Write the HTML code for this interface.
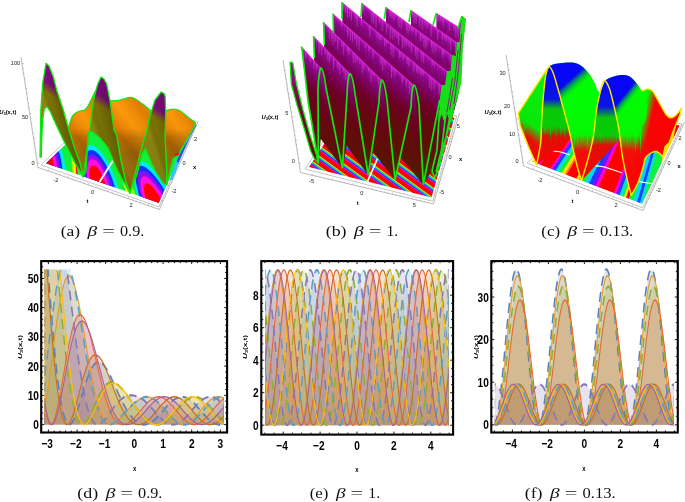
<!DOCTYPE html>
<html><head><meta charset="utf-8"><title>Figure</title>
<style>
html,body{margin:0;padding:0;background:#fff;}
svg{display:block;position:absolute;left:0;top:0;}
.tk{font-family:"Liberation Sans",sans-serif;font-weight:bold;font-size:13px;fill:#000;}
.yl{font-family:"Liberation Sans",sans-serif;font-weight:bold;font-size:8.2px;fill:#000;}
.xl{font-family:"Liberation Sans",sans-serif;font-weight:bold;font-size:8px;fill:#000;}
.cap{font-family:"Liberation Serif",serif;font-size:14.6px;fill:#111;}
.t3{font-family:"Liberation Sans",sans-serif;font-size:5.6px;fill:#222;}
.l3{font-family:"Liberation Sans",sans-serif;font-weight:bold;font-size:5.8px;fill:#000;}
</style></head><body>
<svg width="685" height="502" viewBox="0 0 685 502">
<rect width="685" height="502" fill="#fff"/>
<path d="M21 57 L38 167.5 L159.5 209.5 L198.5 121" fill="none" stroke="#777" stroke-width="0.5"/>
<path d="M41 165 L159 207 L196 124 L107 101 Z" fill="#fff" stroke="#888" stroke-width="0.5"/>
<clipPath id="fa"><path d="M46.3 163.3 L158.6 202.8 L193.7 125.4 L107.6 102.9 Z"/></clipPath>
<g clip-path="url(#fa)">
<path d="M41 165 L159 207 L196 124 L107 101 Z" fill="#10f040"/>
<path d="M66 173.9 L65.3 167.1 L64.3 160.7 L62.9 154.7 L61.3 149.4 L59.5 144.6 L57.5 140.6 L55.5 137.2 L53.3 134.6 L51.1 132.8 L48.8 131.7 L46.6 131.4 L44.5 131.9 L42.4 133.1 L40.4 135.1 L38.6 137.8 L36.9 141.3 L35.5 145.5 L34.3 150.4 L33.4 156 L32.8 162.1 L32.6 168.7 L32.9 175.6 L33.5 182.7 L34.6 189.8 L36.2 196.6 L38.2 203 L40.6 208.6 L43.3 213.3 L46.3 216.7 L49.4 218.7 L52.6 219.3 L55.6 218.3 L58.4 215.9 L60.8 212.1 L62.9 207.2 L64.5 201.4 L65.6 194.9 L66.2 188 L66.3 180.9 L66 173.9 Z" fill="#00e8ff"/>
<path d="M62.7 172.7 L62.2 166.9 L61.4 161.4 L60.3 156.3 L58.9 151.6 L57.4 147.4 L55.7 143.9 L53.9 140.9 L52.1 138.6 L50.1 137 L48.2 136 L46.2 135.7 L44.3 136.1 L42.5 137.2 L40.8 139 L39.2 141.4 L37.8 144.5 L36.5 148.2 L35.5 152.5 L34.8 157.4 L34.3 162.6 L34.2 168.3 L34.4 174.2 L35 180.1 L36 186.1 L37.4 191.8 L39.1 197 L41.1 201.6 L43.4 205.4 L45.9 208.2 L48.5 209.9 L51 210.3 L53.6 209.5 L55.9 207.6 L58 204.5 L59.7 200.5 L61.1 195.7 L62.1 190.4 L62.7 184.6 L62.9 178.7 L62.7 172.7 Z" fill="#1030ff"/>
<path d="M60 171.8 L59.6 166.8 L59 162.1 L58.1 157.7 L57 153.6 L55.7 150 L54.2 146.9 L52.7 144.3 L51.1 142.3 L49.4 140.9 L47.7 140 L46 139.8 L44.4 140.1 L42.8 141.1 L41.3 142.7 L40 144.8 L38.7 147.5 L37.7 150.8 L36.8 154.5 L36.2 158.6 L35.9 163.2 L35.8 168 L36 173 L36.5 178 L37.4 183 L38.6 187.7 L40 192 L41.7 195.8 L43.6 198.9 L45.7 201.1 L47.8 202.5 L50 202.9 L52.1 202.2 L54 200.6 L55.8 198.1 L57.3 194.9 L58.5 190.9 L59.4 186.5 L59.9 181.7 L60.1 176.8 L60 171.8 Z" fill="#8a10f0"/>
<path d="M57.3 170.8 L57 166.8 L56.5 162.8 L55.8 159.2 L54.9 155.8 L53.9 152.7 L52.7 150.1 L51.4 147.9 L50.1 146.1 L48.7 144.9 L47.3 144.2 L45.8 144 L44.5 144.3 L43.1 145.1 L41.9 146.5 L40.7 148.3 L39.7 150.6 L38.9 153.3 L38.2 156.5 L37.7 160 L37.4 163.7 L37.4 167.7 L37.6 171.8 L38 175.9 L38.8 179.9 L39.7 183.7 L40.9 187.2 L42.3 190.2 L43.8 192.6 L45.5 194.4 L47.2 195.5 L49 195.8 L50.7 195.3 L52.2 194 L53.7 192.1 L54.9 189.5 L55.9 186.3 L56.7 182.8 L57.1 178.9 L57.4 174.9 L57.3 170.8 Z" fill="#ff10e0"/>
<path d="M54.1 169.7 L54 166.7 L53.6 163.8 L53.1 161 L52.5 158.5 L51.7 156.2 L50.8 154.2 L49.9 152.5 L48.9 151.2 L47.8 150.2 L46.8 149.7 L45.7 149.5 L44.7 149.8 L43.7 150.4 L42.7 151.4 L41.9 152.8 L41.1 154.6 L40.5 156.7 L40 159 L39.6 161.6 L39.5 164.4 L39.4 167.4 L39.6 170.4 L40 173.4 L40.5 176.2 L41.2 179 L42.1 181.4 L43.1 183.5 L44.2 185.2 L45.4 186.5 L46.7 187.2 L47.9 187.4 L49.1 187.1 L50.3 186.2 L51.3 184.8 L52.2 183 L52.9 180.8 L53.5 178.3 L53.9 175.6 L54.1 172.6 L54.1 169.7 Z" fill="#ff0000"/>
<path d="M119.8 193.1 L117.6 185.3 L115 178 L112.3 171.3 L109.4 165.2 L106.5 159.9 L103.6 155.3 L100.7 151.6 L97.9 148.7 L95.2 146.6 L92.6 145.4 L90.2 145.1 L88.1 145.6 L86.2 147 L84.5 149.2 L83.2 152.3 L82.2 156.2 L81.6 161 L81.4 166.5 L81.7 172.8 L82.4 179.7 L83.6 187.2 L85.3 195.1 L87.6 203.3 L90.3 211.4 L93.4 219.3 L97 226.7 L100.8 233.2 L104.7 238.6 L108.6 242.6 L112.4 245 L115.8 245.6 L118.8 244.4 L121.2 241.6 L123 237.2 L124 231.4 L124.4 224.7 L124.1 217.1 L123.1 209.2 L121.7 201.1 L119.8 193.1 Z" fill="#00e8ff"/>
<path d="M116.1 191.7 L114.3 185.1 L112.2 178.8 L109.9 173 L107.5 167.7 L104.9 163 L102.4 159 L99.9 155.7 L97.4 153.1 L95.1 151.3 L92.8 150.2 L90.8 149.9 L88.9 150.4 L87.2 151.6 L85.8 153.6 L84.7 156.4 L83.8 159.9 L83.3 164 L83.2 168.9 L83.5 174.4 L84.1 180.3 L85.2 186.8 L86.7 193.5 L88.6 200.3 L91 207.2 L93.6 213.7 L96.6 219.8 L99.7 225.1 L103 229.5 L106.2 232.7 L109.3 234.6 L112.2 235.1 L114.7 234.2 L116.7 231.9 L118.2 228.3 L119.2 223.7 L119.6 218.1 L119.4 211.9 L118.7 205.3 L117.6 198.5 L116.1 191.7 Z" fill="#1030ff"/>
<path d="M113.1 190.6 L111.5 185 L109.8 179.7 L107.9 174.6 L105.8 170.1 L103.7 166 L101.5 162.5 L99.4 159.6 L97.2 157.3 L95.2 155.7 L93.2 154.7 L91.4 154.5 L89.8 154.9 L88.4 156 L87.1 157.7 L86.2 160.2 L85.5 163.2 L85.1 166.9 L85 171.1 L85.2 175.8 L85.8 181 L86.8 186.4 L88.1 192.1 L89.8 197.9 L91.7 203.6 L94 209 L96.5 214 L99.1 218.3 L101.8 221.9 L104.5 224.5 L107 226 L109.4 226.5 L111.5 225.7 L113.2 223.9 L114.5 221 L115.3 217.2 L115.7 212.6 L115.6 207.5 L115.1 202.1 L114.3 196.4 L113.1 190.6 Z" fill="#8a10f0"/>
<path d="M110 189.6 L108.8 184.9 L107.4 180.5 L105.9 176.3 L104.2 172.5 L102.4 169 L100.6 166 L98.8 163.6 L97 161.6 L95.3 160.2 L93.6 159.4 L92.1 159.2 L90.8 159.6 L89.5 160.5 L88.5 162 L87.7 164.1 L87.2 166.7 L86.8 169.8 L86.8 173.3 L87 177.3 L87.6 181.6 L88.4 186.1 L89.5 190.8 L90.9 195.5 L92.5 200 L94.3 204.4 L96.3 208.4 L98.5 211.8 L100.6 214.7 L102.8 216.7 L104.8 217.9 L106.7 218.2 L108.4 217.7 L109.8 216.2 L110.9 213.9 L111.6 211 L112 207.3 L112 203.3 L111.6 198.9 L111 194.2 L110 189.6 Z" fill="#ff10e0"/>
<path d="M106.4 188.3 L105.6 184.9 L104.6 181.6 L103.4 178.5 L102.2 175.6 L100.9 173 L99.6 170.7 L98.2 168.8 L96.9 167.3 L95.6 166.2 L94.3 165.6 L93.2 165.4 L92.1 165.7 L91.2 166.4 L90.5 167.6 L89.9 169.2 L89.5 171.2 L89.3 173.6 L89.2 176.2 L89.4 179.2 L89.9 182.4 L90.5 185.7 L91.3 189.1 L92.4 192.5 L93.6 195.8 L94.9 198.9 L96.4 201.8 L97.9 204.2 L99.4 206.1 L101 207.6 L102.4 208.4 L103.8 208.6 L105 208.2 L106 207.2 L106.8 205.7 L107.3 203.6 L107.6 201 L107.7 198.2 L107.5 195 L107 191.7 L106.4 188.3 Z" fill="#ff0000"/>
<path d="M181.1 214.9 L176.8 205.9 L172.4 197.6 L168 189.9 L163.5 183 L159.2 176.9 L155.1 171.8 L151.2 167.6 L147.6 164.3 L144.3 162 L141.4 160.7 L138.8 160.3 L136.7 160.9 L135 162.5 L133.8 165 L133.1 168.5 L133 172.9 L133.5 178.3 L134.5 184.6 L136.2 191.8 L138.6 199.7 L141.6 208.3 L145.2 217.4 L149.5 226.8 L154.3 236.3 L159.5 245.5 L165 254.1 L170.6 261.7 L176.1 268.1 L181.2 272.8 L185.8 275.5 L189.6 276.2 L192.5 274.9 L194.4 271.5 L195.2 266.2 L194.9 259.5 L193.6 251.6 L191.4 242.8 L188.5 233.5 L185 224.1 L181.1 214.9 Z" fill="#00e8ff"/>
<path d="M176.8 213.4 L173.3 205.8 L169.6 198.6 L165.8 191.9 L162 185.9 L158.3 180.6 L154.7 176 L151.3 172.3 L148.2 169.4 L145.3 167.3 L142.7 166.1 L140.5 165.8 L138.6 166.3 L137.2 167.7 L136.1 170 L135.6 173.1 L135.5 177 L135.9 181.8 L136.9 187.3 L138.4 193.6 L140.5 200.4 L143.1 207.8 L146.3 215.5 L149.9 223.4 L154 231.3 L158.3 238.9 L162.9 246 L167.5 252.2 L172 257.3 L176.3 261.1 L180.1 263.3 L183.2 263.9 L185.6 262.8 L187.2 260.1 L188 255.9 L187.8 250.4 L186.9 244 L185.2 236.7 L182.9 229.1 L180.1 221.2 L176.8 213.4 Z" fill="#1030ff"/>
<path d="M173.4 212.1 L170.4 205.7 L167.3 199.5 L164.1 193.8 L160.9 188.6 L157.7 183.9 L154.6 179.9 L151.7 176.7 L148.9 174.1 L146.4 172.3 L144.2 171.2 L142.2 170.9 L140.6 171.4 L139.4 172.6 L138.5 174.6 L138 177.4 L138 180.9 L138.4 185 L139.3 189.8 L140.6 195.2 L142.4 201.1 L144.7 207.4 L147.4 213.9 L150.5 220.6 L153.9 227.1 L157.6 233.4 L161.4 239.2 L165.2 244.3 L168.9 248.4 L172.4 251.5 L175.5 253.3 L178.1 253.8 L180.1 252.9 L181.5 250.7 L182.2 247.3 L182.1 242.9 L181.5 237.6 L180.2 231.6 L178.3 225.3 L176 218.7 L173.4 212.1 Z" fill="#8a10f0"/>
<path d="M169.9 210.9 L167.6 205.6 L165 200.5 L162.4 195.7 L159.7 191.3 L157.1 187.4 L154.5 184 L152 181.2 L149.7 179 L147.6 177.4 L145.7 176.5 L144 176.3 L142.7 176.7 L141.6 177.7 L140.9 179.5 L140.5 181.8 L140.5 184.8 L140.9 188.3 L141.7 192.4 L142.9 196.9 L144.4 201.8 L146.3 207 L148.6 212.4 L151.1 217.8 L153.9 223.1 L156.9 228.1 L159.9 232.7 L163 236.7 L166 240 L168.8 242.4 L171.2 243.8 L173.3 244.2 L175 243.5 L176.1 241.8 L176.7 239.1 L176.7 235.6 L176.2 231.4 L175.2 226.7 L173.8 221.6 L172 216.3 L169.9 210.9 Z" fill="#ff10e0"/>
<path d="M165.8 209.4 L164.1 205.5 L162.3 201.7 L160.4 198.2 L158.4 194.9 L156.4 191.9 L154.5 189.3 L152.6 187.1 L150.9 185.4 L149.2 184.2 L147.8 183.5 L146.6 183.3 L145.5 183.7 L144.8 184.5 L144.2 185.8 L144 187.6 L144 189.9 L144.3 192.6 L144.9 195.7 L145.8 199.1 L147 202.7 L148.5 206.6 L150.1 210.5 L152 214.4 L154.1 218.2 L156.2 221.8 L158.4 225 L160.6 227.8 L162.7 230.1 L164.6 231.8 L166.4 232.7 L167.9 233 L169.1 232.5 L169.9 231.3 L170.3 229.5 L170.4 227.1 L170.1 224.1 L169.5 220.8 L168.5 217.2 L167.3 213.3 L165.8 209.4 Z" fill="#ff0000"/>
<path d="M73.9 140.2 L73.2 140.3 L72.6 141.3 L72.1 143.1 L71.8 145.6 L71.5 149 L71.5 153.1 L71.6 157.9 L71.8 163.5 L72.2 169.6 L72.8 176.3 L73.6 183.4 L74.5 190.8 L75.6 198.3 L76.9 205.6 L78.2 212.5 L79.6 218.8 L81 224.1 L82.4 228.3 L83.7 231.1 L84.9 232.3 Z" fill="#a0ff00"/>
<path d="M75 149.1 L74.5 149.3 L74.1 150.1 L73.7 151.5 L73.5 153.5 L73.4 156.2 L73.4 159.4 L73.5 163.1 L73.8 167.3 L74.1 172 L74.6 177 L75.2 182.2 L75.9 187.5 L76.7 192.8 L77.6 197.9 L78.5 202.7 L79.5 207 L80.4 210.6 L81.3 213.3 L82.2 215.2 L82.9 216 Z" fill="#ffee00"/>
<path d="M76.5 162.3 L76.3 162.4 L76.1 162.8 L75.9 163.7 L75.9 164.8 L75.8 166.4 L75.9 168.2 L76 170.2 L76.1 172.6 L76.4 175.1 L76.6 177.7 L77 180.4 L77.3 183.1 L77.7 185.7 L78.2 188.2 L78.6 190.5 L79.1 192.5 L79.5 194.2 L79.9 195.4 L80.3 196.3 L80.6 196.6 Z" fill="#ff0000"/>
<path d="M144.7 257.2 L146.3 257 L147.3 255 L147.7 251.3 L147.4 246.1 L146.6 239.6 L145.3 232.2 L143.6 224.1 L141.5 215.7 L139.1 207.3 L136.6 199 L134 191.2 L131.4 183.8 L128.8 177.1 L126.3 171.2 L123.9 166 L121.7 161.7 L119.7 158.2 L117.8 155.6 L116.2 153.8 L114.9 153 Z" fill="#a0ff00"/>
<path d="M139.4 238.4 L140.4 238.2 L141 236.9 L141.2 234.4 L141 230.9 L140.5 226.5 L139.6 221.4 L138.4 215.8 L137 209.9 L135.3 203.9 L133.6 197.9 L131.7 192.2 L129.8 186.7 L127.9 181.6 L126.1 177.1 L124.4 173.1 L122.7 169.7 L121.2 167 L119.9 165 L118.7 163.6 L117.7 163 Z" fill="#ffee00"/>
<path d="M99.5 182 L113 160.5" stroke="#fff" stroke-width="2"/>
</g>
<defs><linearGradient id="ga1" x1="46" y1="63" x2="-22" y2="178" gradientUnits="userSpaceOnUse"><stop offset="0" stop-color="#9a0a9a"/><stop offset="0.12" stop-color="#820f82"/><stop offset="0.19" stop-color="#7d7404"/><stop offset="0.55" stop-color="#6c6802"/><stop offset="1" stop-color="#5a4c02"/></linearGradient><linearGradient id="ga2" x1="101" y1="77" x2="32" y2="193" gradientUnits="userSpaceOnUse"><stop offset="0" stop-color="#9a0a9a"/><stop offset="0.12" stop-color="#820f82"/><stop offset="0.19" stop-color="#7d7404"/><stop offset="0.55" stop-color="#6c6802"/><stop offset="1" stop-color="#5a4c02"/></linearGradient><linearGradient id="ga3" x1="161" y1="92" x2="93" y2="207" gradientUnits="userSpaceOnUse"><stop offset="0" stop-color="#9a0a9a"/><stop offset="0.12" stop-color="#820f82"/><stop offset="0.19" stop-color="#7d7404"/><stop offset="0.55" stop-color="#6c6802"/><stop offset="1" stop-color="#5a4c02"/></linearGradient><linearGradient id="go" x1="0" y1="97" x2="0" y2="190" gradientUnits="userSpaceOnUse"><stop offset="0" stop-color="#ff9606"/><stop offset="0.34" stop-color="#f58a02"/><stop offset="0.44" stop-color="#b86c04"/><stop offset="0.62" stop-color="#866008"/><stop offset="1" stop-color="#5e5204"/></linearGradient><linearGradient id="gos" x1="92" y1="128" x2="118.5" y2="106.6" gradientUnits="userSpaceOnUse" spreadMethod="repeat"><stop offset="0" stop-color="#ffb020" stop-opacity="0.25"/><stop offset="0.5" stop-color="#a04c00" stop-opacity="0.32"/><stop offset="1" stop-color="#ffb020" stop-opacity="0.25"/></linearGradient></defs>
<path d="M196 124.5 L194 128 L187 141 L181 152 L177 160 L172.5 172 L170 180 L171.8 180 L175 171 L181 157 L189.5 138 L196.5 125 Z" fill="#1848f0"/>
<path d="M176 160 L172.5 172 L170 180 L172.5 180 L176 171 L178.5 164 Z" fill="#30c8ff"/>
<path d="M68.3 128 C68.7 126.8 69.7 123.2 70.5 121 C71.3 118.8 72 116.6 73.3 115 C74.6 113.4 76.4 112.3 78.3 111.5 C80.2 110.7 82.9 110.8 84.5 109.9 C86.1 109 87 107.5 88 106 C89 104.5 89.8 102.6 90.7 100.7 C91.7 98.8 92.9 96.1 93.7 94.5 C94.5 92.9 95.2 91.6 95.5 91 L93.5 100.7 L92.2 110 L90.5 125 L88.2 140 L86.3 155 L84.6 168 L82.5 177 L80 163 L74 146.6 Z" fill="url(#go)"/>
<path d="M68.3 128 C68.7 126.8 69.7 123.2 70.5 121 C71.3 118.8 72 116.6 73.3 115 C74.6 113.4 76.4 112.3 78.3 111.5 C80.2 110.7 82.9 110.8 84.5 109.9 C86.1 109 87 107.5 88 106 C89 104.5 89.8 102.6 90.7 100.7 C91.7 98.8 92.9 96.1 93.7 94.5 C94.5 92.9 95.2 91.6 95.5 91 L93.5 100.7 L92.2 110 L90.5 125 L88.2 140 L86.3 155 L84.6 168 L82.5 177 L80 163 L74 146.6 Z" fill="url(#gos)" stroke="#12e612" stroke-width="1.2" stroke-linejoin="round"/>
<path d="M110 100.8 C111.7 100.7 116.4 100.5 120 100 C123.6 99.5 128 97 131.6 97.5 C135.2 98 138.4 101.1 141.6 103.3 C144.8 105.5 149.3 109.5 150.8 110.8 L146.6 131.6 L141.6 153.2 L136.6 175 L130 193.2 L125.8 181.6 L120.8 160 L116.6 135 L114 130 Z" fill="url(#go)"/>
<path d="M110 100.8 C111.7 100.7 116.4 100.5 120 100 C123.6 99.5 128 97 131.6 97.5 C135.2 98 138.4 101.1 141.6 103.3 C144.8 105.5 149.3 109.5 150.8 110.8 L146.6 131.6 L141.6 153.2 L136.6 175 L130 193.2 L125.8 181.6 L120.8 160 L116.6 135 L114 130 Z" fill="url(#gos)" stroke="#12e612" stroke-width="1.2" stroke-linejoin="round"/>
<path d="M165.7 110.8 C166.9 110.5 170.8 109 173.2 109 C175.6 109 177.5 109.4 180 110.8 C182.5 112.2 185.6 115.5 188.2 117.4 C190.8 119.3 194.4 121.6 195.7 122.4 L193.2 128.3 L186.5 140 L180 151.5 L177 156 L173.2 158.3 L170 170 L166.9 185 L166.5 168 L165 138 Z" fill="url(#go)"/>
<path d="M165.7 110.8 C166.9 110.5 170.8 109 173.2 109 C175.6 109 177.5 109.4 180 110.8 C182.5 112.2 185.6 115.5 188.2 117.4 C190.8 119.3 194.4 121.6 195.7 122.4 L193.2 128.3 L186.5 140 L180 151.5 L177 156 L173.2 158.3 L170 170 L166.9 185 L166.5 168 L165 138 Z" fill="url(#gos)" stroke="#12e612" stroke-width="1.2" stroke-linejoin="round"/>
<defs><linearGradient id="sh0" x1="44" y1="100" x2="59.2" y2="95" gradientUnits="userSpaceOnUse"><stop offset="0" stop-color="#ffe060" stop-opacity="0.16"/><stop offset="0.35" stop-color="#000" stop-opacity="0"/><stop offset="1" stop-color="#000" stop-opacity="0.22"/></linearGradient><linearGradient id="sh1" x1="90" y1="115" x2="110.9" y2="108.2" gradientUnits="userSpaceOnUse"><stop offset="0" stop-color="#ffe060" stop-opacity="0.16"/><stop offset="0.35" stop-color="#000" stop-opacity="0"/><stop offset="1" stop-color="#000" stop-opacity="0.22"/></linearGradient><linearGradient id="sh2" x1="147" y1="125" x2="167.9" y2="118.2" gradientUnits="userSpaceOnUse"><stop offset="0" stop-color="#ffe060" stop-opacity="0.16"/><stop offset="0.35" stop-color="#000" stop-opacity="0"/><stop offset="1" stop-color="#000" stop-opacity="0.22"/></linearGradient></defs>
<path d="M40 157 L40.3 140 L40.8 110 L42.7 83 L46 63.3 L49 66 L53.3 76.7 L56.6 90 L63.3 110 L68.3 128 L74 146.6 L80 163 L83 176 L75 163 L70 153 L63.3 140 L55.5 123.3 L50.5 112 L48 108 L46.2 106.8 L44.3 109.5 L42.9 118 L42.1 130 L41.6 145 L41.3 157 Z" fill="url(#ga1)"/>
<path d="M40 157 L40.3 140 L40.8 110 L42.7 83 L46 63.3 L49 66 L53.3 76.7 L56.6 90 L63.3 110 L68.3 128 L74 146.6 L80 163 L83 176 L75 163 L70 153 L63.3 140 L55.5 123.3 L50.5 112 L48 108 L46.2 106.8 L44.3 109.5 L42.9 118 L42.1 130 L41.6 145 L41.3 157 Z" fill="url(#sh0)" stroke="#12e612" stroke-width="1.3" stroke-linejoin="round"/>
<path d="M101 77 L104 79 L106.7 84 L110 101 L114 130 L116.6 135 L120.8 160 L125.8 181.6 L130 193.2 L126 186 L118 171.5 L113 160 L108 148 L99.9 138 L91.6 131.6 L88.6 131.6 L87.6 145 L85.9 171.5 L83 177 L84.6 168 L86.3 155 L88.2 140 L90.5 125 L92.2 110 L93.5 100.7 L96 90 L97.8 84 Z" fill="url(#ga2)"/>
<path d="M101 77 L104 79 L106.7 84 L110 101 L114 130 L116.6 135 L120.8 160 L125.8 181.6 L130 193.2 L126 186 L118 171.5 L113 160 L108 148 L99.9 138 L91.6 131.6 L88.6 131.6 L87.6 145 L85.9 171.5 L83 177 L84.6 168 L86.3 155 L88.2 140 L90.5 125 L92.2 110 L93.5 100.7 L96 90 L97.8 84 Z" fill="url(#sh1)" stroke="#12e612" stroke-width="1.3" stroke-linejoin="round"/>
<path d="M161.2 92 L164 93.5 L165.2 96.6 L165.7 113 L165 138 L165.7 150 L166.5 168 L166.9 185 L163.2 183.3 L156.6 173.3 L151.6 163.3 L146.6 151.6 L145.5 148 L141.8 155 L136.8 175 L130 193.2 L135 174 L140 154 L144 140 L146.6 131.6 L150.8 113.3 L155 100 Z" fill="url(#ga3)"/>
<path d="M161.2 92 L164 93.5 L165.2 96.6 L165.7 113 L165 138 L165.7 150 L166.5 168 L166.9 185 L163.2 183.3 L156.6 173.3 L151.6 163.3 L146.6 151.6 L145.5 148 L141.8 155 L136.8 175 L130 193.2 L135 174 L140 154 L144 140 L146.6 131.6 L150.8 113.3 L155 100 Z" fill="url(#sh2)" stroke="#12e612" stroke-width="1.3" stroke-linejoin="round"/>
<path d="M175.5 153.5 l4 -1.2 l-1 3 l-4 0.8z" fill="#f01010"/>
<path d="M22 63.3 l1.8 0.5 M22.8 68.3 l1 0.2 M23.5 73.3 l1 0.2 M24.3 78.3 l1 0.2 M25.1 83.2 l1 0.2 M25.8 88.2 l1.8 0.5 M26.6 93.2 l1 0.2 M27.4 98.2 l1 0.2 M28.1 103.2 l1 0.2 M28.9 108.2 l1 0.2 M29.6 113.2 l1.8 0.5 M30.4 118.1 l1 0.2 M31.2 123.1 l1 0.2 M31.9 128.1 l1 0.2 M32.7 133.1 l1 0.2 M33.5 138.1 l1.8 0.5 M34.2 143.1 l1 0.2 M35 148 l1 0.2 M35.8 153 l1 0.2 M36.5 158 l1 0.2 M37.3 163 l1.8 0.5" stroke="#777" stroke-width="0.4" fill="none"/>
<path d="M48 171 l0.6 -1.7 M52 172.4 l0.3 -0.9 M56 173.8 l0.3 -0.9 M60 175.2 l0.3 -0.9 M64 176.5 l0.3 -0.9 M68 177.9 l0.6 -1.7 M72 179.3 l0.3 -0.9 M76 180.7 l0.3 -0.9 M80 182.1 l0.3 -0.9 M84 183.5 l0.3 -0.9 M88 184.8 l0.6 -1.7 M92 186.2 l0.3 -0.9 M96 187.6 l0.3 -0.9 M100 189 l0.3 -0.9 M104 190.4 l0.3 -0.9 M108 191.8 l0.6 -1.7 M112 193.2 l0.3 -0.9 M116 194.5 l0.3 -0.9 M120 195.9 l0.3 -0.9 M124 197.3 l0.3 -0.9 M128 198.7 l0.6 -1.7 M132 200.1 l0.3 -0.9 M136 201.5 l0.3 -0.9 M140 202.8 l0.3 -0.9 M144 204.2 l0.3 -0.9 M148 205.6 l0.6 -1.7 M152 207 l0.3 -0.9" stroke="#777" stroke-width="0.4" fill="none"/>
<path d="M163 201 l-1.7 -0.5 M164.4 197.9 l-0.9 -0.3 M165.8 194.7 l-0.9 -0.3 M167.2 191.6 l-0.9 -0.3 M168.6 188.4 l-0.9 -0.3 M170 185.3 l-1.7 -0.5 M171.4 182.1 l-0.9 -0.3 M172.8 179 l-0.9 -0.3 M174.2 175.8 l-0.9 -0.3 M175.6 172.7 l-0.9 -0.3 M177 169.5 l-1.7 -0.5 M178.4 166.4 l-0.9 -0.3 M179.8 163.2 l-0.9 -0.3 M181.1 160.1 l-0.9 -0.3 M182.5 157 l-0.9 -0.3 M183.9 153.8 l-1.7 -0.5 M185.3 150.7 l-0.9 -0.3 M186.7 147.5 l-0.9 -0.3 M188.1 144.4 l-0.9 -0.3 M189.5 141.2 l-0.9 -0.3 M190.9 138.1 l-1.7 -0.5 M192.3 134.9 l-0.9 -0.3 M193.7 131.8 l-0.9 -0.3 M195.1 128.6 l-0.9 -0.3 M196.5 125.5 l-0.9 -0.3" stroke="#777" stroke-width="0.4" fill="none"/>
<text x="15.5" y="65" class="t3" text-anchor="middle">100</text>
<text x="25" y="119" class="t3" text-anchor="middle">50</text>
<text x="33" y="165" class="t3" text-anchor="middle">0</text>
<text x="7.8" y="114" class="l3" text-anchor="middle"><tspan font-style="italic">U</tspan><tspan font-size="4" dy="1.2">3</tspan><tspan dy="-1.2">(x,t)</tspan></text>
<text x="56" y="182" class="t3" text-anchor="middle">-2</text>
<text x="92.6" y="194" class="t3" text-anchor="middle">0</text>
<text x="131" y="207" class="t3" text-anchor="middle">2</text>
<text x="87.4" y="203" class="l3" text-anchor="middle">t</text>
<text x="195.6" y="141" class="t3" text-anchor="middle">2</text>
<text x="184" y="165" class="t3" text-anchor="middle">0</text>
<text x="174" y="192.6" class="t3" text-anchor="middle">-2</text>
<text x="194.6" y="168.6" class="l3" text-anchor="middle">x</text>
<path d="M283 60 L300.5 172.5 L433.5 204 L459.5 113" fill="none" stroke="#777" stroke-width="0.5"/>
<path d="M305 169 L432.7 201.3 L456.7 116 L352 98 Z" fill="#fff" stroke="#888" stroke-width="0.5"/>
<defs><linearGradient id="fb" x1="0" y1="0" x2="-4.9" y2="6.7" gradientUnits="userSpaceOnUse" spreadMethod="repeat"><stop offset="0" stop-color="#ff0000"/><stop offset="0.38" stop-color="#ff0000"/><stop offset="0.46" stop-color="#ffe000"/><stop offset="0.55" stop-color="#20e020"/><stop offset="0.65" stop-color="#00d0ff"/><stop offset="0.76" stop-color="#2030ff"/><stop offset="0.88" stop-color="#e010e0"/><stop offset="1" stop-color="#ff0000"/></linearGradient></defs>
<path d="M309 166.9 L431.5 197.5 L454.4 117.7 L352.8 100.1 Z" fill="url(#fb)"/>
<path d="M367.5 181.5 L377.5 158.5" stroke="#fff" stroke-width="1.8"/>
<defs><linearGradient id="gb0" x1="436.4" y1="13" x2="391.5" y2="85.1" gradientUnits="userSpaceOnUse"><stop offset="0" stop-color="#dc20dc"/><stop offset="0.03" stop-color="#ac10ac"/><stop offset="0.08" stop-color="#8e0a8c"/><stop offset="0.19" stop-color="#7a005c"/><stop offset="0.32" stop-color="#6e0028"/><stop offset="0.5" stop-color="#640810"/><stop offset="0.8" stop-color="#5a1400"/><stop offset="1" stop-color="#4e2c00"/></linearGradient><linearGradient id="gb1" x1="411" y1="10" x2="364" y2="77.1" gradientUnits="userSpaceOnUse"><stop offset="0" stop-color="#dc20dc"/><stop offset="0.03" stop-color="#ac10ac"/><stop offset="0.08" stop-color="#8e0a8c"/><stop offset="0.19" stop-color="#7a005c"/><stop offset="0.32" stop-color="#6e0028"/><stop offset="0.5" stop-color="#640810"/><stop offset="0.8" stop-color="#5a1400"/><stop offset="1" stop-color="#4e2c00"/></linearGradient><linearGradient id="gb2" x1="386" y1="7" x2="338.4" y2="72.4" gradientUnits="userSpaceOnUse"><stop offset="0" stop-color="#dc20dc"/><stop offset="0.03" stop-color="#ac10ac"/><stop offset="0.08" stop-color="#8e0a8c"/><stop offset="0.19" stop-color="#7a005c"/><stop offset="0.32" stop-color="#6e0028"/><stop offset="0.5" stop-color="#640810"/><stop offset="0.8" stop-color="#5a1400"/><stop offset="1" stop-color="#4e2c00"/></linearGradient><linearGradient id="gb3" x1="362" y1="3" x2="313.2" y2="64" gradientUnits="userSpaceOnUse"><stop offset="0" stop-color="#dc20dc"/><stop offset="0.03" stop-color="#ac10ac"/><stop offset="0.08" stop-color="#8e0a8c"/><stop offset="0.19" stop-color="#7a005c"/><stop offset="0.32" stop-color="#6e0028"/><stop offset="0.5" stop-color="#640810"/><stop offset="0.8" stop-color="#5a1400"/><stop offset="1" stop-color="#4e2c00"/></linearGradient><linearGradient id="gb4" x1="342" y1="2" x2="292.8" y2="61" gradientUnits="userSpaceOnUse"><stop offset="0" stop-color="#dc20dc"/><stop offset="0.03" stop-color="#ac10ac"/><stop offset="0.08" stop-color="#8e0a8c"/><stop offset="0.19" stop-color="#7a005c"/><stop offset="0.32" stop-color="#6e0028"/><stop offset="0.5" stop-color="#640810"/><stop offset="0.8" stop-color="#5a1400"/><stop offset="1" stop-color="#4e2c00"/></linearGradient><linearGradient id="gb5" x1="333" y1="13.6" x2="283.4" y2="69.9" gradientUnits="userSpaceOnUse"><stop offset="0" stop-color="#dc20dc"/><stop offset="0.03" stop-color="#ac10ac"/><stop offset="0.08" stop-color="#8e0a8c"/><stop offset="0.19" stop-color="#7a005c"/><stop offset="0.32" stop-color="#6e0028"/><stop offset="0.5" stop-color="#640810"/><stop offset="0.8" stop-color="#5a1400"/><stop offset="1" stop-color="#4e2c00"/></linearGradient><linearGradient id="gb6" x1="323.6" y1="22" x2="273.6" y2="72.3" gradientUnits="userSpaceOnUse"><stop offset="0" stop-color="#dc20dc"/><stop offset="0.03" stop-color="#ac10ac"/><stop offset="0.08" stop-color="#8e0a8c"/><stop offset="0.19" stop-color="#7a005c"/><stop offset="0.32" stop-color="#6e0028"/><stop offset="0.5" stop-color="#640810"/><stop offset="0.8" stop-color="#5a1400"/><stop offset="1" stop-color="#4e2c00"/></linearGradient><linearGradient id="gb7" x1="313.6" y1="36" x2="263.6" y2="84.4" gradientUnits="userSpaceOnUse"><stop offset="0" stop-color="#dc20dc"/><stop offset="0.03" stop-color="#ac10ac"/><stop offset="0.08" stop-color="#8e0a8c"/><stop offset="0.19" stop-color="#7a005c"/><stop offset="0.32" stop-color="#6e0028"/><stop offset="0.5" stop-color="#640810"/><stop offset="0.8" stop-color="#5a1400"/><stop offset="1" stop-color="#4e2c00"/></linearGradient><linearGradient id="gb8" x1="301.6" y1="46.4" x2="251.9" y2="91" gradientUnits="userSpaceOnUse"><stop offset="0" stop-color="#dc20dc"/><stop offset="0.03" stop-color="#ac10ac"/><stop offset="0.08" stop-color="#8e0a8c"/><stop offset="0.19" stop-color="#7a005c"/><stop offset="0.32" stop-color="#6e0028"/><stop offset="0.5" stop-color="#640810"/><stop offset="0.8" stop-color="#5a1400"/><stop offset="1" stop-color="#4e2c00"/></linearGradient><clipPath id="cb"><path d="M280 0 L466 0 L466 19 L463 46 L461.5 82 L457 100 L452.5 116 L447.5 133 L440 160 L435 178 L428 200 L280 200 Z"/></clipPath></defs>
<g clip-path="url(#cb)">
<path d="M458 29 L462 16 L465.6 19 L463 46 L458 50 Z" fill="#a80ea8"/>
<path d="M436.4 13 L460.5 28 L457.5 138 L436.4 123 Z" fill="url(#gb0)"/>
<path d="M437.9 14.7v6.9M440.2 16.2v4.7M442.1 17.4v4.5M443.6 18.3v7.9M449.4 21.9v9.2M454 24.7v5.3M455.8 25.9v11.3M458 27.3v9.8" stroke="#f060f0" stroke-opacity="0.5" stroke-width="0.7" fill="none"/>
<path d="M445.1 20.9v10.8M446.7 21.9v9M452.2 25.3v7.4" stroke="#60005a" stroke-opacity="0.4" stroke-width="0.8" fill="none"/>
<path d="M411 10 L456.7 42 L453.7 152 L411 120 Z" fill="url(#gb1)"/>
<path d="M412.5 11.9v4.6M414.2 13v10.1M416 14.3v9.3M419.6 16.8v9.2M422.2 18.7v10.6M425 20.6v5.1M427.4 22.3v5.4M431.1 24.9v11.9M437.6 29.4v10M442.5 32.9v6.6M444.8 34.5v4.2M446.5 35.6v5.1M449 37.4v5.2M450.9 38.7v11.8M455.5 41.9v11.8" stroke="#f060f0" stroke-opacity="0.5" stroke-width="0.7" fill="none"/>
<path d="M417.8 17.3v14.1M428.9 25v13M433.5 28.2v12.3M435.5 29.7v14.6M440 32.8v12.8M452.9 41.9v11.9" stroke="#60005a" stroke-opacity="0.4" stroke-width="0.8" fill="none"/>
<path d="M386 7 L452 55 L449 165 L386 117 Z" fill="url(#gb2)"/>
<path d="M390.2 10.9v5.4M392 12.1v6.1M394.2 13.8v6.4M398.9 17.2v10.2M401.2 18.8v10.1M406.4 22.6v7.5M407.9 23.7v9.7M409.4 24.8v5.9M411.3 26.2v4.5M412.9 27.3v4.9M415.9 29.6v6.3M420.6 33v8.2M422.1 34.1v4.9M423.9 35.4v11.5M425.3 36.4v12.6M427 37.6v8.9M431.5 40.9v6.4M433.1 42.1v10.9M435.6 43.9v7M442.4 48.8v8.7M443.8 49.8v4.3M450.3 54.6v7.3" stroke="#f060f0" stroke-opacity="0.5" stroke-width="0.7" fill="none"/>
<path d="M387.5 10.6v10.2M396.2 16.9v10.3M403.8 22.5v14M414.3 30.1v14.9M417.8 32.7v8.1M429.1 40.8v15.8M438.1 47.4v15.9M440.7 49.2v14.4M445.6 52.8v13.2M447.6 54.3v15.4" stroke="#60005a" stroke-opacity="0.4" stroke-width="0.8" fill="none"/>
<path d="M362 3 L447 71 L444 181 L362 113 Z" fill="url(#gb3)"/>
<path d="M363.5 5v5.8M371.9 11.7v10.8M373.5 13v11.1M376 15v12.7M379.6 17.9v5.1M382.3 20v11.3M386.7 23.6v8.9M390.3 26.4v12.4M392.9 28.5v11.4M394.7 29.9v6.6M396.9 31.7v6.3M398.5 33v12.2M402.5 36.2v12.3M404.7 37.9v8.7M406.7 39.5v5.6M409.2 41.6v5.6M411.6 43.5v9M415.3 46.4v9M417.1 47.9v11M421.3 51.2v9.5M423.4 52.9v10.2M432.3 60v5.2M434.3 61.6v4.7" stroke="#f060f0" stroke-opacity="0.5" stroke-width="0.7" fill="none"/>
<path d="M365.8 8.5v15.1M367.8 10.2v12.9M369.4 11.4v12.9M378 18.3v15.5M384.9 23.8v15.8M388.2 26.4v15.7M400.5 36.3v12.3M413.7 46.9v12M419.3 51.3v13.8M425.5 56.3v11.3M427.9 58.2v14.9M429.7 59.6v12M435.8 64.5v13M438.4 66.6v8.4M440.8 68.5v8.3M443.5 70.7v9M445.5 72.3v11.4" stroke="#60005a" stroke-opacity="0.4" stroke-width="0.8" fill="none"/>
<path d="M342 2 L441.5 85 L439.7 100 L438 130 L434 150 L431 172 L423.3 184.7 L343 47 Z" fill="url(#gb4)"/>
<path d="M343.5 4.1v5.5M345.6 5.8v7.1M347.5 7.4v10.5M349.6 9.2v8M351.5 10.7v9.6M355.8 14.3v4.9M357.2 15.5v11M361.3 18.9v6.3M369.8 26v11.2M377.2 32.1v6.4M379.3 33.9v6.1M380.9 35.3v4.5M384.6 38.3v8.5M386.5 39.9v4.2M391.1 43.8v11.4M393.2 45.5v11.5M399.5 50.7v7.6M400.9 52v5.2M403.4 54v6.3M407.2 57.2v6.5M409 58.7v8.1M413.8 62.7v8.9M416.6 65v6.8M418 66.2v7.4M420.1 67.9v5.8M421.5 69.1v6.4M423.5 70.8v4.4M429.8 76.1v11.9M431.7 77.6v12.9M434.1 79.6v9.8M439.1 83.8v11.3" stroke="#f060f0" stroke-opacity="0.5" stroke-width="0.7" fill="none"/>
<path d="M353 13.7v15.9M358.8 18.5v10.8M364 22.9v12.1M365.6 24.1v7.5M367.5 25.8v7.7M372.4 29.9v7.6M374.5 31.6v10.1M382.8 38.5v9.7M387.9 42.8v13.6M389.5 44.2v11.3M395.3 49v13.2M397.2 50.5v14.5M404.9 57v14.6M411.1 62.1v9.4M425.3 74v9.1M427.4 75.8v13.8M436.7 83.5v15" stroke="#60005a" stroke-opacity="0.4" stroke-width="0.8" fill="none"/>
<path d="M333 13.6 L414 85 L423.3 184.7 L400 157 L395 180 L334 58.6 Z" fill="url(#gb5)"/>
<path d="M341.4 21.8v4.3M347.8 27.5v8.4M350.4 29.7v10.7M352.5 31.6v9.9M354.9 33.7v6.3M356.7 35.3v10.6M359.1 37.4v12.8M365.1 42.7v5.3M368.9 46.1v4.5M373.1 49.7v8.6M381 56.7v8M382.7 58.2v12.5M384.9 60.1v5.3M391.5 65.9v12.1M392.9 67.2v4M394.9 69v6.7M402.4 75.6v6.6M406.3 79v7.9M409.6 81.9v12.4M411.3 83.4v8.6" stroke="#f060f0" stroke-opacity="0.5" stroke-width="0.7" fill="none"/>
<path d="M334.5 17.4v11.5M337 19.6v14.4M339.7 22v13.1M343.3 25.2v7.9M345.5 27.1v12.6M361.1 40.9v11.3M363.6 43v12.6M367.5 46.5v9.7M371.3 49.8v13.2M375.1 53.2v8.1M376.8 54.7v15.8M378.2 56v11.1M387.6 64.2v8.2M389.7 66.1v15M396.8 72.3v9.8M398.2 73.6v13.8M399.8 75v15.3M404.4 79v16M407.8 82v7.9M413.3 86.8v15.6" stroke="#60005a" stroke-opacity="0.4" stroke-width="0.8" fill="none"/>
<path d="M323.6 22 L382 80 L395 180 L373 152 L368.2 175 L324.6 67 Z" fill="url(#gb6)"/>
<path d="M329.3 28.4v10.6M331.7 30.9v9.8M333.2 32.3v12.3M335.3 34.4v7.1M337.7 36.8v12.8M342 41v5.5M343.7 42.7v12.2M347.4 46.4v5.3M348.9 48v7.1M353.3 52.3v10.7M355.3 54.3v8.7M357.2 56.1v4.6M359.9 58.9v5.1M362.2 61.1v11.8M364 62.9v6.2M368.6 67.5v4.2M371 69.9v12.1M373.2 72.1v4M378.7 77.5v6.2" stroke="#f060f0" stroke-opacity="0.5" stroke-width="0.7" fill="none"/>
<path d="M325.1 26v12.7M327.8 28.7v11.9M340 40.8v9.7M345.4 46.1v15.2M350.7 51.4v9.3M366 66.6v15.6M375.9 76.5v14.4M380.3 80.8v11.7" stroke="#60005a" stroke-opacity="0.4" stroke-width="0.8" fill="none"/>
<path d="M313.6 36 L350 73.6 L368.2 175 L346.6 145.8 L342.4 168.3 L314.6 81 Z" fill="url(#gb7)"/>
<path d="M319 42.4v11M321.7 45.2v9.8M325.7 49.3v5M327.8 51.5v9.2M329.5 53.2v9.4M333.6 57.5v12M337.8 61.8v6.8M339.9 63.9v10.1M343.3 67.5v4.3M345.3 69.6v10.1M347.8 72.2v10.7" stroke="#f060f0" stroke-opacity="0.5" stroke-width="0.7" fill="none"/>
<path d="M315.1 40v13.5M317.6 42.6v11.1M323.3 48.5v9.3M331.3 56.8v11.1M335.4 61v9.2M341.6 67.4v13" stroke="#60005a" stroke-opacity="0.4" stroke-width="0.8" fill="none"/>
<path d="M301.6 46.4 L321 68 L342.4 168.3 L320.8 139 L318.3 163.3 L316.5 152 L312.6 128 L308 101 L304.5 70 Z" fill="url(#gb8)"/>
<path d="M303.1 48.9v12.7M305.6 51.7v6.1M310.2 56.8v5.7M313.8 60.8v7.5M316.6 63.9v5.3" stroke="#f060f0" stroke-opacity="0.5" stroke-width="0.7" fill="none"/>
<path d="M308.1 56.2v9.7M312.2 60.7v13M318 67.2v10.5" stroke="#60005a" stroke-opacity="0.4" stroke-width="0.8" fill="none"/>
</g>
<defs><linearGradient id="gbr" x1="0" y1="95" x2="0" y2="180" gradientUnits="userSpaceOnUse"><stop offset="0" stop-color="#8a0a70"/><stop offset="0.5" stop-color="#6a0820"/><stop offset="1" stop-color="#561800"/></linearGradient></defs>
<path d="M439.7 98 L457.5 98 L452.5 116 L447.5 133 L440 160 L435 178 L431 172 L434 150 L438 130 Z" fill="url(#gbr)"/>
<path d="M462 16 L466 19 L463 46 L461.5 82 L457 100 L453.5 110 L449.5 120 L447 114 L445 124 L441.5 114 L439.3 122 L439.7 100 L441.5 85 L445 85 L447 71 L450.5 71 L452 55 L455.8 56 L456.7 42 L459.5 42 L460.5 28 Z" fill="#18e018"/>
<path d="M461.5 34 L458.5 70 L454 104 M458 50 L455 80 L449.5 110 M452.5 78 L449 100 L446 116" stroke="#8a0a7a" stroke-width="0.9" fill="none"/>
<path d="M439.5 110 L437 150 L432 171 L435 178 M446 112 L441.5 150 L436 172 M450 116 L443.5 150 L438 169 L435 178 M453.5 110 L447 133 L440 160" stroke="#18e018" stroke-width="1.7" fill="none" stroke-linejoin="round"/>
<defs><linearGradient id="gbl" x1="0" y1="62" x2="0" y2="163" gradientUnits="userSpaceOnUse"><stop offset="0" stop-color="#a010a0"/><stop offset="0.35" stop-color="#7a0840"/><stop offset="1" stop-color="#5a0c04"/></linearGradient></defs>
<path d="M290 62 L292.8 62.5 L296.5 84 L303 110 L310 135 L316.5 155 L318.3 163.3 L314 158 L310.7 151 L304 128 L297 105 L291.3 84 Z" fill="url(#gbl)" stroke="#12e612" stroke-width="1.2" stroke-linejoin="round"/>
<path d="M301.6 46.4 L304.5 70 L308 101 L312.6 128 L316.5 152 L318.3 163.3 M313.6 36 L314.4 58 M323.6 22 L324.4 45 M333 13.6 L333.6 33 M342 2 L342 19 M362 3 L361 17 M386 7 L384.4 19 M411 10 L409 22 M436.4 13 L433 25 M462 16 L458 28 M318.3 163.3 L318 90 Q318.8 70 321 68 Q323.5 69 326 88 L342.4 168.3 M342.4 168.3 L347 95.6 Q347.8 75.6 350 73.6 Q352.5 74.6 355 93.6 L368.2 175 M368.2 175 L379 102 Q379.8 82 382 80 Q384.5 81 387 100 L395 180 M395 180 L411 107 Q411.8 87 414 85 Q416.5 86 419 105 L423.3 184.7 M423.3 184.7 L432 140 L439.7 100" fill="none" stroke="#12e612" stroke-width="1.7" stroke-linejoin="round"/>
<path d="M284.5 70 l1.8 0.5 M285.2 74.7 l1 0.2 M285.9 79.3 l1 0.2 M286.7 84 l1 0.2 M287.4 88.6 l1 0.2 M288.1 93.2 l1.8 0.5 M288.9 97.9 l1 0.2 M289.6 102.5 l1 0.2 M290.3 107.2 l1 0.2 M291 111.8 l1 0.2 M291.8 116.5 l1.8 0.5 M292.5 121.2 l1 0.2 M293.2 125.8 l1 0.2 M293.9 130.4 l1 0.2 M294.6 135.1 l1 0.2 M295.4 139.8 l1.8 0.5 M296.1 144.4 l1 0.2 M296.8 149.1 l1 0.2 M297.6 153.7 l1 0.2 M298.3 158.3 l1 0.2 M299 163 l1.8 0.5" stroke="#777" stroke-width="0.4" fill="none"/>
<path d="M312 175.5 l0.5 -1.7 M316 176.4 l0.3 -0.9 M320 177.4 l0.3 -0.9 M324 178.3 l0.3 -0.9 M328 179.3 l0.3 -0.9 M332 180.2 l0.5 -1.7 M336 181.2 l0.3 -0.9 M340 182.1 l0.3 -0.9 M344 183.1 l0.3 -0.9 M348 184 l0.3 -0.9 M352 185 l0.5 -1.7 M356 185.9 l0.3 -0.9 M360 186.9 l0.3 -0.9 M364 187.8 l0.3 -0.9 M368 188.8 l0.3 -0.9 M372 189.7 l0.5 -1.7 M376 190.6 l0.3 -0.9 M380 191.6 l0.3 -0.9 M384 192.5 l0.3 -0.9 M388 193.5 l0.3 -0.9 M392 194.4 l0.5 -1.7 M396 195.4 l0.3 -0.9 M400 196.3 l0.3 -0.9 M404 197.3 l0.3 -0.9 M408 198.2 l0.3 -0.9 M412 199.2 l0.5 -1.7 M416 200.1 l0.3 -0.9 M420 201.1 l0.3 -0.9 M424 202 l0.3 -0.9" stroke="#777" stroke-width="0.4" fill="none"/>
<path d="M436 196 l-1.7 -0.5 M436.8 193.3 l-0.9 -0.3 M437.5 190.6 l-0.9 -0.3 M438.3 187.9 l-0.9 -0.3 M439.1 185.1 l-0.9 -0.3 M439.8 182.4 l-1.7 -0.5 M440.6 179.7 l-0.9 -0.3 M441.4 177 l-0.9 -0.3 M442.1 174.3 l-0.9 -0.3 M442.9 171.6 l-0.9 -0.3 M443.7 168.9 l-1.7 -0.5 M444.4 166.1 l-0.9 -0.3 M445.2 163.4 l-0.9 -0.3 M446 160.7 l-0.9 -0.3 M446.8 158 l-0.9 -0.3 M447.5 155.3 l-1.7 -0.5 M448.3 152.6 l-0.9 -0.3 M449.1 149.9 l-0.9 -0.3 M449.8 147.1 l-0.9 -0.3 M450.6 144.4 l-0.9 -0.3 M451.4 141.7 l-1.7 -0.5 M452.1 139 l-0.9 -0.3 M452.9 136.3 l-0.9 -0.3 M453.7 133.6 l-0.9 -0.3 M454.4 130.9 l-0.9 -0.3 M455.2 128.1 l-1.7 -0.5 M456 125.4 l-0.9 -0.3 M456.7 122.7 l-0.9 -0.3 M457.5 120 l-0.9 -0.3" stroke="#777" stroke-width="0.4" fill="none"/>
<text x="286.7" y="114.6" class="t3" text-anchor="middle">5</text>
<text x="293.3" y="162.7" class="t3" text-anchor="middle">0</text>
<text x="270" y="119" class="l3" text-anchor="middle"><tspan font-style="italic">U</tspan><tspan font-size="4" dy="1.2">3</tspan><tspan dy="-1.2">(x,t)</tspan></text>
<text x="311.7" y="183.3" class="t3" text-anchor="middle">-5</text>
<text x="361.7" y="195" class="t3" text-anchor="middle">0</text>
<text x="414.3" y="207.3" class="t3" text-anchor="middle">5</text>
<text x="357.7" y="205" class="l3" text-anchor="middle">t</text>
<text x="458.3" y="128.3" class="t3" text-anchor="middle">5</text>
<text x="450" y="159" class="t3" text-anchor="middle">0</text>
<text x="441.7" y="194.3" class="t3" text-anchor="middle">-5</text>
<text x="460.7" y="161" class="l3" text-anchor="middle">x</text>
<path d="M506 55 L523.5 166 L643 210.5 L684.5 122" fill="none" stroke="#777" stroke-width="0.5"/>
<path d="M527 163 L642.6 208 L682 124 L588 103 Z" fill="#fff" stroke="#888" stroke-width="0.5"/>
<clipPath id="fc"><path d="M531.7 161.5 L642.1 203.7 L679.5 125.4 L588.6 104.8 Z"/></clipPath>
<g clip-path="url(#fc)">
<path d="M501.1 152.9 L527.3 163.1 L576.6 100.5 L554.7 95.6 Z" fill="#10f040"/>
<path d="M527 163 L531 164.5 L579.7 101.1 L576.4 100.4 Z" fill="#ffe000"/>
<path d="M530.7 164.4 L535.7 166.4 L583.5 102 L579.4 101.1 Z" fill="#a0ff10"/>
<path d="M535.4 166.3 L536.7 166.8 L584.3 102.2 L583.3 101.9 Z" fill="#10f040"/>
<path d="M536.4 166.6 L538.4 167.4 L585.7 102.5 L584.1 102.1 Z" fill="#ff00d0"/>
<path d="M538.1 167.3 L548.7 171.5 L594.1 104.4 L585.5 102.4 Z" fill="#ff0000"/>
<path d="M548.4 171.3 L550.5 172.1 L595.5 104.7 L593.9 104.3 Z" fill="#ff00d0"/>
<path d="M550.2 172 L552 172.7 L596.7 104.9 L595.2 104.6 Z" fill="#7010ff"/>
<path d="M551.7 172.6 L554.1 173.5 L598.4 105.3 L596.5 104.9 Z" fill="#1040ff"/>
<path d="M553.7 173.4 L556.6 174.5 L600.4 105.8 L598.1 105.3 Z" fill="#00d8ff"/>
<path d="M556.3 174.4 L560.3 176 L603.4 106.4 L600.2 105.7 Z" fill="#10f040"/>
<path d="M560 175.8 L563.5 177.2 L605.9 107 L603.1 106.4 Z" fill="#ffe000"/>
<path d="M563.2 177.1 L565.1 177.8 L607.2 107.3 L605.6 106.9 Z" fill="#ff7000"/>
<path d="M564.8 177.7 L575.1 181.7 L615 109 L606.9 107.2 Z" fill="#ff0000"/>
<path d="M574.7 181.6 L577.3 182.6 L616.7 109.4 L614.7 109 Z" fill="#ffe000"/>
<path d="M577 182.5 L584.3 185.3 L622.1 110.6 L616.5 109.4 Z" fill="#10f040"/>
<path d="M583.9 185.2 L587.8 186.7 L624.8 111.2 L621.8 110.6 Z" fill="#00d8ff"/>
<path d="M587.4 186.5 L591.4 188.1 L627.6 111.8 L624.5 111.2 Z" fill="#1040ff"/>
<path d="M591 187.9 L594.4 189.2 L629.9 112.4 L627.3 111.8 Z" fill="#7010ff"/>
<path d="M594 189.1 L597.5 190.4 L632.2 112.9 L629.6 112.3 Z" fill="#ff00d0"/>
<path d="M597.1 190.3 L612.9 196.5 L643.9 115.5 L631.9 112.8 Z" fill="#ff0000"/>
<path d="M612.5 196.3 L615.3 197.4 L645.7 115.9 L643.6 115.4 Z" fill="#ff00d0"/>
<path d="M614.9 197.2 L616.9 198 L646.8 116.1 L645.4 115.8 Z" fill="#7010ff"/>
<path d="M616.5 197.8 L618.7 198.7 L648.2 116.5 L646.5 116.1 Z" fill="#1040ff"/>
<path d="M618.3 198.6 L620.9 199.5 L649.8 116.8 L647.9 116.4 Z" fill="#00d8ff"/>
<path d="M620.5 199.4 L623.3 200.5 L651.6 117.2 L649.5 116.7 Z" fill="#10f040"/>
<path d="M622.9 200.3 L625.4 201.3 L653.1 117.6 L651.3 117.1 Z" fill="#ffe000"/>
<path d="M625 201.1 L628.1 202.4 L655.2 118 L652.8 117.5 Z" fill="#ff0000"/>
<path d="M627.7 202.2 L633 204.3 L658.7 118.8 L654.9 117.9 Z" fill="#10f040"/>
<path d="M632.6 204.1 L636.5 205.6 L661.3 119.4 L658.4 118.7 Z" fill="#00d8ff"/>
<path d="M636.1 205.5 L639.4 206.8 L663.4 119.8 L661 119.3 Z" fill="#1040ff"/>
<path d="M639 206.6 L641.6 207.6 L665 120.2 L663.1 119.8 Z" fill="#00d8ff"/>
<path d="M641.1 207.4 L650.4 211 L671.4 121.6 L664.7 120.1 Z" fill="#10f040"/>
<path d="M650 210.9 L658 214 L676.8 122.8 L671.1 121.6 Z" fill="#ffe000"/>
<path d="M657.6 213.8 L708.2 233.5 L711.6 130.6 L676.5 122.8 Z" fill="#ff0000"/>
<path d="M549.4 150.6 L559.5 151.7 L569.5 154.6 M591.5 165.1 L604.2 166.9 L621.8 172.8 M639.4 181.6 L652.4 183.8" stroke="#fff" stroke-width="1.1" fill="none"/>
</g>
<defs><linearGradient id="gc1" x1="0" y1="66" x2="0" y2="166" gradientUnits="userSpaceOnUse"><stop offset="0" stop-color="#0808f0"/><stop offset="0.33" stop-color="#0a14e4"/><stop offset="0.43" stop-color="#08c808"/><stop offset="0.6" stop-color="#06cc06"/><stop offset="0.7" stop-color="#e01008"/><stop offset="1" stop-color="#f80000"/></linearGradient><linearGradient id="gc1b" x1="0" y1="80" x2="0" y2="182" gradientUnits="userSpaceOnUse"><stop offset="0" stop-color="#0808f0"/><stop offset="0.26" stop-color="#0a14e4"/><stop offset="0.37" stop-color="#08c808"/><stop offset="0.54" stop-color="#06cc06"/><stop offset="0.64" stop-color="#e01008"/><stop offset="1" stop-color="#f80000"/></linearGradient><linearGradient id="gc2" x1="0" y1="62" x2="0" y2="196" gradientUnits="userSpaceOnUse"><stop offset="0" stop-color="#00ff00"/><stop offset="0.54" stop-color="#04f804"/><stop offset="0.66" stop-color="#f01008"/><stop offset="1" stop-color="#ff0000"/></linearGradient><linearGradient id="gc3" x1="545" y1="62" x2="484" y2="141" gradientUnits="userSpaceOnUse"><stop offset="0" stop-color="#10f010"/><stop offset="0.58" stop-color="#08e808"/><stop offset="0.7" stop-color="#e81008"/><stop offset="1" stop-color="#f00000"/></linearGradient><linearGradient id="gcb1" x1="571" y1="79" x2="579" y2="88" gradientUnits="userSpaceOnUse"><stop offset="0" stop-color="#0606f4"/><stop offset="1" stop-color="#00e000" stop-opacity="0"/></linearGradient><linearGradient id="gcb2" x1="623.5" y1="96" x2="630.5" y2="101.7" gradientUnits="userSpaceOnUse"><stop offset="0" stop-color="#0606f4"/><stop offset="1" stop-color="#00e000" stop-opacity="0"/></linearGradient><linearGradient id="gcr" x1="644" y1="110" x2="653" y2="112" gradientUnits="userSpaceOnUse"><stop offset="0" stop-color="#f80404" stop-opacity="0"/><stop offset="1" stop-color="#f80404"/></linearGradient></defs>
<path d="M518.3 113.2 L545.8 70.8 L549.1 66.6 L545.8 75 L543.3 96.6 L541.6 121.6 L540.8 141.6 L536.6 165 L528.3 146.6 L520 125 Z" fill="url(#gc3)"/>
<path d="M549.1 66.6 L553.3 73.3 L558.3 90 L563.3 108.3 L568.2 126.6 L570.7 137.4 L536.6 165 L540.8 141.6 L541.6 121.6 L543.3 96.6 L545.8 75 Z" fill="url(#gc1)"/>
<path d="M604.9 80.7 L609.8 89.7 L614.8 109.6 L618.9 129.4 L620 139 L581.6 180.7 L588.2 158.3 L593.2 137.4 L596.5 110 L600 93 Z" fill="url(#gc1b)"/>
<path d="M549.1 66.6 C549.8 66.2 551.2 65 553 64.5 C554.8 64 556.9 63.6 560 63.3 C563.1 63 568.3 62.2 571.6 62.5 C574.9 62.8 577.5 63.6 580 65 C582.5 66.4 584.4 68.3 586.6 70.8 C588.8 73.3 591.4 76.8 593.2 80 C595 83.2 596.7 88.3 597.4 90 L600 93 L596.5 110 L593.2 137.4 L588.2 158.3 L581.6 180.7 L578.2 170 L573.2 150 L570.7 137.4 L568.2 126.6 L563.3 108.3 L558.3 90 L553.3 73.3 Z" fill="url(#gc2)"/>
<path d="M549.1 66.6 C549.8 66.2 551.2 65 553 64.5 C554.8 64 556.9 63.6 560 63.3 C563.1 63 568.3 62.2 571.6 62.5 C574.9 62.8 577.5 63.6 580 65 C582.5 66.4 584.4 68.3 586.6 70.8 C588.8 73.3 591.4 76.8 593.2 80 C595 83.2 596.7 88.3 597.4 90 L600 93 L596.5 110 L593.2 137.4 L588.2 158.3 L581.6 180.7 L578.2 170 L573.2 150 L570.7 137.4 L568.2 126.6 L563.3 108.3 L558.3 90 L553.3 73.3 Z" fill="url(#gcb1)"/>
<path d="M604.9 80.7 C606 80.1 608.8 78.3 611.5 77.3 C614.2 76.3 618.4 75 621.4 74.9 C624.4 74.8 627.1 75.1 629.6 76.5 C632.1 77.9 634.4 80.9 636.3 83.1 C638.2 85.3 640.1 88.5 641.2 89.7 C642.3 91 641.8 90.7 642.9 90.6 C644 90.5 646.1 88.8 647.8 88.9 C649.4 89 650.9 89.1 652.8 91.4 C654.7 93.8 657.2 99.2 659.4 103 C661.6 106.8 664.1 112 666 114.5 C667.9 117 669.4 117.7 671 117.8 C672.6 117.9 674.1 116.9 675.9 115.3 C677.7 113.7 680.7 109.1 681.7 107.9 L680 114.5 L672.6 132.7 L669.3 142.6 L665.2 146.5 L662.7 157.3 L661 154.8 L656.1 151.5 L650 153.5 L645.3 158.1 L642.9 168 L637.9 182.9 L631.3 195.3 L627.2 179.6 L622.2 154.8 L618.9 129.4 L614.8 109.6 L609.8 89.7 Z" fill="url(#gc2)"/>
<path d="M604.9 80.7 C606 80.1 608.8 78.3 611.5 77.3 C614.2 76.3 618.4 75 621.4 74.9 C624.4 74.8 627.1 75.1 629.6 76.5 C632.1 77.9 634.4 80.9 636.3 83.1 C638.2 85.3 640.1 88.5 641.2 89.7 C642.3 91 641.8 90.7 642.9 90.6 C644 90.5 646.1 88.8 647.8 88.9 C649.4 89 650.9 89.1 652.8 91.4 C654.7 93.8 657.2 99.2 659.4 103 C661.6 106.8 664.1 112 666 114.5 C667.9 117 669.4 117.7 671 117.8 C672.6 117.9 674.1 116.9 675.9 115.3 C677.7 113.7 680.7 109.1 681.7 107.9 L680 114.5 L672.6 132.7 L669.3 142.6 L665.2 146.5 L662.7 157.3 L661 154.8 L656.1 151.5 L650 153.5 L645.3 158.1 L642.9 168 L637.9 182.9 L631.3 195.3 L627.2 179.6 L622.2 154.8 L618.9 129.4 L614.8 109.6 L609.8 89.7 Z" fill="url(#gcb2)"/>
<path d="M644 92 C643.8 91.8 642.3 91.1 642.9 90.6 C643.5 90.1 646.1 88.8 647.8 88.9 C649.4 89 650.9 89.1 652.8 91.4 C654.7 93.8 657.2 99.2 659.4 103 C661.6 106.8 664.1 112 666 114.5 C667.9 117 669.4 117.7 671 117.8 C672.6 117.9 674.1 116.9 675.9 115.3 C677.7 113.7 680.7 109.1 681.7 107.9 L680 114.5 L672.6 132.7 L669.3 142.6 L665.2 146.5 L662.7 157.3 L661 154.8 L656.1 151.5 L650 153.5 L645.3 158.1 L642.9 168 L637.9 182.9 L631.3 195.3 L627.2 179.6 L622.5 160 L626 150 L636 135 L646 120 L647.5 105 Z" fill="url(#gcr)"/>
<defs><clipPath id="cc1"><path d="M549.1 66.6 C549.8 66.2 551.2 65 553 64.5 C554.8 64 556.9 63.6 560 63.3 C563.1 63 568.3 62.2 571.6 62.5 C574.9 62.8 577.5 63.6 580 65 C582.5 66.4 584.4 68.3 586.6 70.8 C588.8 73.3 591.4 76.8 593.2 80 C595 83.2 596.7 88.3 597.4 90 L600 93 L596.5 110 L593.2 137.4 L588.2 158.3 L581.6 180.7 L578.2 170 L573.2 150 L570.7 137.4 L568.2 126.6 L563.3 108.3 L558.3 90 L553.3 73.3 Z"/></clipPath><clipPath id="cc2"><path d="M604.9 80.7 C606 80.1 608.8 78.3 611.5 77.3 C614.2 76.3 618.4 75 621.4 74.9 C624.4 74.8 627.1 75.1 629.6 76.5 C632.1 77.9 634.4 80.9 636.3 83.1 C638.2 85.3 640.1 88.5 641.2 89.7 C642.3 91 641.8 90.7 642.9 90.6 C644 90.5 646.1 88.8 647.8 88.9 C649.4 89 650.9 89.1 652.8 91.4 C654.7 93.8 657.2 99.2 659.4 103 C661.6 106.8 664.1 112 666 114.5 C667.9 117 669.4 117.7 671 117.8 C672.6 117.9 674.1 116.9 675.9 115.3 C677.7 113.7 680.7 109.1 681.7 107.9 L680 114.5 L672.6 132.7 L669.3 142.6 L665.2 146.5 L662.7 157.3 L661 154.8 L656.1 151.5 L650 153.5 L645.3 158.1 L642.9 168 L637.9 182.9 L631.3 195.3 L627.2 179.6 L622.2 154.8 L618.9 129.4 L614.8 109.6 L609.8 89.7 Z"/></clipPath><clipPath id="cc3"><path d="M518.3 113.2 L545.8 70.8 L549.1 66.6 L545.8 75 L543.3 96.6 L541.6 121.6 L540.8 141.6 L536.6 165 L528.3 146.6 L520 125 Z"/></clipPath><clipPath id="cc4"><path d="M549.1 66.6 L553.3 73.3 L558.3 90 L563.3 108.3 L568.2 126.6 L570.7 137.4 L536.6 165 L540.8 141.6 L541.6 121.6 L543.3 96.6 L545.8 75 Z"/></clipPath><clipPath id="cc5"><path d="M604.9 80.7 L609.8 89.7 L614.8 109.6 L618.9 129.4 L620 139 L581.6 180.7 L588.2 158.3 L593.2 137.4 L596.5 110 L600 93 Z"/></clipPath></defs>
<path d="M560.2 118 l1.8 0 l-1.4 21.9 z M562.7 118 l2.5 0 l-0.8 27.2 z M567.4 118 l2 0 l-1.3 24 z M569.7 118 l1.5 0 l-0.1 21.9 z M573.7 118 l2.3 0 l-1.7 34.5 z M576 118 l2.2 0 l-0.5 31.3 z M580.2 118 l2 0 l-0.7 21.6 z M582.8 118 l1.9 0 l-1.6 23.2 z M586.7 118 l2 0 l-1.3 35.6 z M589.6 118 l2.4 0 l-0.7 30.3 z M592.2 118 l2 0 l-1.1 27.5 z M594.6 118 l2.3 0 l-1.9 25.5 z" fill="#04f804" clip-path="url(#cc1)"/>
<path d="M610 120 l1.6 0 l-0.7 29.8 z M613.5 120 l2.6 0 l-1.8 25.2 z M616.8 120 l2.1 0 l-1.4 22.8 z M620.1 120 l1.6 0 l-0.7 31.8 z M624.5 120 l1.3 0 l-1.1 21.2 z M627.3 120 l1.5 0 l-1 29.7 z M629.6 120 l1.3 0 l-0.3 27.1 z M633.6 120 l2.2 0 l-0.4 35.3 z M635.1 120 l2.6 0 l-0.8 24.3 z M639.2 120 l2.1 0 l-0.5 35.1 z" fill="#04f804" clip-path="url(#cc2)"/>
<path d="M520.3 116 l1.8 0 l-1.5 14.3 z M523.7 116 l1.7 0 l-1.6 23.5 z M525.9 116 l2.3 0 l-1.4 14 z M529.3 116 l2.6 0 l-1.4 13.2 z M533 116 l1.3 0 l-1.2 12.7 z M537 116 l1.3 0 l-0.6 13.8 z M539.3 116 l1.4 0 l-0.6 24 z" fill="#08e808" clip-path="url(#cc3)"/>
<path d="M543.8 124 l2.6 0 l-1.3 11.8 z M546.6 124 l1.3 0 l-0.8 11.8 z M549.2 124 l2.4 0 l-1.2 16.8 z M552.3 124 l1.5 0 l-1.2 10.2 z M555.9 124 l1.4 0 l-1.4 16.6 z M559.7 124 l2.6 0 l-1.4 13.4 z M562.9 124 l2.3 0 l-0.8 14.4 z M565.7 124 l1.5 0 l-0.1 8.5 z" fill="#06cc06" clip-path="url(#cc4)"/>
<path d="M599.6 128 l1.7 0 l-0.6 17.2 z M602.4 128 l2.3 0 l-1.1 14.2 z M605.8 128 l1.6 0 l-0.1 14.7 z M609.2 128 l2.6 0 l-0.5 8.3 z M612.1 128 l2.5 0 l-1.8 8 z M616.5 128 l1.3 0 l-1.2 14.5 z" fill="#06cc06" clip-path="url(#cc5)"/>
<path d="M536.6 165 L528.3 146.6 L520 125 L518.3 113.2 L545.8 70.8 L549.1 66.6 M536.6 165 C537.3 161.1 540 148.8 540.8 141.6 C541.6 134.4 541.2 129.1 541.6 121.6 C542 114.1 542.6 104.4 543.3 96.6 C544 88.8 544.8 80 545.8 75 C546.8 70 547.9 66.9 549.1 66.6 C550.4 66.3 551.8 69.4 553.3 73.3 C554.8 77.2 556.6 84.2 558.3 90 C560 95.8 561.6 102.2 563.3 108.3 C564.9 114.4 567 121.8 568.2 126.6 C569.4 131.4 569.9 133.5 570.7 137.4 C571.5 141.3 572 144.6 573.2 150 C574.5 155.4 576.8 164.9 578.2 170 C579.6 175.1 581 178.9 581.6 180.7 M581.6 180.7 C582.7 177 586.3 165.5 588.2 158.3 C590.1 151.1 591.8 145.5 593.2 137.4 C594.6 129.3 595.4 117.4 596.5 110 C597.6 102.6 599.1 97.2 600 93 C600.9 88.8 601.2 87 602 85 C602.8 83 603.6 79.9 604.9 80.7 C606.2 81.5 608.1 84.9 609.8 89.7 C611.4 94.5 613.3 103 614.8 109.6 C616.3 116.2 617.7 121.9 618.9 129.4 C620.1 136.9 620.8 146.4 622.2 154.8 C623.6 163.2 625.7 172.8 627.2 179.6 C628.7 186.3 630.6 192.7 631.3 195.3 M641.2 89.7 C641.5 89.8 641.8 90.7 642.9 90.6 C644 90.5 646.1 88.8 647.8 88.9 C649.4 89 650.9 89.1 652.8 91.4 C654.7 93.8 657.2 99.2 659.4 103 C661.6 106.8 664.1 112 666 114.5 C667.9 117 669.4 117.7 671 117.8 C672.6 117.9 674.1 116.9 675.9 115.3 C677.7 113.7 680.7 109.1 681.7 107.9 M681.7 107.9 L680 114.5 L672.6 132.7 L669.3 142.6 L665.2 146.5 L662.7 157.3 M662.7 157.3 C662.4 156.9 662.1 155.8 661 154.8 C659.9 153.8 657.9 151.7 656.1 151.5 C654.3 151.3 651.8 152.4 650 153.5 C648.2 154.6 646.5 155.7 645.3 158.1 C644.1 160.5 644.1 163.9 642.9 168 C641.7 172.1 639.8 178.3 637.9 182.9 C636 187.5 632.4 193.2 631.3 195.3" fill="none" stroke="#ffe800" stroke-width="1.4" stroke-linejoin="round" stroke-linecap="round"/>
<path d="M507.5 64 l1.8 0.5 M508.4 69.5 l1 0.2 M509.2 74.9 l1 0.2 M510.1 80.4 l1 0.2 M510.9 85.9 l1 0.2 M511.8 91.4 l1.8 0.5 M512.7 96.8 l1 0.2 M513.5 102.3 l1 0.2 M514.4 107.8 l1 0.2 M515.2 113.2 l1 0.2 M516.1 118.7 l1.8 0.5 M517 124.2 l1 0.2 M517.8 129.7 l1 0.2 M518.7 135.1 l1 0.2 M519.6 140.6 l1 0.2 M520.4 146.1 l1.8 0.5 M521.3 151.6 l1 0.2 M522.1 157 l1 0.2 M523 162.5 l1 0.2" stroke="#777" stroke-width="0.4" fill="none"/>
<path d="M533 169.5 l0.6 -1.7 M537 171 l0.3 -0.9 M540.9 172.5 l0.3 -0.9 M544.9 173.9 l0.3 -0.9 M548.8 175.4 l0.3 -0.9 M552.8 176.9 l0.6 -1.7 M556.8 178.4 l0.3 -0.9 M560.7 179.9 l0.3 -0.9 M564.7 181.3 l0.3 -0.9 M568.7 182.8 l0.3 -0.9 M572.6 184.3 l0.6 -1.7 M576.6 185.8 l0.3 -0.9 M580.5 187.3 l0.3 -0.9 M584.5 188.8 l0.3 -0.9 M588.5 190.2 l0.3 -0.9 M592.4 191.7 l0.6 -1.7 M596.4 193.2 l0.3 -0.9 M600.3 194.7 l0.3 -0.9 M604.3 196.2 l0.3 -0.9 M608.3 197.6 l0.3 -0.9 M612.2 199.1 l0.6 -1.7 M616.2 200.6 l0.3 -0.9 M620.2 202.1 l0.3 -0.9 M624.1 203.6 l0.3 -0.9 M628.1 205 l0.3 -0.9 M632 206.5 l0.6 -1.7 M636 208 l0.3 -0.9" stroke="#777" stroke-width="0.4" fill="none"/>
<path d="M647 202 l-1.7 -0.5 M648.5 198.8 l-0.9 -0.3 M650 195.7 l-0.9 -0.3 M651.4 192.5 l-0.9 -0.3 M652.9 189.3 l-0.9 -0.3 M654.4 186.2 l-1.7 -0.5 M655.9 183 l-0.9 -0.3 M657.4 179.8 l-0.9 -0.3 M658.8 176.7 l-0.9 -0.3 M660.3 173.5 l-0.9 -0.3 M661.8 170.3 l-1.7 -0.5 M663.3 167.2 l-0.9 -0.3 M664.8 164 l-0.9 -0.3 M666.2 160.8 l-0.9 -0.3 M667.7 157.7 l-0.9 -0.3 M669.2 154.5 l-1.7 -0.5 M670.7 151.3 l-0.9 -0.3 M672.1 148.2 l-0.9 -0.3 M673.6 145 l-0.9 -0.3 M675.1 141.8 l-0.9 -0.3 M676.6 138.7 l-1.7 -0.5 M678.1 135.5 l-0.9 -0.3 M679.5 132.3 l-0.9 -0.3 M681 129.2 l-0.9 -0.3 M682.5 126 l-0.9 -0.3" stroke="#777" stroke-width="0.4" fill="none"/>
<text x="502.5" y="75.3" class="t3" text-anchor="middle">30</text>
<text x="512" y="136.4" class="t3" text-anchor="middle">10</text>
<text x="517" y="163" class="t3" text-anchor="middle">0</text>
<text x="507" y="108.2" class="t3" text-anchor="middle">20</text>
<text x="493" y="114" class="l3" text-anchor="middle"><tspan font-style="italic">U</tspan><tspan font-size="4" dy="1.2">3</tspan><tspan dy="-1.2">(x,t)</tspan></text>
<text x="540" y="181.6" class="t3" text-anchor="middle">-2</text>
<text x="577.6" y="193.6" class="t3" text-anchor="middle">0</text>
<text x="616" y="207" class="t3" text-anchor="middle">2</text>
<text x="572.4" y="203" class="l3" text-anchor="middle">t</text>
<text x="680" y="140" class="t3" text-anchor="middle">2</text>
<text x="669" y="164.6" class="t3" text-anchor="middle">0</text>
<text x="658.5" y="192" class="t3" text-anchor="middle">-2</text>
<text x="679" y="168" class="l3" text-anchor="middle">x</text>
<clipPath id="cd"><rect x="44.7" y="269.4" width="179.3" height="163.1"/></clipPath>
<g clip-path="url(#cd)"><g transform="scale(0.74 1)">
<defs><path id="cd0" d="M59.9 424.6 59.9 266.4 61.4 266.4 62.9 266.4 64.5 266.4 66 280.5 67.5 295.4 69 309.8 70.6 323.5 72.1 336.5 73.6 348.8 75.1 360.2 76.6 370.7 78.2 380.3 79.7 388.9 81.2 396.6 82.7 403.3 84.2 409.1 85.8 413.9 87.3 417.7 88.8 420.7 90.3 422.8 91.9 424.1 93.4 424.6 94.9 424.4 96.4 423.5 97.9 422.1 99.5 420.1 101 417.6 102.5 414.8 104 411.6 105.5 408.2 107.1 404.6 108.6 400.9 110.1 397.1 111.6 393.3 113.2 389.6 114.7 385.9 116.2 382.5 117.7 379.1 119.2 376.1 120.8 373.2 122.3 370.7 123.8 368.5 125.3 366.6 126.8 365 128.4 363.7 129.9 362.8 131.4 362.3 132.9 362 134.5 362.1 136 362.5 137.5 363.2 139 364.2 140.5 365.4 142.1 366.9 143.6 368.6 145.1 370.4 146.6 372.5 148.1 374.6 149.7 376.9 151.2 379.3 152.7 381.7 154.2 384.2 155.8 386.7 157.3 389.2 158.8 391.7 160.3 394.2 161.8 396.6 163.4 399 164.9 401.2 166.4 403.5 167.9 405.6 169.5 407.6 171 409.5 172.5 411.3 174 413 175.5 414.6 177.1 416.1 178.6 417.5 180.1 418.7 181.6 419.8 183.1 420.8 184.7 421.7 186.2 422.5 187.7 423.2 189.2 423.7 190.8 424.1 192.3 424.4 193.8 424.6 195.3 424.6 196.8 424.5 198.4 424.3 199.9 424 201.4 423.6 202.9 423 204.4 422.3 206 421.6 207.5 420.7 209 419.8 210.5 418.7 212.1 417.6 213.6 416.5 215.1 415.2 216.6 414 218.1 412.7 219.7 411.4 221.2 410.1 222.7 408.8 224.2 407.5 225.7 406.2 227.3 405 228.8 403.8 230.3 402.7 231.8 401.7 233.4 400.7 234.9 399.9 236.4 399.1 237.9 398.4 239.4 397.9 241 397.4 242.5 397.1 244 396.9 245.5 396.8 247 396.9 248.6 397 250.1 397.3 251.6 397.7 253.1 398.2 254.7 398.8 256.2 399.6 257.7 400.4 259.2 401.3 260.7 402.3 262.3 403.4 263.8 404.6 265.3 405.8 266.8 407 268.3 408.3 269.9 409.6 271.4 410.9 272.9 412.2 274.4 413.5 276 414.8 277.5 416 279 417.2 280.5 418.3 282 419.4 283.6 420.4 285.1 421.3 286.6 422.1 288.1 422.8 289.6 423.4 291.2 423.8 292.7 424.2 294.2 424.5 295.7 424.6 297.3 424.6 298.8 424.5 300.3 424.2 301.8 423.9 303.3 423.4 303.3 424.6"/><path id="cd1" d="M59.9 424.6 59.9 410.9 61.4 404.9 62.9 398 64.5 390.5 66 382.4 67.5 373.9 69 365.2 70.6 356.4 72.1 347.5 73.6 338.8 75.1 330.3 76.6 322.1 78.2 314.4 79.7 307.3 81.2 300.7 82.7 294.9 84.2 289.7 85.8 285.3 87.3 281.8 88.8 279 90.3 277.2 91.9 276.1 93.4 275.9 94.9 276.5 96.4 277.9 97.9 280 99.5 282.9 101 286.4 102.5 290.5 104 295.1 105.5 300.3 107.1 305.8 108.6 311.7 110.1 317.9 111.6 324.3 113.2 330.9 114.7 337.5 116.2 344.2 117.7 350.8 119.2 357.4 120.8 363.8 122.3 370 123.8 376 125.3 381.7 126.8 387.1 128.4 392.2 129.9 396.9 131.4 401.3 132.9 405.2 134.5 408.8 136 412 137.5 414.8 139 417.2 140.5 419.3 142.1 421 143.6 422.3 145.1 423.3 146.6 424 148.1 424.4 149.7 424.6 151.2 424.5 152.7 424.2 154.2 423.7 155.8 423 157.3 422.2 158.8 421.3 160.3 420.2 161.8 419.1 163.4 417.9 164.9 416.7 166.4 415.4 167.9 414.1 169.5 412.8 171 411.5 172.5 410.3 174 409 175.5 407.8 177.1 406.6 178.6 405.5 180.1 404.4 181.6 403.3 183.1 402.3 184.7 401.4 186.2 400.5 187.7 399.8 189.2 399 190.8 398.4 192.3 397.9 193.8 397.4 195.3 397.1 196.8 396.9 198.4 396.8 199.9 396.9 201.4 397.1 202.9 397.4 204.4 397.9 206 398.5 207.5 399.2 209 400 210.5 401 212.1 402 213.6 403.1 215.1 404.3 216.6 405.5 218.1 406.8 219.7 408.2 221.2 409.5 222.7 410.9 224.2 412.3 225.7 413.6 227.3 414.9 228.8 416.2 230.3 417.4 231.8 418.6 233.4 419.7 234.9 420.7 236.4 421.6 237.9 422.4 239.4 423.1 241 423.6 242.5 424.1 244 424.4 245.5 424.6 247 424.6 248.6 424.5 250.1 424.3 251.6 423.9 253.1 423.4 254.7 422.8 256.2 422.1 257.7 421.2 259.2 420.3 260.7 419.2 262.3 418.1 263.8 416.9 265.3 415.7 266.8 414.4 268.3 413 269.9 411.7 271.4 410.3 272.9 408.9 274.4 407.6 276 406.3 277.5 405 279 403.8 280.5 402.6 282 401.5 283.6 400.6 285.1 399.7 286.6 398.9 288.1 398.2 289.6 397.7 291.2 397.3 292.7 397 294.2 396.8 295.7 396.8 297.3 396.9 298.8 397.2 300.3 397.6 301.8 398.1 303.3 398.7 303.3 424.6"/><path id="cd2" d="M59.9 424.6 59.9 266.4 61.4 266.4 62.9 266.4 64.5 266.4 66 266.4 67.5 266.4 69 266.4 70.6 266.4 72.1 266.4 73.6 266.4 75.1 266.4 76.6 266.4 78.2 273.9 79.7 286.3 81.2 298.6 82.7 310.6 84.2 322.3 85.8 333.5 87.3 344.3 88.8 354.4 90.3 364 91.9 372.9 93.4 381.2 94.9 388.7 96.4 395.5 97.9 401.6 99.5 406.9 101 411.4 102.5 415.3 104 418.4 105.5 420.9 107.1 422.7 108.6 423.9 110.1 424.5 111.6 424.6 113.2 424.2 114.7 423.3 116.2 422.1 117.7 420.5 119.2 418.6 120.8 416.5 122.3 414.3 123.8 411.8 125.3 409.3 126.8 406.7 128.4 404.2 129.9 401.6 131.4 399.1 132.9 396.7 134.5 394.5 136 392.4 137.5 390.4 139 388.7 140.5 387.1 142.1 385.7 143.6 384.6 145.1 383.7 146.6 383 148.1 382.5 149.7 382.2 151.2 382.2 152.7 382.3 154.2 382.6 155.8 383.1 157.3 383.7 158.8 384.5 160.3 385.4 161.8 386.5 163.4 387.6 164.9 388.9 166.4 390.2 167.9 391.6 169.5 393 171 394.5 172.5 396 174 397.6 175.5 399.1 177.1 400.7 178.6 402.2 180.1 403.7 181.6 405.2 183.1 406.7 184.7 408.2 186.2 409.6 187.7 411.1 189.2 412.4 190.8 413.7 192.3 415 193.8 416.2 195.3 417.4 196.8 418.5 198.4 419.6 199.9 420.5 201.4 421.4 202.9 422.2 204.4 422.9 206 423.5 207.5 423.9 209 424.3 210.5 424.5 212.1 424.6 213.6 424.6 215.1 424.4 216.6 424.2 218.1 423.8 219.7 423.3 221.2 422.7 222.7 421.9 224.2 421.1 225.7 420.2 227.3 419.2 228.8 418.1 230.3 417 231.8 415.8 233.4 414.6 234.9 413.3 236.4 412 237.9 410.7 239.4 409.4 241 408.1 242.5 406.8 244 405.6 245.5 404.4 247 403.2 248.6 402.2 250.1 401.2 251.6 400.3 253.1 399.5 254.7 398.7 256.2 398.1 257.7 397.6 259.2 397.2 260.7 397 262.3 396.8 263.8 396.8 265.3 396.9 266.8 397.2 268.3 397.5 269.9 398 271.4 398.5 272.9 399.2 274.4 400 276 400.9 277.5 401.9 279 402.9 280.5 404 282 405.2 283.6 406.4 285.1 407.7 286.6 409 288.1 410.3 289.6 411.6 291.2 412.9 292.7 414.2 294.2 415.4 295.7 416.6 297.3 417.8 298.8 418.9 300.3 419.9 301.8 420.9 303.3 421.7 303.3 424.6"/><path id="cd3" d="M59.9 424.6 59.9 401.9 61.4 409.1 62.9 415 64.5 419.4 66 422.4 67.5 424.1 69 424.6 70.6 423.9 72.1 422.1 73.6 419.4 75.1 415.8 76.6 411.4 78.2 406.3 79.7 400.8 81.2 394.7 82.7 388.4 84.2 381.8 85.8 375.1 87.3 368.4 88.8 361.8 90.3 355.4 91.9 349.3 93.4 343.5 94.9 338.1 96.4 333.1 97.9 328.7 99.5 324.9 101 321.6 102.5 318.9 104 316.9 105.5 315.5 107.1 314.8 108.6 314.7 110.1 315.1 111.6 316.2 113.2 317.8 114.7 320 116.2 322.6 117.7 325.7 119.2 329.2 120.8 333 122.3 337.1 123.8 341.5 125.3 346.1 126.8 350.8 128.4 355.6 129.9 360.5 131.4 365.4 132.9 370.2 134.5 375 136 379.7 137.5 384.2 139 388.5 140.5 392.7 142.1 396.6 143.6 400.3 145.1 403.7 146.6 406.9 148.1 409.8 149.7 412.5 151.2 414.8 152.7 416.9 154.2 418.7 155.8 420.2 157.3 421.5 158.8 422.6 160.3 423.4 161.8 424 163.4 424.4 164.9 424.6 166.4 424.6 167.9 424.4 169.5 424.1 171 423.7 172.5 423.1 174 422.4 175.5 421.6 177.1 420.7 178.6 419.7 180.1 418.7 181.6 417.6 183.1 416.4 184.7 415.2 186.2 413.9 187.7 412.6 189.2 411.3 190.8 410 192.3 408.6 193.8 407.3 195.3 406 196.8 404.7 198.4 403.5 199.9 402.4 201.4 401.3 202.9 400.3 204.4 399.5 206 398.7 207.5 398.1 209 397.6 210.5 397.2 212.1 396.9 213.6 396.8 215.1 396.8 216.6 397 218.1 397.3 219.7 397.7 221.2 398.2 222.7 398.9 224.2 399.7 225.7 400.6 227.3 401.5 228.8 402.6 230.3 403.8 231.8 405 233.4 406.3 234.9 407.6 236.4 408.9 237.9 410.3 239.4 411.7 241 413 242.5 414.4 244 415.7 245.5 416.9 247 418.1 248.6 419.2 250.1 420.3 251.6 421.2 253.1 422.1 254.7 422.8 256.2 423.4 257.7 423.9 259.2 424.3 260.7 424.5 262.3 424.6 263.8 424.6 265.3 424.4 266.8 424.1 268.3 423.6 269.9 423.1 271.4 422.4 272.9 421.6 274.4 420.7 276 419.7 277.5 418.6 279 417.5 280.5 416.2 282 414.9 283.6 413.6 285.1 412.3 286.6 410.9 288.1 409.5 289.6 408.2 291.2 406.8 292.7 405.5 294.2 404.3 295.7 403.1 297.3 402 298.8 401 300.3 400 301.8 399.2 303.3 398.5 303.3 424.6"/><path id="cd4" d="M59.9 424.6 59.9 266.4 61.4 266.4 62.9 266.4 64.5 266.4 66 266.4 67.5 266.4 69 266.4 70.6 266.4 72.1 266.4 73.6 266.4 75.1 266.4 76.6 266.4 78.2 266.4 79.7 266.4 81.2 266.4 82.7 266.4 84.2 266.4 85.8 266.4 87.3 266.4 88.8 266.4 90.3 269.1 91.9 277.7 93.4 286.5 94.9 295.5 96.4 304.6 97.9 313.7 99.5 322.7 101 331.6 102.5 340.3 104 348.7 105.5 356.9 107.1 364.7 108.6 372.1 110.1 379 111.6 385.5 113.2 391.5 114.7 397 116.2 402 117.7 406.4 119.2 410.3 120.8 413.8 122.3 416.7 123.8 419.1 125.3 421 126.8 422.5 128.4 423.6 129.9 424.3 131.4 424.6 132.9 424.5 134.5 424.2 136 423.6 137.5 422.8 139 421.7 140.5 420.5 142.1 419.2 143.6 417.7 145.1 416.2 146.6 414.6 148.1 413 149.7 411.4 151.2 409.8 152.7 408.2 154.2 406.7 155.8 405.3 157.3 403.9 158.8 402.6 160.3 401.4 161.8 400.4 163.4 399.4 164.9 398.5 166.4 397.8 167.9 397.1 169.5 396.6 171 396.1 172.5 395.8 174 395.5 175.5 395.4 177.1 395.3 178.6 395.4 180.1 395.5 181.6 395.7 183.1 396 184.7 396.3 186.2 396.7 187.7 397.2 189.2 397.8 190.8 398.5 192.3 399.2 193.8 399.9 195.3 400.8 196.8 401.8 198.4 402.8 199.9 403.9 201.4 405.1 202.9 406.3 204.4 407.6 206 408.9 207.5 410.2 209 411.5 210.5 412.8 212.1 414.1 213.6 415.3 215.1 416.5 216.6 417.7 218.1 418.8 219.7 419.8 221.2 420.8 222.7 421.6 224.2 422.4 225.7 423 227.3 423.6 228.8 424 230.3 424.3 231.8 424.5 233.4 424.6 234.9 424.5 236.4 424.4 237.9 424.1 239.4 423.7 241 423.1 242.5 422.5 244 421.7 245.5 420.9 247 420 248.6 418.9 250.1 417.9 251.6 416.7 253.1 415.5 254.7 414.2 256.2 413 257.7 411.7 259.2 410.4 260.7 409.1 262.3 407.8 263.8 406.5 265.3 405.3 266.8 404.1 268.3 403 269.9 401.9 271.4 400.9 272.9 400.1 274.4 399.3 276 398.6 277.5 398 279 397.5 280.5 397.2 282 396.9 283.6 396.8 285.1 396.8 286.6 397 288.1 397.2 289.6 397.6 291.2 398.1 292.7 398.7 294.2 399.4 295.7 400.2 297.3 401.1 298.8 402.1 300.3 403.2 301.8 404.3 303.3 405.5 303.3 424.6"/><path id="cd5" d="M59.9 424.6 59.9 266.4 61.4 266.4 62.9 266.4 64.5 279.9 66 295.6 67.5 310.7 69 325.2 70.6 338.8 72.1 351.6 73.6 363.4 75.1 374.2 76.6 384 78.2 392.8 79.7 400.4 81.2 406.9 82.7 412.4 84.2 416.8 85.8 420.2 87.3 422.6 88.8 424 90.3 424.6 91.9 424.3 93.4 423.3 94.9 421.6 96.4 419.2 97.9 416.4 99.5 413.1 101 409.4 102.5 405.5 104 401.3 105.5 397 107.1 392.7 108.6 388.3 110.1 384 111.6 379.9 113.2 376 114.7 372.3 116.2 368.9 117.7 365.8 119.2 363.1 120.8 360.7 122.3 358.7 123.8 357.1 125.3 356 126.8 355.2 128.4 354.9 129.9 354.9 131.4 355.4 132.9 356.2 134.5 357.3 136 358.8 137.5 360.5 139 362.5 140.5 364.7 142.1 367.2 143.6 369.8 145.1 372.5 146.6 375.3 148.1 378.3 149.7 381.2 151.2 384.2 152.7 387.2 154.2 390.2 155.8 393.1 157.3 395.9 158.8 398.7 160.3 401.3 161.8 403.8 163.4 406.3 164.9 408.5 166.4 410.7 167.9 412.6 169.5 414.5 171 416.1 172.5 417.7 174 419 175.5 420.2 177.1 421.3 178.6 422.2 180.1 423 181.6 423.6 183.1 424 184.7 424.4 186.2 424.6 187.7 424.6 189.2 424.5 190.8 424.3 192.3 423.9 193.8 423.4 195.3 422.8 196.8 422.1 198.4 421.3 199.9 420.3 201.4 419.3 202.9 418.2 204.4 417 206 415.7 207.5 414.4 209 413.1 210.5 411.7 212.1 410.3 213.6 409 215.1 407.6 216.6 406.3 218.1 405 219.7 403.8 221.2 402.7 222.7 401.6 224.2 400.6 225.7 399.7 227.3 398.9 228.8 398.3 230.3 397.7 231.8 397.3 233.4 397 234.9 396.8 236.4 396.8 237.9 396.9 239.4 397.2 241 397.6 242.5 398.1 244 398.7 245.5 399.5 247 400.3 248.6 401.3 250.1 402.3 251.6 403.5 253.1 404.7 254.7 405.9 256.2 407.2 257.7 408.6 259.2 409.9 260.7 411.3 262.3 412.7 263.8 414 265.3 415.3 266.8 416.6 268.3 417.8 269.9 418.9 271.4 420 272.9 421 274.4 421.9 276 422.6 277.5 423.3 279 423.8 280.5 424.2 282 424.5 283.6 424.6 285.1 424.6 286.6 424.4 288.1 424.2 289.6 423.8 291.2 423.2 292.7 422.6 294.2 421.8 295.7 420.9 297.3 420 298.8 418.9 300.3 417.8 301.8 416.5 303.3 415.3 303.3 424.6"/><path id="cd6" d="M59.9 424.6 59.9 379.6 61.4 370.8 62.9 361.8 64.5 352.6 66 343.3 67.5 334.2 69 325.3 70.6 316.7 72.1 308.5 73.6 300.7 75.1 293.6 76.6 287.1 78.2 281.3 79.7 276.3 81.2 272 82.7 268.6 84.2 266.4 85.8 266.4 87.3 266.4 88.8 266.4 90.3 266.4 91.9 266.4 93.4 267.5 94.9 270.4 96.4 274 97.9 278.2 99.5 283 101 288.2 102.5 293.9 104 299.9 105.5 306.3 107.1 312.9 108.6 319.6 110.1 326.5 111.6 333.4 113.2 340.3 114.7 347.2 116.2 353.9 117.7 360.5 119.2 366.9 120.8 373.1 122.3 378.9 123.8 384.5 125.3 389.7 126.8 394.6 128.4 399.1 129.9 403.2 131.4 407 132.9 410.3 134.5 413.3 136 415.9 137.5 418.1 139 420 140.5 421.5 142.1 422.7 143.6 423.6 145.1 424.2 146.6 424.5 148.1 424.6 149.7 424.5 151.2 424.1 152.7 423.6 154.2 422.9 155.8 422.1 157.3 421.2 158.8 420.2 160.3 419.1 161.8 417.9 163.4 416.7 164.9 415.5 166.4 414.3 167.9 413.1 169.5 411.8 171 410.6 172.5 409.4 174 408.2 175.5 407.1 177.1 406 178.6 404.9 180.1 403.9 181.6 403 183.1 402.1 184.7 401.2 186.2 400.4 187.7 399.7 189.2 399 190.8 398.4 192.3 397.9 193.8 397.4 195.3 397.1 196.8 396.9 198.4 396.8 199.9 396.9 201.4 397 202.9 397.3 204.4 397.7 206 398.2 207.5 398.9 209 399.6 210.5 400.4 212.1 401.3 213.6 402.4 215.1 403.4 216.6 404.6 218.1 405.8 219.7 407 221.2 408.3 222.7 409.6 224.2 410.9 225.7 412.2 227.3 413.5 228.8 414.8 230.3 416 231.8 417.2 233.4 418.3 234.9 419.4 236.4 420.4 237.9 421.3 239.4 422.1 241 422.8 242.5 423.4 244 423.8 245.5 424.2 247 424.5 248.6 424.6 250.1 424.6 251.6 424.5 253.1 424.2 254.7 423.9 256.2 423.4 257.7 422.8 259.2 422.1 260.7 421.3 262.3 420.4 263.8 419.4 265.3 418.3 266.8 417.2 268.3 416 269.9 414.8 271.4 413.5 272.9 412.2 274.4 410.9 276 409.6 277.5 408.3 279 407 280.5 405.8 282 404.6 283.6 403.5 285.1 402.4 286.6 401.4 288.1 400.4 289.6 399.6 291.2 398.9 292.7 398.2 294.2 397.7 295.7 397.3 297.3 397 298.8 396.9 300.3 396.8 301.8 396.9 303.3 397.1 303.3 424.6"/><path id="cd7" d="M59.9 424.6 59.9 266.4 61.4 266.4 62.9 266.4 64.5 266.4 66 266.4 67.5 266.4 69 266.4 70.6 266.4 72.1 266.4 73.6 266.4 75.1 266.4 76.6 266.4 78.2 266.4 79.7 266.4 81.2 272.8 82.7 284.9 84.2 296.9 85.8 308.7 87.3 320.3 88.8 331.5 90.3 342.3 91.9 352.6 93.4 362.3 94.9 371.4 96.4 379.8 97.9 387.5 99.5 394.5 101 400.7 102.5 406.2 104 410.9 105.5 414.9 107.1 418.1 108.6 420.7 110.1 422.6 111.6 423.8 113.2 424.5 114.7 424.6 116.2 424.2 117.7 423.3 119.2 422.1 120.8 420.5 122.3 418.6 123.8 416.4 125.3 414.1 126.8 411.7 128.4 409.1 129.9 406.5 131.4 404 132.9 401.4 134.5 399 136 396.6 137.5 394.4 139 392.3 140.5 390.5 142.1 388.8 143.6 387.4 145.1 386.1 146.6 385.1 148.1 384.3 149.7 383.8 151.2 383.4 152.7 383.3 154.2 383.4 155.8 383.7 157.3 384.2 158.8 384.8 160.3 385.6 161.8 386.5 163.4 387.6 164.9 388.8 166.4 390 167.9 391.4 169.5 392.8 171 394.3 172.5 395.8 174 397.4 175.5 399 177.1 400.5 178.6 402.1 180.1 403.7 181.6 405.3 183.1 406.9 184.7 408.4 186.2 409.9 187.7 411.4 189.2 412.8 190.8 414.2 192.3 415.5 193.8 416.8 195.3 418 196.8 419.1 198.4 420.1 199.9 421.1 201.4 422 202.9 422.7 204.4 423.3 206 423.8 207.5 424.2 209 424.5 210.5 424.6 212.1 424.6 213.6 424.4 215.1 424.1 216.6 423.7 218.1 423.2 219.7 422.5 221.2 421.7 222.7 420.8 224.2 419.8 225.7 418.8 227.3 417.6 228.8 416.4 230.3 415.1 231.8 413.8 233.4 412.4 234.9 411.1 236.4 409.7 237.9 408.3 239.4 407 241 405.7 242.5 404.5 244 403.3 245.5 402.1 247 401.1 248.6 400.2 250.1 399.3 251.6 398.6 253.1 398 254.7 397.5 256.2 397.1 257.7 396.9 259.2 396.8 260.7 396.9 262.3 397 263.8 397.3 265.3 397.8 266.8 398.4 268.3 399 269.9 399.8 271.4 400.7 272.9 401.7 274.4 402.8 276 404 277.5 405.2 279 406.5 280.5 407.8 282 409.2 283.6 410.6 285.1 411.9 286.6 413.3 288.1 414.6 289.6 415.9 291.2 417.2 292.7 418.3 294.2 419.5 295.7 420.5 297.3 421.4 298.8 422.2 300.3 422.9 301.8 423.5 303.3 424 303.3 424.6"/><path id="cd8" d="M59.9 424.6 59.9 398.3 61.4 405.8 62.9 412.1 64.5 417 66 420.7 67.5 423.1 69 424.4 70.6 424.5 72.1 423.7 73.6 421.9 75.1 419.2 76.6 415.8 78.2 411.7 79.7 407.1 81.2 401.9 82.7 396.4 84.2 390.6 85.8 384.6 87.3 378.5 88.8 372.4 90.3 366.4 91.9 360.5 93.4 354.9 94.9 349.5 96.4 344.5 97.9 339.9 99.5 335.7 101 332 102.5 328.8 104 326.2 105.5 324.1 107.1 322.5 108.6 321.5 110.1 321.1 111.6 321.2 113.2 321.8 114.7 322.9 116.2 324.5 117.7 326.6 119.2 329 120.8 331.8 122.3 335 123.8 338.5 125.3 342.2 126.8 346.1 128.4 350.2 129.9 354.4 131.4 358.7 132.9 363.1 134.5 367.5 136 371.8 137.5 376.1 139 380.4 140.5 384.4 142.1 388.4 143.6 392.2 145.1 395.8 146.6 399.2 148.1 402.5 149.7 405.5 151.2 408.2 152.7 410.8 154.2 413.1 155.8 415.2 157.3 417.1 158.8 418.7 160.3 420.1 161.8 421.3 163.4 422.3 164.9 423.1 166.4 423.7 167.9 424.2 169.5 424.5 171 424.6 172.5 424.6 174 424.4 175.5 424.1 177.1 423.7 178.6 423.2 180.1 422.6 181.6 421.8 183.1 421 184.7 420.1 186.2 419.1 187.7 418.1 189.2 417 190.8 415.8 192.3 414.6 193.8 413.3 195.3 412 196.8 410.7 198.4 409.4 199.9 408.1 201.4 406.8 202.9 405.6 204.4 404.4 206 403.2 207.5 402.2 209 401.2 210.5 400.3 212.1 399.5 213.6 398.7 215.1 398.1 216.6 397.6 218.1 397.2 219.7 397 221.2 396.8 222.7 396.8 224.2 396.9 225.7 397.2 227.3 397.5 228.8 398 230.3 398.5 231.8 399.2 233.4 400 234.9 400.9 236.4 401.9 237.9 402.9 239.4 404 241 405.2 242.5 406.4 244 407.7 245.5 409 247 410.3 248.6 411.6 250.1 412.9 251.6 414.2 253.1 415.4 254.7 416.6 256.2 417.8 257.7 418.9 259.2 419.9 260.7 420.8 262.3 421.7 263.8 422.4 265.3 423.1 266.8 423.6 268.3 424.1 269.9 424.4 271.4 424.5 272.9 424.6 274.4 424.5 276 424.4 277.5 424 279 423.6 280.5 423.1 282 422.4 283.6 421.7 285.1 420.8 286.6 419.9 288.1 418.9 289.6 417.8 291.2 416.6 292.7 415.4 294.2 414.1 295.7 412.9 297.3 411.6 298.8 410.2 300.3 408.9 301.8 407.7 303.3 406.4 303.3 424.6"/></defs>
<use href="#cd0" fill="#5E81B5" fill-opacity="0.2" stroke="none"/>
<use href="#cd1" fill="#E19C24" fill-opacity="0.2" stroke="none"/>
<use href="#cd2" fill="#8FB032" fill-opacity="0.2" stroke="none"/>
<use href="#cd3" fill="#EB6235" fill-opacity="0.2" stroke="none"/>
<use href="#cd4" fill="#8778B3" fill-opacity="0.2" stroke="none"/>
<use href="#cd5" fill="#C56E1A" fill-opacity="0.2" stroke="none"/>
<use href="#cd6" fill="#5D9EC7" fill-opacity="0.2" stroke="none"/>
<use href="#cd7" fill="#FFBF00" fill-opacity="0.2" stroke="none"/>
<use href="#cd8" fill="#A5609D" fill-opacity="0.2" stroke="none"/>
<use href="#cd0" fill="none" stroke="#5E81B5" stroke-width="2.1" stroke-dasharray="10 6.3"/>
<use href="#cd1" fill="none" stroke="#E19C24" stroke-width="1.4"/>
<use href="#cd2" fill="none" stroke="#8FB032" stroke-width="2.1" stroke-dasharray="10 6.3"/>
<use href="#cd3" fill="none" stroke="#EB6235" stroke-width="1.4"/>
<use href="#cd4" fill="none" stroke="#8778B3" stroke-width="2.1" stroke-dasharray="10 6.3"/>
<use href="#cd5" fill="none" stroke="#C56E1A" stroke-width="1.4"/>
<use href="#cd6" fill="none" stroke="#5D9EC7" stroke-width="2.1" stroke-dasharray="10 6.3"/>
<use href="#cd7" fill="none" stroke="#FFBF00" stroke-width="1.4"/>
<use href="#cd8" fill="none" stroke="#A5609D" stroke-width="1.4"/>
</g></g>
<path d="M48.4 432.5 v-3.0 M48.4 261.1 v3.0 M54.1 432.5 v-2.0 M54.1 261.1 v2.0 M59.9 432.5 v-2.0 M59.9 261.1 v2.0 M65.6 432.5 v-2.0 M65.6 261.1 v2.0 M71.3 432.5 v-2.0 M71.3 261.1 v2.0 M77.1 432.5 v-3.0 M77.1 261.1 v3.0 M82.8 432.5 v-2.0 M82.8 261.1 v2.0 M88.5 432.5 v-2.0 M88.5 261.1 v2.0 M94.3 432.5 v-2.0 M94.3 261.1 v2.0 M100.0 432.5 v-2.0 M100.0 261.1 v2.0 M105.7 432.5 v-3.0 M105.7 261.1 v3.0 M111.5 432.5 v-2.0 M111.5 261.1 v2.0 M117.2 432.5 v-2.0 M117.2 261.1 v2.0 M122.9 432.5 v-2.0 M122.9 261.1 v2.0 M128.7 432.5 v-2.0 M128.7 261.1 v2.0 M134.4 432.5 v-3.0 M134.4 261.1 v3.0 M140.1 432.5 v-2.0 M140.1 261.1 v2.0 M145.9 432.5 v-2.0 M145.9 261.1 v2.0 M151.6 432.5 v-2.0 M151.6 261.1 v2.0 M157.3 432.5 v-2.0 M157.3 261.1 v2.0 M163.1 432.5 v-3.0 M163.1 261.1 v3.0 M168.8 432.5 v-2.0 M168.8 261.1 v2.0 M174.5 432.5 v-2.0 M174.5 261.1 v2.0 M180.3 432.5 v-2.0 M180.3 261.1 v2.0 M186.0 432.5 v-2.0 M186.0 261.1 v2.0 M191.7 432.5 v-3.0 M191.7 261.1 v3.0 M197.5 432.5 v-2.0 M197.5 261.1 v2.0 M203.2 432.5 v-2.0 M203.2 261.1 v2.0 M208.9 432.5 v-2.0 M208.9 261.1 v2.0 M214.7 432.5 v-2.0 M214.7 261.1 v2.0 M220.4 432.5 v-3.0 M220.4 261.1 v3.0 M41.2 424.6 h3.0 M227.1 424.6 h-3.0 M41.2 418.8 h2.0 M227.1 418.8 h-2.0 M41.2 412.9 h2.0 M227.1 412.9 h-2.0 M41.2 407.1 h2.0 M227.1 407.1 h-2.0 M41.2 401.2 h2.0 M227.1 401.2 h-2.0 M41.2 395.4 h3.0 M227.1 395.4 h-3.0 M41.2 389.5 h2.0 M227.1 389.5 h-2.0 M41.2 383.7 h2.0 M227.1 383.7 h-2.0 M41.2 377.8 h2.0 M227.1 377.8 h-2.0 M41.2 372.0 h2.0 M227.1 372.0 h-2.0 M41.2 366.1 h3.0 M227.1 366.1 h-3.0 M41.2 360.2 h2.0 M227.1 360.2 h-2.0 M41.2 354.4 h2.0 M227.1 354.4 h-2.0 M41.2 348.6 h2.0 M227.1 348.6 h-2.0 M41.2 342.7 h2.0 M227.1 342.7 h-2.0 M41.2 336.9 h3.0 M227.1 336.9 h-3.0 M41.2 331.0 h2.0 M227.1 331.0 h-2.0 M41.2 325.2 h2.0 M227.1 325.2 h-2.0 M41.2 319.3 h2.0 M227.1 319.3 h-2.0 M41.2 313.5 h2.0 M227.1 313.5 h-2.0 M41.2 307.6 h3.0 M227.1 307.6 h-3.0 M41.2 301.8 h2.0 M227.1 301.8 h-2.0 M41.2 295.9 h2.0 M227.1 295.9 h-2.0 M41.2 290.1 h2.0 M227.1 290.1 h-2.0 M41.2 284.2 h2.0 M227.1 284.2 h-2.0 M41.2 278.4 h3.0 M227.1 278.4 h-3.0 M41.2 272.5 h2.0 M227.1 272.5 h-2.0 M41.2 266.7 h2.0 M227.1 266.7 h-2.0" stroke="#000" stroke-width="0.9" fill="none"/>
<rect x="41.2" y="261.1" width="185.9" height="171.4" fill="none" stroke="#000" stroke-width="2.1"/>
<text transform="translate(38.9 429.1) scale(0.78 1)" text-anchor="end" class="tk">0</text>
<text transform="translate(38.9 399.9) scale(0.78 1)" text-anchor="end" class="tk">10</text>
<text transform="translate(38.9 370.6) scale(0.78 1)" text-anchor="end" class="tk">20</text>
<text transform="translate(38.9 341.4) scale(0.78 1)" text-anchor="end" class="tk">30</text>
<text transform="translate(38.9 312.1) scale(0.78 1)" text-anchor="end" class="tk">40</text>
<text transform="translate(38.9 282.9) scale(0.78 1)" text-anchor="end" class="tk">50</text>
<text transform="translate(47.2 447.8) scale(0.78 1)" text-anchor="middle" class="tk">−3</text>
<text transform="translate(75.9 447.8) scale(0.78 1)" text-anchor="middle" class="tk">−2</text>
<text transform="translate(104.5 447.8) scale(0.78 1)" text-anchor="middle" class="tk">−1</text>
<text transform="translate(134.4 447.8) scale(0.78 1)" text-anchor="middle" class="tk">0</text>
<text transform="translate(163.1 447.8) scale(0.78 1)" text-anchor="middle" class="tk">1</text>
<text transform="translate(191.7 447.8) scale(0.78 1)" text-anchor="middle" class="tk">2</text>
<text transform="translate(220.4 447.8) scale(0.78 1)" text-anchor="middle" class="tk">3</text>
<text transform="translate(22.3 347.0) rotate(-90) scale(1 0.74)" text-anchor="middle" class="yl"><tspan font-style="italic">U</tspan><tspan font-size="5.5" dy="1.6">3</tspan><tspan dy="-1.6">(x,t)</tspan></text>
<text transform="translate(134.6 471.0) scale(0.74 1)" text-anchor="middle" class="xl">x</text>
<clipPath id="ce"><rect x="265.1" y="261.1" width="183.7" height="173.5"/></clipPath>
<g clip-path="url(#ce)"><g transform="scale(0.74 1)">
<defs><path id="ce0" d="M357.8 425.2 357.8 366.2 358.5 372.1 359.3 377.8 360.1 383.3 360.9 388.6 361.7 393.6 362.4 398.4 363.2 402.8 364 406.9 364.8 410.7 365.6 414 366.3 417 367.1 419.5 367.9 421.6 368.7 423.2 369.5 424.3 370.2 425 371 425.2 371.8 424.9 372.6 424.2 373.4 422.9 374.1 421.2 374.9 419.1 375.7 416.5 376.5 413.5 377.2 410.1 378 406.3 378.8 402.1 379.6 397.6 380.4 392.8 381.1 387.7 381.9 382.4 382.7 376.8 383.5 371.1 384.3 365.2 385 359.2 385.8 353.2 386.6 347.1 387.4 341 388.2 335 388.9 329 389.7 323.1 390.5 317.4 391.3 311.9 392.1 306.6 392.8 301.6 393.6 296.8 394.4 292.4 395.2 288.3 395.9 284.5 396.7 281.2 397.5 278.2 398.3 275.7 399.1 273.7 399.8 272 400.6 270.9 401.4 270.2 402.2 270 403 270.3 403.7 271.1 404.5 272.3 405.3 274 406.1 276.1 406.9 278.7 407.6 281.7 408.4 285.1 409.2 288.9 410 293.1 410.8 297.6 411.5 302.4 412.3 307.5 413.1 312.8 413.9 318.4 414.6 324.1 415.4 330 416.2 336 417 342 417.8 348.1 418.5 354.2 419.3 360.3 420.1 366.2 420.9 372.1 421.7 377.8 422.4 383.3 423.2 388.6 424 393.6 424.8 398.4 425.6 402.8 426.3 406.9 427.1 410.7 427.9 414 428.7 417 429.5 419.5 430.2 421.6 431 423.2 431.8 424.3 432.6 425 433.3 425.2 434.1 424.9 434.9 424.2 435.7 422.9 436.5 421.2 437.2 419.1 438 416.5 438.8 413.5 439.6 410.1 440.4 406.3 441.1 402.1 441.9 397.6 442.7 392.8 443.5 387.7 444.3 382.4 445 376.8 445.8 371.1 446.6 365.2 447.4 359.2 448.2 353.2 448.9 347.1 449.7 341 450.5 335 451.3 329 452 323.1 452.8 317.4 453.6 311.9 454.4 306.6 455.2 301.6 455.9 296.8 456.7 292.4 457.5 288.3 458.3 284.5 459.1 281.2 459.8 278.2 460.6 275.7 461.4 273.7 462.2 272 463 270.9 463.7 270.2 464.5 270 465.3 270.3 466.1 271.1 466.8 272.3 467.6 274 468.4 276.1 469.2 278.7 470 281.7 470.7 285.1 471.5 288.9 472.3 293.1 473.1 297.6 473.9 302.4 474.6 307.5 475.4 312.8 476.2 318.4 477 324.1 477.8 330 478.5 336 479.3 342 480.1 348.1 480.9 354.2 481.7 360.3 482.4 366.2 483.2 372.1 484 377.8 484.8 383.3 485.5 388.6 486.3 393.6 487.1 398.4 487.9 402.8 488.7 406.9 489.4 410.7 490.2 414 491 417 491.8 419.5 492.6 421.6 493.3 423.2 494.1 424.3 494.9 425 495.7 425.2 496.5 424.9 497.2 424.2 498 422.9 498.8 421.2 499.6 419.1 500.4 416.5 501.1 413.5 501.9 410.1 502.7 406.3 503.5 402.1 504.2 397.6 505 392.8 505.8 387.7 506.6 382.4 507.4 376.8 508.1 371.1 508.9 365.2 509.7 359.2 510.5 353.2 511.3 347.1 512 341 512.8 335 513.6 329 514.4 323.1 515.2 317.4 515.9 311.9 516.7 306.6 517.5 301.6 518.3 296.8 519.1 292.4 519.8 288.3 520.6 284.5 521.4 281.2 522.2 278.2 522.9 275.7 523.7 273.7 524.5 272 525.3 270.9 526.1 270.2 526.8 270 527.6 270.3 528.4 271.1 529.2 272.3 530 274 530.7 276.1 531.5 278.7 532.3 281.7 533.1 285.1 533.9 288.9 534.6 293.1 535.4 297.6 536.2 302.4 537 307.5 537.8 312.8 538.5 318.4 539.3 324.1 540.1 330 540.9 336 541.6 342 542.4 348.1 543.2 354.2 544 360.3 544.8 366.2 545.5 372.1 546.3 377.8 547.1 383.3 547.9 388.6 548.7 393.6 549.4 398.4 550.2 402.8 551 406.9 551.8 410.7 552.6 414 553.3 417 554.1 419.5 554.9 421.6 555.7 423.2 556.5 424.3 557.2 425 558 425.2 558.8 424.9 559.6 424.2 560.3 422.9 561.1 421.2 561.9 419.1 562.7 416.5 563.5 413.5 564.2 410.1 565 406.3 565.8 402.1 566.6 397.6 567.4 392.8 568.1 387.7 568.9 382.4 569.7 376.8 570.5 371.1 571.3 365.2 572 359.2 572.8 353.2 573.6 347.1 574.4 341 575.1 335 575.9 329 576.7 323.1 577.5 317.4 578.3 311.9 579 306.6 579.8 301.6 580.6 296.8 581.4 292.4 582.2 288.3 582.9 284.5 583.7 281.2 584.5 278.2 585.3 275.7 586.1 273.7 586.8 272 587.6 270.9 588.4 270.2 589.2 270 590 270.3 590.7 271.1 591.5 272.3 592.3 274 593.1 276.1 593.8 278.7 594.6 281.7 595.4 285.1 596.2 288.9 597 293.1 597.7 297.6 598.5 302.4 599.3 307.5 600.1 312.8 600.9 318.4 601.6 324.1 602.4 330 603.2 336 604 342 604.8 348.1 605.5 354.2 606.3 360.3 607.1 366.2 607.1 425.2"/><path id="ce1" d="M357.8 425.2 357.8 357.8 358.5 351.7 359.3 345.6 360.1 339.5 360.9 333.5 361.7 327.5 362.4 321.7 363.2 316.1 364 310.6 364.8 305.4 365.6 300.4 366.3 295.7 367.1 291.3 367.9 287.3 368.7 283.7 369.5 280.4 370.2 277.6 371 275.2 371.8 273.2 372.6 271.7 373.4 270.7 374.1 270.1 374.9 270 375.7 270.4 376.5 271.3 377.2 272.7 378 274.5 378.8 276.7 379.6 279.4 380.4 282.5 381.1 286 381.9 289.9 382.7 294.2 383.5 298.8 384.3 303.6 385 308.8 385.8 314.2 386.6 319.8 387.4 325.5 388.2 331.5 388.9 337.5 389.7 343.5 390.5 349.6 391.3 355.7 392.1 361.7 392.8 367.7 393.6 373.5 394.4 379.1 395.2 384.6 395.9 389.8 396.7 394.8 397.5 399.5 398.3 403.9 399.1 407.9 399.8 411.5 400.6 414.8 401.4 417.6 402.2 420 403 422 403.7 423.5 404.5 424.5 405.3 425.1 406.1 425.2 406.9 424.8 407.6 423.9 408.4 422.6 409.2 420.8 410 418.5 410.8 415.8 411.5 412.7 412.3 409.2 413.1 405.3 413.9 401 414.6 396.5 415.4 391.6 416.2 386.4 417 381 417.8 375.4 418.5 369.7 419.3 363.8 420.1 357.8 420.9 351.7 421.7 345.6 422.4 339.5 423.2 333.5 424 327.5 424.8 321.7 425.6 316.1 426.3 310.6 427.1 305.4 427.9 300.4 428.7 295.7 429.5 291.3 430.2 287.3 431 283.7 431.8 280.4 432.6 277.6 433.3 275.2 434.1 273.2 434.9 271.7 435.7 270.7 436.5 270.1 437.2 270 438 270.4 438.8 271.3 439.6 272.7 440.4 274.5 441.1 276.7 441.9 279.4 442.7 282.5 443.5 286 444.3 289.9 445 294.2 445.8 298.8 446.6 303.6 447.4 308.8 448.2 314.2 448.9 319.8 449.7 325.5 450.5 331.5 451.3 337.5 452 343.5 452.8 349.6 453.6 355.7 454.4 361.7 455.2 367.7 455.9 373.5 456.7 379.1 457.5 384.6 458.3 389.8 459.1 394.8 459.8 399.5 460.6 403.9 461.4 407.9 462.2 411.5 463 414.8 463.7 417.6 464.5 420 465.3 422 466.1 423.5 466.8 424.5 467.6 425.1 468.4 425.2 469.2 424.8 470 423.9 470.7 422.6 471.5 420.8 472.3 418.5 473.1 415.8 473.9 412.7 474.6 409.2 475.4 405.3 476.2 401 477 396.5 477.8 391.6 478.5 386.4 479.3 381 480.1 375.4 480.9 369.7 481.7 363.8 482.4 357.8 483.2 351.7 484 345.6 484.8 339.5 485.5 333.5 486.3 327.5 487.1 321.7 487.9 316.1 488.7 310.6 489.4 305.4 490.2 300.4 491 295.7 491.8 291.3 492.6 287.3 493.3 283.7 494.1 280.4 494.9 277.6 495.7 275.2 496.5 273.2 497.2 271.7 498 270.7 498.8 270.1 499.6 270 500.4 270.4 501.1 271.3 501.9 272.7 502.7 274.5 503.5 276.7 504.2 279.4 505 282.5 505.8 286 506.6 289.9 507.4 294.2 508.1 298.8 508.9 303.6 509.7 308.8 510.5 314.2 511.3 319.8 512 325.5 512.8 331.5 513.6 337.5 514.4 343.5 515.2 349.6 515.9 355.7 516.7 361.7 517.5 367.7 518.3 373.5 519.1 379.1 519.8 384.6 520.6 389.8 521.4 394.8 522.2 399.5 522.9 403.9 523.7 407.9 524.5 411.5 525.3 414.8 526.1 417.6 526.8 420 527.6 422 528.4 423.5 529.2 424.5 530 425.1 530.7 425.2 531.5 424.8 532.3 423.9 533.1 422.6 533.9 420.8 534.6 418.5 535.4 415.8 536.2 412.7 537 409.2 537.8 405.3 538.5 401 539.3 396.5 540.1 391.6 540.9 386.4 541.6 381 542.4 375.4 543.2 369.7 544 363.8 544.8 357.8 545.5 351.7 546.3 345.6 547.1 339.5 547.9 333.5 548.7 327.5 549.4 321.7 550.2 316.1 551 310.6 551.8 305.4 552.6 300.4 553.3 295.7 554.1 291.3 554.9 287.3 555.7 283.7 556.5 280.4 557.2 277.6 558 275.2 558.8 273.2 559.6 271.7 560.3 270.7 561.1 270.1 561.9 270 562.7 270.4 563.5 271.3 564.2 272.7 565 274.5 565.8 276.7 566.6 279.4 567.4 282.5 568.1 286 568.9 289.9 569.7 294.2 570.5 298.8 571.3 303.6 572 308.8 572.8 314.2 573.6 319.8 574.4 325.5 575.1 331.5 575.9 337.5 576.7 343.5 577.5 349.6 578.3 355.7 579 361.7 579.8 367.7 580.6 373.5 581.4 379.1 582.2 384.6 582.9 389.8 583.7 394.8 584.5 399.5 585.3 403.9 586.1 407.9 586.8 411.5 587.6 414.8 588.4 417.6 589.2 420 590 422 590.7 423.5 591.5 424.5 592.3 425.1 593.1 425.2 593.8 424.8 594.6 423.9 595.4 422.6 596.2 420.8 597 418.5 597.7 415.8 598.5 412.7 599.3 409.2 600.1 405.3 600.9 401 601.6 396.5 602.4 391.6 603.2 386.4 604 381 604.8 375.4 605.5 369.7 606.3 363.8 607.1 357.8 607.1 425.2"/><path id="ce2" d="M357.8 425.2 357.8 305.1 358.5 310.3 359.3 315.8 360.1 321.4 360.9 327.2 361.7 333.2 362.4 339.2 363.2 345.3 364 351.3 364.8 357.4 365.6 363.4 366.3 369.3 367.1 375.1 367.9 380.7 368.7 386.1 369.5 391.3 370.2 396.2 371 400.8 371.8 405.1 372.6 409 373.4 412.5 374.1 415.6 374.9 418.4 375.7 420.6 376.5 422.5 377.2 423.8 378 424.7 378.8 425.2 379.6 425.1 380.4 424.6 381.1 423.6 381.9 422.1 382.7 420.2 383.5 417.8 384.3 415 385 411.7 385.8 408.1 386.6 404.1 387.4 399.8 388.2 395.1 388.9 390.1 389.7 384.9 390.5 379.5 391.3 373.8 392.1 368 392.8 362.1 393.6 356 394.4 350 395.2 343.9 395.9 337.8 396.7 331.8 397.5 325.9 398.3 320.1 399.1 314.5 399.8 309.1 400.6 303.9 401.4 299 402.2 294.4 403 290.2 403.7 286.2 404.5 282.7 405.3 279.6 406.1 276.9 406.9 274.6 407.6 272.7 408.4 271.4 409.2 270.5 410 270 410.8 270.1 411.5 270.6 412.3 271.6 413.1 273.1 413.9 275.1 414.6 277.4 415.4 280.2 416.2 283.5 417 287.1 417.8 291.1 418.5 295.4 419.3 300.1 420.1 305.1 420.9 310.3 421.7 315.8 422.4 321.4 423.2 327.2 424 333.2 424.8 339.2 425.6 345.3 426.3 351.3 427.1 357.4 427.9 363.4 428.7 369.3 429.5 375.1 430.2 380.7 431 386.1 431.8 391.3 432.6 396.2 433.3 400.8 434.1 405.1 434.9 409 435.7 412.5 436.5 415.6 437.2 418.4 438 420.6 438.8 422.5 439.6 423.8 440.4 424.7 441.1 425.2 441.9 425.1 442.7 424.6 443.5 423.6 444.3 422.1 445 420.2 445.8 417.8 446.6 415 447.4 411.7 448.2 408.1 448.9 404.1 449.7 399.8 450.5 395.1 451.3 390.1 452 384.9 452.8 379.5 453.6 373.8 454.4 368 455.2 362.1 455.9 356 456.7 350 457.5 343.9 458.3 337.8 459.1 331.8 459.8 325.9 460.6 320.1 461.4 314.5 462.2 309.1 463 303.9 463.7 299 464.5 294.4 465.3 290.2 466.1 286.2 466.8 282.7 467.6 279.6 468.4 276.9 469.2 274.6 470 272.7 470.7 271.4 471.5 270.5 472.3 270 473.1 270.1 473.9 270.6 474.6 271.6 475.4 273.1 476.2 275.1 477 277.4 477.8 280.2 478.5 283.5 479.3 287.1 480.1 291.1 480.9 295.4 481.7 300.1 482.4 305.1 483.2 310.3 484 315.8 484.8 321.4 485.5 327.2 486.3 333.2 487.1 339.2 487.9 345.3 488.7 351.3 489.4 357.4 490.2 363.4 491 369.3 491.8 375.1 492.6 380.7 493.3 386.1 494.1 391.3 494.9 396.2 495.7 400.8 496.5 405.1 497.2 409 498 412.5 498.8 415.6 499.6 418.4 500.4 420.6 501.1 422.5 501.9 423.8 502.7 424.7 503.5 425.2 504.2 425.1 505 424.6 505.8 423.6 506.6 422.1 507.4 420.2 508.1 417.8 508.9 415 509.7 411.7 510.5 408.1 511.3 404.1 512 399.8 512.8 395.1 513.6 390.1 514.4 384.9 515.2 379.5 515.9 373.8 516.7 368 517.5 362.1 518.3 356 519.1 350 519.8 343.9 520.6 337.8 521.4 331.8 522.2 325.9 522.9 320.1 523.7 314.5 524.5 309.1 525.3 303.9 526.1 299 526.8 294.4 527.6 290.2 528.4 286.2 529.2 282.7 530 279.6 530.7 276.9 531.5 274.6 532.3 272.7 533.1 271.4 533.9 270.5 534.6 270 535.4 270.1 536.2 270.6 537 271.6 537.8 273.1 538.5 275.1 539.3 277.4 540.1 280.2 540.9 283.5 541.6 287.1 542.4 291.1 543.2 295.4 544 300.1 544.8 305.1 545.5 310.3 546.3 315.8 547.1 321.4 547.9 327.2 548.7 333.2 549.4 339.2 550.2 345.3 551 351.3 551.8 357.4 552.6 363.4 553.3 369.3 554.1 375.1 554.9 380.7 555.7 386.1 556.5 391.3 557.2 396.2 558 400.8 558.8 405.1 559.6 409 560.3 412.5 561.1 415.6 561.9 418.4 562.7 420.6 563.5 422.5 564.2 423.8 565 424.7 565.8 425.2 566.6 425.1 567.4 424.6 568.1 423.6 568.9 422.1 569.7 420.2 570.5 417.8 571.3 415 572 411.7 572.8 408.1 573.6 404.1 574.4 399.8 575.1 395.1 575.9 390.1 576.7 384.9 577.5 379.5 578.3 373.8 579 368 579.8 362.1 580.6 356 581.4 350 582.2 343.9 582.9 337.8 583.7 331.8 584.5 325.9 585.3 320.1 586.1 314.5 586.8 309.1 587.6 303.9 588.4 299 589.2 294.4 590 290.2 590.7 286.2 591.5 282.7 592.3 279.6 593.1 276.9 593.8 274.6 594.6 272.7 595.4 271.4 596.2 270.5 597 270 597.7 270.1 598.5 270.6 599.3 271.6 600.1 273.1 600.9 275.1 601.6 277.4 602.4 280.2 603.2 283.5 604 287.1 604.8 291.1 605.5 295.4 606.3 300.1 607.1 305.1 607.1 425.2"/><path id="ce3" d="M357.8 425.2 357.8 414.1 358.5 410.7 359.3 407 360.1 402.9 360.9 398.5 361.7 393.7 362.4 388.7 363.2 383.4 364 377.9 364.8 372.2 365.6 366.3 366.3 360.4 367.1 354.3 367.9 348.2 368.7 342.1 369.5 336.1 370.2 330.1 371 324.2 371.8 318.5 372.6 312.9 373.4 307.6 374.1 302.5 374.9 297.7 375.7 293.2 376.5 289 377.2 285.2 378 281.8 378.8 278.8 379.6 276.2 380.4 274 381.1 272.3 381.9 271.1 382.7 270.3 383.5 270 384.3 270.2 385 270.9 385.8 272 386.6 273.6 387.4 275.7 388.2 278.2 388.9 281.1 389.7 284.5 390.5 288.2 391.3 292.3 392.1 296.7 392.8 301.5 393.6 306.5 394.4 311.8 395.2 317.3 395.9 323 396.7 328.9 397.5 334.9 398.3 340.9 399.1 347 399.8 353.1 400.6 359.1 401.4 365.1 402.2 371 403 376.7 403.7 382.3 404.5 387.6 405.3 392.7 406.1 397.5 406.9 402 407.6 406.2 408.4 410 409.2 413.4 410 416.5 410.8 419.1 411.5 421.2 412.3 422.9 413.1 424.1 413.9 424.9 414.6 425.2 415.4 425 416.2 424.3 417 423.2 417.8 421.6 418.5 419.5 419.3 417 420.1 414.1 420.9 410.7 421.7 407 422.4 402.9 423.2 398.5 424 393.7 424.8 388.7 425.6 383.4 426.3 377.9 427.1 372.2 427.9 366.3 428.7 360.4 429.5 354.3 430.2 348.2 431 342.1 431.8 336.1 432.6 330.1 433.3 324.2 434.1 318.5 434.9 312.9 435.7 307.6 436.5 302.5 437.2 297.7 438 293.2 438.8 289 439.6 285.2 440.4 281.8 441.1 278.8 441.9 276.2 442.7 274 443.5 272.3 444.3 271.1 445 270.3 445.8 270 446.6 270.2 447.4 270.9 448.2 272 448.9 273.6 449.7 275.7 450.5 278.2 451.3 281.1 452 284.5 452.8 288.2 453.6 292.3 454.4 296.7 455.2 301.5 455.9 306.5 456.7 311.8 457.5 317.3 458.3 323 459.1 328.9 459.8 334.9 460.6 340.9 461.4 347 462.2 353.1 463 359.1 463.7 365.1 464.5 371 465.3 376.7 466.1 382.3 466.8 387.6 467.6 392.7 468.4 397.5 469.2 402 470 406.2 470.7 410 471.5 413.4 472.3 416.5 473.1 419.1 473.9 421.2 474.6 422.9 475.4 424.1 476.2 424.9 477 425.2 477.8 425 478.5 424.3 479.3 423.2 480.1 421.6 480.9 419.5 481.7 417 482.4 414.1 483.2 410.7 484 407 484.8 402.9 485.5 398.5 486.3 393.7 487.1 388.7 487.9 383.4 488.7 377.9 489.4 372.2 490.2 366.3 491 360.4 491.8 354.3 492.6 348.2 493.3 342.1 494.1 336.1 494.9 330.1 495.7 324.2 496.5 318.5 497.2 312.9 498 307.6 498.8 302.5 499.6 297.7 500.4 293.2 501.1 289 501.9 285.2 502.7 281.8 503.5 278.8 504.2 276.2 505 274 505.8 272.3 506.6 271.1 507.4 270.3 508.1 270 508.9 270.2 509.7 270.9 510.5 272 511.3 273.6 512 275.7 512.8 278.2 513.6 281.1 514.4 284.5 515.2 288.2 515.9 292.3 516.7 296.7 517.5 301.5 518.3 306.5 519.1 311.8 519.8 317.3 520.6 323 521.4 328.9 522.2 334.9 522.9 340.9 523.7 347 524.5 353.1 525.3 359.1 526.1 365.1 526.8 371 527.6 376.7 528.4 382.3 529.2 387.6 530 392.7 530.7 397.5 531.5 402 532.3 406.2 533.1 410 533.9 413.4 534.6 416.5 535.4 419.1 536.2 421.2 537 422.9 537.8 424.1 538.5 424.9 539.3 425.2 540.1 425 540.9 424.3 541.6 423.2 542.4 421.6 543.2 419.5 544 417 544.8 414.1 545.5 410.7 546.3 407 547.1 402.9 547.9 398.5 548.7 393.7 549.4 388.7 550.2 383.4 551 377.9 551.8 372.2 552.6 366.3 553.3 360.4 554.1 354.3 554.9 348.2 555.7 342.1 556.5 336.1 557.2 330.1 558 324.2 558.8 318.5 559.6 312.9 560.3 307.6 561.1 302.5 561.9 297.7 562.7 293.2 563.5 289 564.2 285.2 565 281.8 565.8 278.8 566.6 276.2 567.4 274 568.1 272.3 568.9 271.1 569.7 270.3 570.5 270 571.3 270.2 572 270.9 572.8 272 573.6 273.6 574.4 275.7 575.1 278.2 575.9 281.1 576.7 284.5 577.5 288.2 578.3 292.3 579 296.7 579.8 301.5 580.6 306.5 581.4 311.8 582.2 317.3 582.9 323 583.7 328.9 584.5 334.9 585.3 340.9 586.1 347 586.8 353.1 587.6 359.1 588.4 365.1 589.2 371 590 376.7 590.7 382.3 591.5 387.6 592.3 392.7 593.1 397.5 593.8 402 594.6 406.2 595.4 410 596.2 413.4 597 416.5 597.7 419.1 598.5 421.2 599.3 422.9 600.1 424.1 600.9 424.9 601.6 425.2 602.4 425 603.2 424.3 604 423.2 604.8 421.6 605.5 419.5 606.3 417 607.1 414.1 607.1 425.2"/><path id="ce4" d="M357.8 425.2 357.8 270.3 358.5 271.2 359.3 272.4 360.1 274.2 360.9 276.4 361.7 279 362.4 282 363.2 285.5 364 289.3 364.8 293.5 365.6 298.1 366.3 302.9 367.1 308 367.9 313.4 368.7 319 369.5 324.7 370.2 330.6 371 336.6 371.8 342.6 372.6 348.7 373.4 354.8 374.1 360.9 374.9 366.8 375.7 372.6 376.5 378.3 377.2 383.8 378 389.1 378.8 394.1 379.6 398.8 380.4 403.3 381.1 407.3 381.9 411 382.7 414.3 383.5 417.2 384.3 419.7 385 421.7 385.8 423.3 386.6 424.4 387.4 425 388.2 425.2 388.9 424.9 389.7 424.1 390.5 422.8 391.3 421 392.1 418.9 392.8 416.2 393.6 413.2 394.4 409.7 395.2 405.9 395.9 401.7 396.7 397.1 397.5 392.3 398.3 387.2 399.1 381.8 399.8 376.3 400.6 370.5 401.4 364.6 402.2 358.6 403 352.6 403.7 346.5 404.5 340.4 405.3 334.4 406.1 328.4 406.9 322.6 407.6 316.9 408.4 311.4 409.2 306.1 410 301.1 410.8 296.4 411.5 292 412.3 287.9 413.1 284.2 413.9 280.9 414.6 278 415.4 275.5 416.2 273.5 417 271.9 417.8 270.8 418.5 270.2 419.3 270 420.1 270.3 420.9 271.2 421.7 272.4 422.4 274.2 423.2 276.4 424 279 424.8 282 425.6 285.5 426.3 289.3 427.1 293.5 427.9 298.1 428.7 302.9 429.5 308 430.2 313.4 431 319 431.8 324.7 432.6 330.6 433.3 336.6 434.1 342.6 434.9 348.7 435.7 354.8 436.5 360.9 437.2 366.8 438 372.6 438.8 378.3 439.6 383.8 440.4 389.1 441.1 394.1 441.9 398.8 442.7 403.3 443.5 407.3 444.3 411 445 414.3 445.8 417.2 446.6 419.7 447.4 421.7 448.2 423.3 448.9 424.4 449.7 425 450.5 425.2 451.3 424.9 452 424.1 452.8 422.8 453.6 421 454.4 418.9 455.2 416.2 455.9 413.2 456.7 409.7 457.5 405.9 458.3 401.7 459.1 397.1 459.8 392.3 460.6 387.2 461.4 381.8 462.2 376.3 463 370.5 463.7 364.6 464.5 358.6 465.3 352.6 466.1 346.5 466.8 340.4 467.6 334.4 468.4 328.4 469.2 322.6 470 316.9 470.7 311.4 471.5 306.1 472.3 301.1 473.1 296.4 473.9 292 474.6 287.9 475.4 284.2 476.2 280.9 477 278 477.8 275.5 478.5 273.5 479.3 271.9 480.1 270.8 480.9 270.2 481.7 270 482.4 270.3 483.2 271.2 484 272.4 484.8 274.2 485.5 276.4 486.3 279 487.1 282 487.9 285.5 488.7 289.3 489.4 293.5 490.2 298.1 491 302.9 491.8 308 492.6 313.4 493.3 319 494.1 324.7 494.9 330.6 495.7 336.6 496.5 342.6 497.2 348.7 498 354.8 498.8 360.9 499.6 366.8 500.4 372.6 501.1 378.3 501.9 383.8 502.7 389.1 503.5 394.1 504.2 398.8 505 403.3 505.8 407.3 506.6 411 507.4 414.3 508.1 417.2 508.9 419.7 509.7 421.7 510.5 423.3 511.3 424.4 512 425 512.8 425.2 513.6 424.9 514.4 424.1 515.2 422.8 515.9 421 516.7 418.9 517.5 416.2 518.3 413.2 519.1 409.7 519.8 405.9 520.6 401.7 521.4 397.1 522.2 392.3 522.9 387.2 523.7 381.8 524.5 376.3 525.3 370.5 526.1 364.6 526.8 358.6 527.6 352.6 528.4 346.5 529.2 340.4 530 334.4 530.7 328.4 531.5 322.6 532.3 316.9 533.1 311.4 533.9 306.1 534.6 301.1 535.4 296.4 536.2 292 537 287.9 537.8 284.2 538.5 280.9 539.3 278 540.1 275.5 540.9 273.5 541.6 271.9 542.4 270.8 543.2 270.2 544 270 544.8 270.3 545.5 271.2 546.3 272.4 547.1 274.2 547.9 276.4 548.7 279 549.4 282 550.2 285.5 551 289.3 551.8 293.5 552.6 298.1 553.3 302.9 554.1 308 554.9 313.4 555.7 319 556.5 324.7 557.2 330.6 558 336.6 558.8 342.6 559.6 348.7 560.3 354.8 561.1 360.9 561.9 366.8 562.7 372.6 563.5 378.3 564.2 383.8 565 389.1 565.8 394.1 566.6 398.8 567.4 403.3 568.1 407.3 568.9 411 569.7 414.3 570.5 417.2 571.3 419.7 572 421.7 572.8 423.3 573.6 424.4 574.4 425 575.1 425.2 575.9 424.9 576.7 424.1 577.5 422.8 578.3 421 579 418.9 579.8 416.2 580.6 413.2 581.4 409.7 582.2 405.9 582.9 401.7 583.7 397.1 584.5 392.3 585.3 387.2 586.1 381.8 586.8 376.3 587.6 370.5 588.4 364.6 589.2 358.6 590 352.6 590.7 346.5 591.5 340.4 592.3 334.4 593.1 328.4 593.8 322.6 594.6 316.9 595.4 311.4 596.2 306.1 597 301.1 597.7 296.4 598.5 292 599.3 287.9 600.1 284.2 600.9 280.9 601.6 278 602.4 275.5 603.2 273.5 604 271.9 604.8 270.8 605.5 270.2 606.3 270 607.1 270.3 607.1 425.2"/><path id="ce5" d="M357.8 425.2 357.8 420.3 358.5 422.2 359.3 423.7 360.1 424.6 360.9 425.1 361.7 425.1 362.4 424.7 363.2 423.7 364 422.3 364.8 420.5 365.6 418.2 366.3 415.4 367.1 412.2 367.9 408.7 368.7 404.7 369.5 400.4 370.2 395.8 371 390.9 371.8 385.7 372.6 380.3 373.4 374.6 374.1 368.9 374.9 362.9 375.7 356.9 376.5 350.8 377.2 344.7 378 338.7 378.8 332.7 379.6 326.7 380.4 320.9 381.1 315.3 381.9 309.9 382.7 304.7 383.5 299.7 384.3 295.1 385 290.8 385.8 286.8 386.6 283.2 387.4 280 388.2 277.2 388.9 274.9 389.7 273 390.5 271.5 391.3 270.6 392.1 270.1 392.8 270.1 393.6 270.5 394.4 271.5 395.2 272.9 395.9 274.7 396.7 277.1 397.5 279.8 398.3 283 399.1 286.6 399.8 290.5 400.6 294.8 401.4 299.4 402.2 304.3 403 309.5 403.7 314.9 404.5 320.6 405.3 326.4 406.1 332.3 406.9 338.3 407.6 344.4 408.4 350.5 409.2 356.5 410 362.6 410.8 368.5 411.5 374.3 412.3 379.9 413.1 385.4 413.9 390.6 414.6 395.5 415.4 400.1 416.2 404.5 417 408.4 417.8 412 418.5 415.2 419.3 418 420.1 420.3 420.9 422.2 421.7 423.7 422.4 424.6 423.2 425.1 424 425.1 424.8 424.7 425.6 423.7 426.3 422.3 427.1 420.5 427.9 418.2 428.7 415.4 429.5 412.2 430.2 408.7 431 404.7 431.8 400.4 432.6 395.8 433.3 390.9 434.1 385.7 434.9 380.3 435.7 374.6 436.5 368.9 437.2 362.9 438 356.9 438.8 350.8 439.6 344.7 440.4 338.7 441.1 332.7 441.9 326.7 442.7 320.9 443.5 315.3 444.3 309.9 445 304.7 445.8 299.7 446.6 295.1 447.4 290.8 448.2 286.8 448.9 283.2 449.7 280 450.5 277.2 451.3 274.9 452 273 452.8 271.5 453.6 270.6 454.4 270.1 455.2 270.1 455.9 270.5 456.7 271.5 457.5 272.9 458.3 274.7 459.1 277.1 459.8 279.8 460.6 283 461.4 286.6 462.2 290.5 463 294.8 463.7 299.4 464.5 304.3 465.3 309.5 466.1 314.9 466.8 320.6 467.6 326.4 468.4 332.3 469.2 338.3 470 344.4 470.7 350.5 471.5 356.5 472.3 362.6 473.1 368.5 473.9 374.3 474.6 379.9 475.4 385.4 476.2 390.6 477 395.5 477.8 400.1 478.5 404.5 479.3 408.4 480.1 412 480.9 415.2 481.7 418 482.4 420.3 483.2 422.2 484 423.7 484.8 424.6 485.5 425.1 486.3 425.1 487.1 424.7 487.9 423.7 488.7 422.3 489.4 420.5 490.2 418.2 491 415.4 491.8 412.2 492.6 408.7 493.3 404.7 494.1 400.4 494.9 395.8 495.7 390.9 496.5 385.7 497.2 380.3 498 374.6 498.8 368.9 499.6 362.9 500.4 356.9 501.1 350.8 501.9 344.7 502.7 338.7 503.5 332.7 504.2 326.7 505 320.9 505.8 315.3 506.6 309.9 507.4 304.7 508.1 299.7 508.9 295.1 509.7 290.8 510.5 286.8 511.3 283.2 512 280 512.8 277.2 513.6 274.9 514.4 273 515.2 271.5 515.9 270.6 516.7 270.1 517.5 270.1 518.3 270.5 519.1 271.5 519.8 272.9 520.6 274.7 521.4 277.1 522.2 279.8 522.9 283 523.7 286.6 524.5 290.5 525.3 294.8 526.1 299.4 526.8 304.3 527.6 309.5 528.4 314.9 529.2 320.6 530 326.4 530.7 332.3 531.5 338.3 532.3 344.4 533.1 350.5 533.9 356.5 534.6 362.6 535.4 368.5 536.2 374.3 537 379.9 537.8 385.4 538.5 390.6 539.3 395.5 540.1 400.1 540.9 404.5 541.6 408.4 542.4 412 543.2 415.2 544 418 544.8 420.3 545.5 422.2 546.3 423.7 547.1 424.6 547.9 425.1 548.7 425.1 549.4 424.7 550.2 423.7 551 422.3 551.8 420.5 552.6 418.2 553.3 415.4 554.1 412.2 554.9 408.7 555.7 404.7 556.5 400.4 557.2 395.8 558 390.9 558.8 385.7 559.6 380.3 560.3 374.6 561.1 368.9 561.9 362.9 562.7 356.9 563.5 350.8 564.2 344.7 565 338.7 565.8 332.7 566.6 326.7 567.4 320.9 568.1 315.3 568.9 309.9 569.7 304.7 570.5 299.7 571.3 295.1 572 290.8 572.8 286.8 573.6 283.2 574.4 280 575.1 277.2 575.9 274.9 576.7 273 577.5 271.5 578.3 270.6 579 270.1 579.8 270.1 580.6 270.5 581.4 271.5 582.2 272.9 582.9 274.7 583.7 277.1 584.5 279.8 585.3 283 586.1 286.6 586.8 290.5 587.6 294.8 588.4 299.4 589.2 304.3 590 309.5 590.7 314.9 591.5 320.6 592.3 326.4 593.1 332.3 593.8 338.3 594.6 344.4 595.4 350.5 596.2 356.5 597 362.6 597.7 368.5 598.5 374.3 599.3 379.9 600.1 385.4 600.9 390.6 601.6 395.5 602.4 400.1 603.2 404.5 604 408.4 604.8 412 605.5 415.2 606.3 418 607.1 420.3 607.1 425.2"/><path id="ce6" d="M357.8 425.2 357.8 293.8 358.5 289.6 359.3 285.7 360.1 282.2 360.9 279.2 361.7 276.5 362.4 274.3 363.2 272.5 364 271.2 364.8 270.4 365.6 270 366.3 270.1 367.1 270.7 367.9 271.8 368.7 273.4 369.5 275.4 370.2 277.8 371 280.7 371.8 284 372.6 287.6 373.4 291.7 374.1 296.1 374.9 300.8 375.7 305.8 376.5 311 377.2 316.5 378 322.2 378.8 328 379.6 334 380.4 340 381.1 346.1 381.9 352.2 382.7 358.3 383.5 364.3 384.3 370.2 385 375.9 385.8 381.5 386.6 386.9 387.4 392 388.2 396.8 388.9 401.4 389.7 405.6 390.5 409.5 391.3 413 392.1 416 392.8 418.7 393.6 420.9 394.4 422.7 395.2 424 395.9 424.8 396.7 425.2 397.5 425.1 398.3 424.5 399.1 423.4 399.8 421.9 400.6 419.9 401.4 417.4 402.2 414.5 403 411.3 403.7 407.6 404.5 403.5 405.3 399.1 406.1 394.4 406.9 389.4 407.6 384.2 408.4 378.7 409.2 373 410 367.2 410.8 361.2 411.5 355.2 412.3 349.1 413.1 343 413.9 337 414.6 331 415.4 325.1 416.2 319.3 417 313.7 417.8 308.4 418.5 303.2 419.3 298.4 420.1 293.8 420.9 289.6 421.7 285.7 422.4 282.2 423.2 279.2 424 276.5 424.8 274.3 425.6 272.5 426.3 271.2 427.1 270.4 427.9 270 428.7 270.1 429.5 270.7 430.2 271.8 431 273.4 431.8 275.4 432.6 277.8 433.3 280.7 434.1 284 434.9 287.6 435.7 291.7 436.5 296.1 437.2 300.8 438 305.8 438.8 311 439.6 316.5 440.4 322.2 441.1 328 441.9 334 442.7 340 443.5 346.1 444.3 352.2 445 358.3 445.8 364.3 446.6 370.2 447.4 375.9 448.2 381.5 448.9 386.9 449.7 392 450.5 396.8 451.3 401.4 452 405.6 452.8 409.5 453.6 413 454.4 416 455.2 418.7 455.9 420.9 456.7 422.7 457.5 424 458.3 424.8 459.1 425.2 459.8 425.1 460.6 424.5 461.4 423.4 462.2 421.9 463 419.9 463.7 417.4 464.5 414.5 465.3 411.3 466.1 407.6 466.8 403.5 467.6 399.1 468.4 394.4 469.2 389.4 470 384.2 470.7 378.7 471.5 373 472.3 367.2 473.1 361.2 473.9 355.2 474.6 349.1 475.4 343 476.2 337 477 331 477.8 325.1 478.5 319.3 479.3 313.7 480.1 308.4 480.9 303.2 481.7 298.4 482.4 293.8 483.2 289.6 484 285.7 484.8 282.2 485.5 279.2 486.3 276.5 487.1 274.3 487.9 272.5 488.7 271.2 489.4 270.4 490.2 270 491 270.1 491.8 270.7 492.6 271.8 493.3 273.4 494.1 275.4 494.9 277.8 495.7 280.7 496.5 284 497.2 287.6 498 291.7 498.8 296.1 499.6 300.8 500.4 305.8 501.1 311 501.9 316.5 502.7 322.2 503.5 328 504.2 334 505 340 505.8 346.1 506.6 352.2 507.4 358.3 508.1 364.3 508.9 370.2 509.7 375.9 510.5 381.5 511.3 386.9 512 392 512.8 396.8 513.6 401.4 514.4 405.6 515.2 409.5 515.9 413 516.7 416 517.5 418.7 518.3 420.9 519.1 422.7 519.8 424 520.6 424.8 521.4 425.2 522.2 425.1 522.9 424.5 523.7 423.4 524.5 421.9 525.3 419.9 526.1 417.4 526.8 414.5 527.6 411.3 528.4 407.6 529.2 403.5 530 399.1 530.7 394.4 531.5 389.4 532.3 384.2 533.1 378.7 533.9 373 534.6 367.2 535.4 361.2 536.2 355.2 537 349.1 537.8 343 538.5 337 539.3 331 540.1 325.1 540.9 319.3 541.6 313.7 542.4 308.4 543.2 303.2 544 298.4 544.8 293.8 545.5 289.6 546.3 285.7 547.1 282.2 547.9 279.2 548.7 276.5 549.4 274.3 550.2 272.5 551 271.2 551.8 270.4 552.6 270 553.3 270.1 554.1 270.7 554.9 271.8 555.7 273.4 556.5 275.4 557.2 277.8 558 280.7 558.8 284 559.6 287.6 560.3 291.7 561.1 296.1 561.9 300.8 562.7 305.8 563.5 311 564.2 316.5 565 322.2 565.8 328 566.6 334 567.4 340 568.1 346.1 568.9 352.2 569.7 358.3 570.5 364.3 571.3 370.2 572 375.9 572.8 381.5 573.6 386.9 574.4 392 575.1 396.8 575.9 401.4 576.7 405.6 577.5 409.5 578.3 413 579 416 579.8 418.7 580.6 420.9 581.4 422.7 582.2 424 582.9 424.8 583.7 425.2 584.5 425.1 585.3 424.5 586.1 423.4 586.8 421.9 587.6 419.9 588.4 417.4 589.2 414.5 590 411.3 590.7 407.6 591.5 403.5 592.3 399.1 593.1 394.4 593.8 389.4 594.6 384.2 595.4 378.7 596.2 373 597 367.2 597.7 361.2 598.5 355.2 599.3 349.1 600.1 343 600.9 337 601.6 331 602.4 325.1 603.2 319.3 604 313.7 604.8 308.4 605.5 303.2 606.3 298.4 607.1 293.8 607.1 425.2"/><path id="ce7" d="M357.8 425.2 357.8 371.8 358.5 377.5 359.3 383 360.1 388.3 360.9 393.4 361.7 398.2 362.4 402.6 363.2 406.8 364 410.5 364.8 413.9 365.6 416.8 366.3 419.4 367.1 421.5 367.9 423.1 368.7 424.3 369.5 425 370.2 425.2 371 424.9 371.8 424.2 372.6 423 373.4 421.3 374.1 419.2 374.9 416.6 375.7 413.6 376.5 410.2 377.2 406.5 378 402.3 378.8 397.8 379.6 393 380.4 387.9 381.1 382.6 381.9 377.1 382.7 371.4 383.5 365.5 384.3 359.5 385 353.5 385.8 347.4 386.6 341.3 387.4 335.2 388.2 329.3 388.9 323.4 389.7 317.7 390.5 312.2 391.3 306.9 392.1 301.8 392.8 297 393.6 292.6 394.4 288.5 395.2 284.7 395.9 281.3 396.7 278.4 397.5 275.8 398.3 273.7 399.1 272.1 399.8 270.9 400.6 270.2 401.4 270 402.2 270.3 403 271 403.7 272.2 404.5 273.9 405.3 276 406.1 278.6 406.9 281.6 407.6 285 408.4 288.8 409.2 292.9 410 297.4 410.8 302.2 411.5 307.3 412.3 312.6 413.1 318.1 413.9 323.9 414.6 329.7 415.4 335.7 416.2 341.8 417 347.8 417.8 353.9 418.5 360 419.3 365.9 420.1 371.8 420.9 377.5 421.7 383 422.4 388.3 423.2 393.4 424 398.2 424.8 402.6 425.6 406.8 426.3 410.5 427.1 413.9 427.9 416.8 428.7 419.4 429.5 421.5 430.2 423.1 431 424.3 431.8 425 432.6 425.2 433.3 424.9 434.1 424.2 434.9 423 435.7 421.3 436.5 419.2 437.2 416.6 438 413.6 438.8 410.2 439.6 406.5 440.4 402.3 441.1 397.8 441.9 393 442.7 387.9 443.5 382.6 444.3 377.1 445 371.4 445.8 365.5 446.6 359.5 447.4 353.5 448.2 347.4 448.9 341.3 449.7 335.2 450.5 329.3 451.3 323.4 452 317.7 452.8 312.2 453.6 306.9 454.4 301.8 455.2 297 455.9 292.6 456.7 288.5 457.5 284.7 458.3 281.3 459.1 278.4 459.8 275.8 460.6 273.7 461.4 272.1 462.2 270.9 463 270.2 463.7 270 464.5 270.3 465.3 271 466.1 272.2 466.8 273.9 467.6 276 468.4 278.6 469.2 281.6 470 285 470.7 288.8 471.5 292.9 472.3 297.4 473.1 302.2 473.9 307.3 474.6 312.6 475.4 318.1 476.2 323.9 477 329.7 477.8 335.7 478.5 341.8 479.3 347.8 480.1 353.9 480.9 360 481.7 365.9 482.4 371.8 483.2 377.5 484 383 484.8 388.3 485.5 393.4 486.3 398.2 487.1 402.6 487.9 406.8 488.7 410.5 489.4 413.9 490.2 416.8 491 419.4 491.8 421.5 492.6 423.1 493.3 424.3 494.1 425 494.9 425.2 495.7 424.9 496.5 424.2 497.2 423 498 421.3 498.8 419.2 499.6 416.6 500.4 413.6 501.1 410.2 501.9 406.5 502.7 402.3 503.5 397.8 504.2 393 505 387.9 505.8 382.6 506.6 377.1 507.4 371.4 508.1 365.5 508.9 359.5 509.7 353.5 510.5 347.4 511.3 341.3 512 335.2 512.8 329.3 513.6 323.4 514.4 317.7 515.2 312.2 515.9 306.9 516.7 301.8 517.5 297 518.3 292.6 519.1 288.5 519.8 284.7 520.6 281.3 521.4 278.4 522.2 275.8 522.9 273.7 523.7 272.1 524.5 270.9 525.3 270.2 526.1 270 526.8 270.3 527.6 271 528.4 272.2 529.2 273.9 530 276 530.7 278.6 531.5 281.6 532.3 285 533.1 288.8 533.9 292.9 534.6 297.4 535.4 302.2 536.2 307.3 537 312.6 537.8 318.1 538.5 323.9 539.3 329.7 540.1 335.7 540.9 341.8 541.6 347.8 542.4 353.9 543.2 360 544 365.9 544.8 371.8 545.5 377.5 546.3 383 547.1 388.3 547.9 393.4 548.7 398.2 549.4 402.6 550.2 406.8 551 410.5 551.8 413.9 552.6 416.8 553.3 419.4 554.1 421.5 554.9 423.1 555.7 424.3 556.5 425 557.2 425.2 558 424.9 558.8 424.2 559.6 423 560.3 421.3 561.1 419.2 561.9 416.6 562.7 413.6 563.5 410.2 564.2 406.5 565 402.3 565.8 397.8 566.6 393 567.4 387.9 568.1 382.6 568.9 377.1 569.7 371.4 570.5 365.5 571.3 359.5 572 353.5 572.8 347.4 573.6 341.3 574.4 335.2 575.1 329.3 575.9 323.4 576.7 317.7 577.5 312.2 578.3 306.9 579 301.8 579.8 297 580.6 292.6 581.4 288.5 582.2 284.7 582.9 281.3 583.7 278.4 584.5 275.8 585.3 273.7 586.1 272.1 586.8 270.9 587.6 270.2 588.4 270 589.2 270.3 590 271 590.7 272.2 591.5 273.9 592.3 276 593.1 278.6 593.8 281.6 594.6 285 595.4 288.8 596.2 292.9 597 297.4 597.7 302.2 598.5 307.3 599.3 312.6 600.1 318.1 600.9 323.9 601.6 329.7 602.4 335.7 603.2 341.8 604 347.8 604.8 353.9 605.5 360 606.3 365.9 607.1 371.8 607.1 425.2"/><path id="ce8" d="M357.8 425.2 357.8 367.4 358.5 361.4 359.3 355.4 360.1 349.3 360.9 343.2 361.7 337.1 362.4 331.1 363.2 325.2 364 319.5 364.8 313.9 365.6 308.5 366.3 303.4 367.1 298.5 367.9 293.9 368.7 289.7 369.5 285.8 370.2 282.3 371 279.3 371.8 276.6 372.6 274.3 373.4 272.6 374.1 271.2 374.9 270.4 375.7 270 376.5 270.1 377.2 270.7 378 271.8 378.8 273.3 379.6 275.3 380.4 277.7 381.1 280.6 381.9 283.9 382.7 287.5 383.5 291.6 384.3 295.9 385 300.6 385.8 305.6 386.6 310.9 387.4 316.4 388.2 322 388.9 327.9 389.7 333.8 390.5 339.8 391.3 345.9 392.1 352 392.8 358.1 393.6 364.1 394.4 370 395.2 375.7 395.9 381.3 396.7 386.7 397.5 391.8 398.3 396.7 399.1 401.3 399.8 405.5 400.6 409.4 401.4 412.9 402.2 416 403 418.6 403.7 420.9 404.5 422.6 405.3 424 406.1 424.8 406.9 425.2 407.6 425.1 408.4 424.5 409.2 423.4 410 421.9 410.8 419.9 411.5 417.5 412.3 414.6 413.1 411.4 413.9 407.7 414.6 403.7 415.4 399.3 416.2 394.6 417 389.6 417.8 384.3 418.5 378.9 419.3 373.2 420.1 367.4 420.9 361.4 421.7 355.4 422.4 349.3 423.2 343.2 424 337.1 424.8 331.1 425.6 325.2 426.3 319.5 427.1 313.9 427.9 308.5 428.7 303.4 429.5 298.5 430.2 293.9 431 289.7 431.8 285.8 432.6 282.3 433.3 279.3 434.1 276.6 434.9 274.3 435.7 272.6 436.5 271.2 437.2 270.4 438 270 438.8 270.1 439.6 270.7 440.4 271.8 441.1 273.3 441.9 275.3 442.7 277.7 443.5 280.6 444.3 283.9 445 287.5 445.8 291.6 446.6 295.9 447.4 300.6 448.2 305.6 448.9 310.9 449.7 316.4 450.5 322 451.3 327.9 452 333.8 452.8 339.8 453.6 345.9 454.4 352 455.2 358.1 455.9 364.1 456.7 370 457.5 375.7 458.3 381.3 459.1 386.7 459.8 391.8 460.6 396.7 461.4 401.3 462.2 405.5 463 409.4 463.7 412.9 464.5 416 465.3 418.6 466.1 420.9 466.8 422.6 467.6 424 468.4 424.8 469.2 425.2 470 425.1 470.7 424.5 471.5 423.4 472.3 421.9 473.1 419.9 473.9 417.5 474.6 414.6 475.4 411.4 476.2 407.7 477 403.7 477.8 399.3 478.5 394.6 479.3 389.6 480.1 384.3 480.9 378.9 481.7 373.2 482.4 367.4 483.2 361.4 484 355.4 484.8 349.3 485.5 343.2 486.3 337.1 487.1 331.1 487.9 325.2 488.7 319.5 489.4 313.9 490.2 308.5 491 303.4 491.8 298.5 492.6 293.9 493.3 289.7 494.1 285.8 494.9 282.3 495.7 279.3 496.5 276.6 497.2 274.3 498 272.6 498.8 271.2 499.6 270.4 500.4 270 501.1 270.1 501.9 270.7 502.7 271.8 503.5 273.3 504.2 275.3 505 277.7 505.8 280.6 506.6 283.9 507.4 287.5 508.1 291.6 508.9 295.9 509.7 300.6 510.5 305.6 511.3 310.9 512 316.4 512.8 322 513.6 327.9 514.4 333.8 515.2 339.8 515.9 345.9 516.7 352 517.5 358.1 518.3 364.1 519.1 370 519.8 375.7 520.6 381.3 521.4 386.7 522.2 391.8 522.9 396.7 523.7 401.3 524.5 405.5 525.3 409.4 526.1 412.9 526.8 416 527.6 418.6 528.4 420.9 529.2 422.6 530 424 530.7 424.8 531.5 425.2 532.3 425.1 533.1 424.5 533.9 423.4 534.6 421.9 535.4 419.9 536.2 417.5 537 414.6 537.8 411.4 538.5 407.7 539.3 403.7 540.1 399.3 540.9 394.6 541.6 389.6 542.4 384.3 543.2 378.9 544 373.2 544.8 367.4 545.5 361.4 546.3 355.4 547.1 349.3 547.9 343.2 548.7 337.1 549.4 331.1 550.2 325.2 551 319.5 551.8 313.9 552.6 308.5 553.3 303.4 554.1 298.5 554.9 293.9 555.7 289.7 556.5 285.8 557.2 282.3 558 279.3 558.8 276.6 559.6 274.3 560.3 272.6 561.1 271.2 561.9 270.4 562.7 270 563.5 270.1 564.2 270.7 565 271.8 565.8 273.3 566.6 275.3 567.4 277.7 568.1 280.6 568.9 283.9 569.7 287.5 570.5 291.6 571.3 295.9 572 300.6 572.8 305.6 573.6 310.9 574.4 316.4 575.1 322 575.9 327.9 576.7 333.8 577.5 339.8 578.3 345.9 579 352 579.8 358.1 580.6 364.1 581.4 370 582.2 375.7 582.9 381.3 583.7 386.7 584.5 391.8 585.3 396.7 586.1 401.3 586.8 405.5 587.6 409.4 588.4 412.9 589.2 416 590 418.6 590.7 420.9 591.5 422.6 592.3 424 593.1 424.8 593.8 425.2 594.6 425.1 595.4 424.5 596.2 423.4 597 421.9 597.7 419.9 598.5 417.5 599.3 414.6 600.1 411.4 600.9 407.7 601.6 403.7 602.4 399.3 603.2 394.6 604 389.6 604.8 384.3 605.5 378.9 606.3 373.2 607.1 367.4 607.1 425.2"/></defs>
<use href="#ce0" fill="#5E81B5" fill-opacity="0.2" stroke="none"/>
<use href="#ce1" fill="#E19C24" fill-opacity="0.2" stroke="none"/>
<use href="#ce2" fill="#8FB032" fill-opacity="0.2" stroke="none"/>
<use href="#ce3" fill="#EB6235" fill-opacity="0.2" stroke="none"/>
<use href="#ce4" fill="#8778B3" fill-opacity="0.2" stroke="none"/>
<use href="#ce5" fill="#C56E1A" fill-opacity="0.2" stroke="none"/>
<use href="#ce6" fill="#5D9EC7" fill-opacity="0.2" stroke="none"/>
<use href="#ce7" fill="#FFBF00" fill-opacity="0.2" stroke="none"/>
<use href="#ce8" fill="#A5609D" fill-opacity="0.2" stroke="none"/>
<use href="#ce0" fill="none" stroke="#5E81B5" stroke-width="2.1" stroke-dasharray="10 6.3"/>
<use href="#ce1" fill="none" stroke="#E19C24" stroke-width="1.4"/>
<use href="#ce2" fill="none" stroke="#8FB032" stroke-width="2.1" stroke-dasharray="10 6.3"/>
<use href="#ce3" fill="none" stroke="#EB6235" stroke-width="1.4"/>
<use href="#ce4" fill="none" stroke="#8778B3" stroke-width="2.1" stroke-dasharray="10 6.3"/>
<use href="#ce5" fill="none" stroke="#C56E1A" stroke-width="1.4"/>
<use href="#ce6" fill="none" stroke="#5D9EC7" stroke-width="2.1" stroke-dasharray="10 6.3"/>
<use href="#ce7" fill="none" stroke="#FFBF00" stroke-width="1.4"/>
<use href="#ce8" fill="none" stroke="#A5609D" stroke-width="1.4"/>
</g></g>
<path d="M264.8 434.6 v-2.0 M264.8 261.1 v2.0 M274.0 434.6 v-2.0 M274.0 261.1 v2.0 M283.2 434.6 v-3.0 M283.2 261.1 v3.0 M292.4 434.6 v-2.0 M292.4 261.1 v2.0 M301.6 434.6 v-2.0 M301.6 261.1 v2.0 M310.9 434.6 v-2.0 M310.9 261.1 v2.0 M320.1 434.6 v-3.0 M320.1 261.1 v3.0 M329.3 434.6 v-2.0 M329.3 261.1 v2.0 M338.6 434.6 v-2.0 M338.6 261.1 v2.0 M347.8 434.6 v-2.0 M347.8 261.1 v2.0 M357.0 434.6 v-3.0 M357.0 261.1 v3.0 M366.2 434.6 v-2.0 M366.2 261.1 v2.0 M375.4 434.6 v-2.0 M375.4 261.1 v2.0 M384.7 434.6 v-2.0 M384.7 261.1 v2.0 M393.9 434.6 v-3.0 M393.9 261.1 v3.0 M403.1 434.6 v-2.0 M403.1 261.1 v2.0 M412.4 434.6 v-2.0 M412.4 261.1 v2.0 M421.6 434.6 v-2.0 M421.6 261.1 v2.0 M430.8 434.6 v-3.0 M430.8 261.1 v3.0 M440.0 434.6 v-2.0 M440.0 261.1 v2.0 M449.2 434.6 v-2.0 M449.2 261.1 v2.0 M261.3 425.2 h3.0 M453.1 425.2 h-3.0 M261.3 417.1 h2.0 M453.1 417.1 h-2.0 M261.3 408.9 h2.0 M453.1 408.9 h-2.0 M261.3 400.8 h2.0 M453.1 400.8 h-2.0 M261.3 392.7 h3.0 M453.1 392.7 h-3.0 M261.3 384.6 h2.0 M453.1 384.6 h-2.0 M261.3 376.4 h2.0 M453.1 376.4 h-2.0 M261.3 368.3 h2.0 M453.1 368.3 h-2.0 M261.3 360.2 h3.0 M453.1 360.2 h-3.0 M261.3 352.1 h2.0 M453.1 352.1 h-2.0 M261.3 343.9 h2.0 M453.1 343.9 h-2.0 M261.3 335.8 h2.0 M453.1 335.8 h-2.0 M261.3 327.7 h3.0 M453.1 327.7 h-3.0 M261.3 319.6 h2.0 M453.1 319.6 h-2.0 M261.3 311.4 h2.0 M453.1 311.4 h-2.0 M261.3 303.3 h2.0 M453.1 303.3 h-2.0 M261.3 295.2 h3.0 M453.1 295.2 h-3.0 M261.3 287.1 h2.0 M453.1 287.1 h-2.0 M261.3 278.9 h2.0 M453.1 278.9 h-2.0 M261.3 270.8 h2.0 M453.1 270.8 h-2.0" stroke="#000" stroke-width="0.9" fill="none"/>
<rect x="261.3" y="261.1" width="191.8" height="173.5" fill="none" stroke="#000" stroke-width="2.1"/>
<text transform="translate(258.6 429.7) scale(0.78 1)" text-anchor="end" class="tk">0</text>
<text transform="translate(258.6 397.2) scale(0.78 1)" text-anchor="end" class="tk">2</text>
<text transform="translate(258.6 364.7) scale(0.78 1)" text-anchor="end" class="tk">4</text>
<text transform="translate(258.6 332.2) scale(0.78 1)" text-anchor="end" class="tk">6</text>
<text transform="translate(258.6 299.7) scale(0.78 1)" text-anchor="end" class="tk">8</text>
<text transform="translate(282.0 450.0) scale(0.78 1)" text-anchor="middle" class="tk">−4</text>
<text transform="translate(318.9 450.0) scale(0.78 1)" text-anchor="middle" class="tk">−2</text>
<text transform="translate(357.0 450.0) scale(0.78 1)" text-anchor="middle" class="tk">0</text>
<text transform="translate(393.9 450.0) scale(0.78 1)" text-anchor="middle" class="tk">2</text>
<text transform="translate(430.8 450.0) scale(0.78 1)" text-anchor="middle" class="tk">4</text>
<text transform="translate(246.5 347.0) rotate(-90) scale(1 0.74)" text-anchor="middle" class="yl"><tspan font-style="italic">U</tspan><tspan font-size="5.5" dy="1.6">3</tspan><tspan dy="-1.6">(x,t)</tspan></text>
<text transform="translate(357.0 472.0) scale(0.74 1)" text-anchor="middle" class="xl">x</text>
<clipPath id="cf"><rect x="494.8" y="261.1" width="179.2" height="171.4"/></clipPath>
<g clip-path="url(#cf)"><g transform="scale(0.74 1)">
<defs><path id="cf0" d="M668.1 424.8 668.1 424.6 669.1 423.5 670.1 421.7 671.1 419 672.2 415.5 673.2 411.3 674.2 406.3 675.2 400.7 676.2 394.6 677.2 387.9 678.2 380.7 679.3 373.2 680.3 365.4 681.3 357.4 682.3 349.3 683.3 341.2 684.3 333.1 685.3 325.2 686.4 317.5 687.4 310.2 688.4 303.2 689.4 296.7 690.4 290.8 691.4 285.5 692.4 280.9 693.4 277 694.5 273.9 695.5 271.5 696.5 270 697.5 269.3 698.5 269.5 699.5 270.6 700.5 272.4 701.6 275.1 702.6 278.6 703.6 282.8 704.6 287.8 705.6 293.4 706.6 299.5 707.6 306.2 708.6 313.4 709.7 320.9 710.7 328.7 711.7 336.7 712.7 344.8 713.7 352.9 714.7 361 715.7 368.9 716.8 376.6 717.8 383.9 718.8 390.9 719.8 397.4 720.8 403.3 721.8 408.6 722.8 413.2 723.9 417.1 724.9 420.3 725.9 422.6 726.9 424.1 727.9 424.8 728.9 424.6 729.9 423.5 730.9 421.7 732 419 733 415.5 734 411.3 735 406.3 736 400.7 737 394.6 738 387.9 739.1 380.7 740.1 373.2 741.1 365.4 742.1 357.4 743.1 349.3 744.1 341.2 745.1 333.1 746.1 325.2 747.2 317.5 748.2 310.2 749.2 303.2 750.2 296.7 751.2 290.8 752.2 285.5 753.2 280.9 754.3 277 755.3 273.9 756.3 271.5 757.3 270 758.3 269.3 759.3 269.5 760.3 270.6 761.4 272.4 762.4 275.1 763.4 278.6 764.4 282.8 765.4 287.8 766.4 293.4 767.4 299.5 768.4 306.2 769.5 313.4 770.5 320.9 771.5 328.7 772.5 336.7 773.5 344.8 774.5 352.9 775.5 361 776.6 368.9 777.6 376.6 778.6 383.9 779.6 390.9 780.6 397.4 781.6 403.3 782.6 408.6 783.6 413.2 784.7 417.1 785.7 420.3 786.7 422.6 787.7 424.1 788.7 424.8 789.7 424.6 790.7 423.5 791.8 421.7 792.8 419 793.8 415.5 794.8 411.3 795.8 406.3 796.8 400.7 797.8 394.6 798.9 387.9 799.9 380.7 800.9 373.2 801.9 365.4 802.9 357.4 803.9 349.3 804.9 341.2 805.9 333.1 807 325.2 808 317.5 809 310.2 810 303.2 811 296.7 812 290.8 813 285.5 814.1 280.9 815.1 277 816.1 273.9 817.1 271.5 818.1 270 819.1 269.3 820.1 269.5 821.1 270.6 822.2 272.4 823.2 275.1 824.2 278.6 825.2 282.8 826.2 287.8 827.2 293.4 828.2 299.5 829.3 306.2 830.3 313.4 831.3 320.9 832.3 328.7 833.3 336.7 834.3 344.8 835.3 352.9 836.4 361 837.4 368.9 838.4 376.6 839.4 383.9 840.4 390.9 841.4 397.4 842.4 403.3 843.4 408.6 844.5 413.2 845.5 417.1 846.5 420.3 847.5 422.6 848.5 424.1 849.5 424.8 850.5 424.6 851.6 423.5 852.6 421.7 853.6 419 854.6 415.5 855.6 411.3 856.6 406.3 857.6 400.7 858.6 394.6 859.7 387.9 860.7 380.7 861.7 373.2 862.7 365.4 863.7 357.4 864.7 349.3 865.7 341.2 866.8 333.1 867.8 325.2 868.8 317.5 869.8 310.2 870.8 303.2 871.8 296.7 872.8 290.8 873.9 285.5 874.9 280.9 875.9 277 876.9 273.9 877.9 271.5 878.9 270 879.9 269.3 880.9 269.5 882 270.6 883 272.4 884 275.1 885 278.6 886 282.8 887 287.8 888 293.4 889.1 299.5 890.1 306.2 891.1 313.4 892.1 320.9 893.1 328.7 894.1 336.7 895.1 344.8 896.1 352.9 897.2 361 898.2 368.9 899.2 376.6 900.2 383.9 901.2 390.9 902.2 397.4 903.2 403.3 904.3 408.6 905.3 413.2 906.3 417.1 907.3 420.3 908.3 422.6 909.3 424.1 910.3 424.8 911.4 424.6 911.4 424.8"/><path id="cf1" d="M668.1 424.8 668.1 424.6 669.1 424.8 670.1 424.1 671.1 422.7 672.2 420.4 673.2 417.4 674.2 413.7 675.2 409.3 676.2 404.2 677.2 398.5 678.2 392.3 679.3 385.6 680.3 378.6 681.3 371.2 682.3 363.6 683.3 355.9 684.3 348.1 685.3 340.3 686.4 332.6 687.4 325.1 688.4 317.9 689.4 311.1 690.4 304.7 691.4 298.8 692.4 293.4 693.4 288.7 694.5 284.6 695.5 281.3 696.5 278.7 697.5 276.9 698.5 275.9 699.5 275.7 700.5 276.4 701.6 277.8 702.6 280.1 703.6 283.1 704.6 286.8 705.6 291.2 706.6 296.3 707.6 302 708.6 308.2 709.7 314.9 710.7 321.9 711.7 329.3 712.7 336.9 713.7 344.6 714.7 352.4 715.7 360.2 716.8 367.9 717.8 375.4 718.8 382.6 719.8 389.4 720.8 395.8 721.8 401.7 722.8 407.1 723.9 411.8 724.9 415.9 725.9 419.2 726.9 421.8 727.9 423.6 728.9 424.6 729.9 424.8 730.9 424.1 732 422.7 733 420.4 734 417.4 735 413.7 736 409.3 737 404.2 738 398.5 739.1 392.3 740.1 385.6 741.1 378.6 742.1 371.2 743.1 363.6 744.1 355.9 745.1 348.1 746.1 340.3 747.2 332.6 748.2 325.1 749.2 317.9 750.2 311.1 751.2 304.7 752.2 298.8 753.2 293.4 754.3 288.7 755.3 284.6 756.3 281.3 757.3 278.7 758.3 276.9 759.3 275.9 760.3 275.7 761.4 276.4 762.4 277.8 763.4 280.1 764.4 283.1 765.4 286.8 766.4 291.2 767.4 296.3 768.4 302 769.5 308.2 770.5 314.9 771.5 321.9 772.5 329.3 773.5 336.9 774.5 344.6 775.5 352.4 776.6 360.2 777.6 367.9 778.6 375.4 779.6 382.6 780.6 389.4 781.6 395.8 782.6 401.7 783.6 407.1 784.7 411.8 785.7 415.9 786.7 419.2 787.7 421.8 788.7 423.6 789.7 424.6 790.7 424.8 791.8 424.1 792.8 422.7 793.8 420.4 794.8 417.4 795.8 413.7 796.8 409.3 797.8 404.2 798.9 398.5 799.9 392.3 800.9 385.6 801.9 378.6 802.9 371.2 803.9 363.6 804.9 355.9 805.9 348.1 807 340.3 808 332.6 809 325.1 810 317.9 811 311.1 812 304.7 813 298.8 814.1 293.4 815.1 288.7 816.1 284.6 817.1 281.3 818.1 278.7 819.1 276.9 820.1 275.9 821.1 275.7 822.2 276.4 823.2 277.8 824.2 280.1 825.2 283.1 826.2 286.8 827.2 291.2 828.2 296.3 829.3 302 830.3 308.2 831.3 314.9 832.3 321.9 833.3 329.3 834.3 336.9 835.3 344.6 836.4 352.4 837.4 360.2 838.4 367.9 839.4 375.4 840.4 382.6 841.4 389.4 842.4 395.8 843.4 401.7 844.5 407.1 845.5 411.8 846.5 415.9 847.5 419.2 848.5 421.8 849.5 423.6 850.5 424.6 851.6 424.8 852.6 424.1 853.6 422.7 854.6 420.4 855.6 417.4 856.6 413.7 857.6 409.3 858.6 404.2 859.7 398.5 860.7 392.3 861.7 385.6 862.7 378.6 863.7 371.2 864.7 363.6 865.7 355.9 866.8 348.1 867.8 340.3 868.8 332.6 869.8 325.1 870.8 317.9 871.8 311.1 872.8 304.7 873.9 298.8 874.9 293.4 875.9 288.7 876.9 284.6 877.9 281.3 878.9 278.7 879.9 276.9 880.9 275.9 882 275.7 883 276.4 884 277.8 885 280.1 886 283.1 887 286.8 888 291.2 889.1 296.3 890.1 302 891.1 308.2 892.1 314.9 893.1 321.9 894.1 329.3 895.1 336.9 896.1 344.6 897.2 352.4 898.2 360.2 899.2 367.9 900.2 375.4 901.2 382.6 902.2 389.4 903.2 395.8 904.3 401.7 905.3 407.1 906.3 411.8 907.3 415.9 908.3 419.2 909.3 421.8 910.3 423.6 911.4 424.6 911.4 424.8"/><path id="cf2" d="M668.1 424.8 668.1 423.4 669.1 424.5 670.1 424.8 671.1 424.4 672.2 423.2 673.2 421.2 674.2 418.6 675.2 415.2 676.2 411.2 677.2 406.6 678.2 401.5 679.3 395.8 680.3 389.7 681.3 383.2 682.3 376.4 683.3 369.4 684.3 362.2 685.3 355 686.4 347.8 687.4 340.6 688.4 333.6 689.4 326.9 690.4 320.5 691.4 314.4 692.4 308.8 693.4 303.7 694.5 299.2 695.5 295.3 696.5 292.1 697.5 289.6 698.5 287.7 699.5 286.7 700.5 286.4 701.6 286.8 702.6 288 703.6 289.9 704.6 292.6 705.6 295.9 706.6 299.9 707.6 304.5 708.6 309.7 709.7 315.4 710.7 321.5 711.7 327.9 712.7 334.7 713.7 341.8 714.7 348.9 715.7 356.2 716.8 363.4 717.8 370.5 718.8 377.5 719.8 384.3 720.8 390.7 721.8 396.7 722.8 402.3 723.9 407.4 724.9 411.9 725.9 415.8 726.9 419 727.9 421.6 728.9 423.4 729.9 424.5 730.9 424.8 732 424.4 733 423.2 734 421.2 735 418.6 736 415.2 737 411.2 738 406.6 739.1 401.5 740.1 395.8 741.1 389.7 742.1 383.2 743.1 376.4 744.1 369.4 745.1 362.2 746.1 355 747.2 347.8 748.2 340.6 749.2 333.6 750.2 326.9 751.2 320.5 752.2 314.4 753.2 308.8 754.3 303.7 755.3 299.2 756.3 295.3 757.3 292.1 758.3 289.6 759.3 287.7 760.3 286.7 761.4 286.4 762.4 286.8 763.4 288 764.4 289.9 765.4 292.6 766.4 295.9 767.4 299.9 768.4 304.5 769.5 309.7 770.5 315.4 771.5 321.5 772.5 327.9 773.5 334.7 774.5 341.8 775.5 348.9 776.6 356.2 777.6 363.4 778.6 370.5 779.6 377.5 780.6 384.3 781.6 390.7 782.6 396.7 783.6 402.3 784.7 407.4 785.7 411.9 786.7 415.8 787.7 419 788.7 421.6 789.7 423.4 790.7 424.5 791.8 424.8 792.8 424.4 793.8 423.2 794.8 421.2 795.8 418.6 796.8 415.2 797.8 411.2 798.9 406.6 799.9 401.5 800.9 395.8 801.9 389.7 802.9 383.2 803.9 376.4 804.9 369.4 805.9 362.2 807 355 808 347.8 809 340.6 810 333.6 811 326.9 812 320.5 813 314.4 814.1 308.8 815.1 303.7 816.1 299.2 817.1 295.3 818.1 292.1 819.1 289.6 820.1 287.7 821.1 286.7 822.2 286.4 823.2 286.8 824.2 288 825.2 289.9 826.2 292.6 827.2 295.9 828.2 299.9 829.3 304.5 830.3 309.7 831.3 315.4 832.3 321.5 833.3 327.9 834.3 334.7 835.3 341.8 836.4 348.9 837.4 356.2 838.4 363.4 839.4 370.5 840.4 377.5 841.4 384.3 842.4 390.7 843.4 396.7 844.5 402.3 845.5 407.4 846.5 411.9 847.5 415.8 848.5 419 849.5 421.6 850.5 423.4 851.6 424.5 852.6 424.8 853.6 424.4 854.6 423.2 855.6 421.2 856.6 418.6 857.6 415.2 858.6 411.2 859.7 406.6 860.7 401.5 861.7 395.8 862.7 389.7 863.7 383.2 864.7 376.4 865.7 369.4 866.8 362.2 867.8 355 868.8 347.8 869.8 340.6 870.8 333.6 871.8 326.9 872.8 320.5 873.9 314.4 874.9 308.8 875.9 303.7 876.9 299.2 877.9 295.3 878.9 292.1 879.9 289.6 880.9 287.7 882 286.7 883 286.4 884 286.8 885 288 886 289.9 887 292.6 888 295.9 889.1 299.9 890.1 304.5 891.1 309.7 892.1 315.4 893.1 321.5 894.1 327.9 895.1 334.7 896.1 341.8 897.2 348.9 898.2 356.2 899.2 363.4 900.2 370.5 901.2 377.5 902.2 384.3 903.2 390.7 904.3 396.7 905.3 402.3 906.3 407.4 907.3 411.9 908.3 415.8 909.3 419 910.3 421.6 911.4 423.4 911.4 424.8"/><path id="cf3" d="M668.1 424.8 668.1 419.2 669.1 421.6 670.1 423.3 671.1 424.4 672.2 424.8 673.2 424.5 674.2 423.5 675.2 421.9 676.2 419.6 677.2 416.7 678.2 413.2 679.3 409.1 680.3 404.5 681.3 399.5 682.3 394 683.3 388.3 684.3 382.2 685.3 375.9 686.4 369.4 687.4 362.9 688.4 356.4 689.4 349.9 690.4 343.6 691.4 337.5 692.4 331.6 693.4 326.1 694.5 321 695.5 316.4 696.5 312.2 697.5 308.6 698.5 305.6 699.5 303.2 700.5 301.5 701.6 300.4 702.6 300 703.6 300.3 704.6 301.2 705.6 302.9 706.6 305.2 707.6 308.1 708.6 311.6 709.7 315.7 710.7 320.2 711.7 325.3 712.7 330.7 713.7 336.5 714.7 342.6 715.7 348.9 716.8 355.3 717.8 361.9 718.8 368.4 719.8 374.9 720.8 381.2 721.8 387.3 722.8 393.1 723.9 398.6 724.9 403.8 725.9 408.4 726.9 412.6 727.9 416.2 728.9 419.2 729.9 421.6 730.9 423.3 732 424.4 733 424.8 734 424.5 735 423.5 736 421.9 737 419.6 738 416.7 739.1 413.2 740.1 409.1 741.1 404.5 742.1 399.5 743.1 394 744.1 388.3 745.1 382.2 746.1 375.9 747.2 369.4 748.2 362.9 749.2 356.4 750.2 349.9 751.2 343.6 752.2 337.5 753.2 331.6 754.3 326.1 755.3 321 756.3 316.4 757.3 312.2 758.3 308.6 759.3 305.6 760.3 303.2 761.4 301.5 762.4 300.4 763.4 300 764.4 300.3 765.4 301.2 766.4 302.9 767.4 305.2 768.4 308.1 769.5 311.6 770.5 315.7 771.5 320.2 772.5 325.3 773.5 330.7 774.5 336.5 775.5 342.6 776.6 348.9 777.6 355.3 778.6 361.9 779.6 368.4 780.6 374.9 781.6 381.2 782.6 387.3 783.6 393.1 784.7 398.6 785.7 403.8 786.7 408.4 787.7 412.6 788.7 416.2 789.7 419.2 790.7 421.6 791.8 423.3 792.8 424.4 793.8 424.8 794.8 424.5 795.8 423.5 796.8 421.9 797.8 419.6 798.9 416.7 799.9 413.2 800.9 409.1 801.9 404.5 802.9 399.5 803.9 394 804.9 388.3 805.9 382.2 807 375.9 808 369.4 809 362.9 810 356.4 811 349.9 812 343.6 813 337.5 814.1 331.6 815.1 326.1 816.1 321 817.1 316.4 818.1 312.2 819.1 308.6 820.1 305.6 821.1 303.2 822.2 301.5 823.2 300.4 824.2 300 825.2 300.3 826.2 301.2 827.2 302.9 828.2 305.2 829.3 308.1 830.3 311.6 831.3 315.7 832.3 320.2 833.3 325.3 834.3 330.7 835.3 336.5 836.4 342.6 837.4 348.9 838.4 355.3 839.4 361.9 840.4 368.4 841.4 374.9 842.4 381.2 843.4 387.3 844.5 393.1 845.5 398.6 846.5 403.8 847.5 408.4 848.5 412.6 849.5 416.2 850.5 419.2 851.6 421.6 852.6 423.3 853.6 424.4 854.6 424.8 855.6 424.5 856.6 423.5 857.6 421.9 858.6 419.6 859.7 416.7 860.7 413.2 861.7 409.1 862.7 404.5 863.7 399.5 864.7 394 865.7 388.3 866.8 382.2 867.8 375.9 868.8 369.4 869.8 362.9 870.8 356.4 871.8 349.9 872.8 343.6 873.9 337.5 874.9 331.6 875.9 326.1 876.9 321 877.9 316.4 878.9 312.2 879.9 308.6 880.9 305.6 882 303.2 883 301.5 884 300.4 885 300 886 300.3 887 301.2 888 302.9 889.1 305.2 890.1 308.1 891.1 311.6 892.1 315.7 893.1 320.2 894.1 325.3 895.1 330.7 896.1 336.5 897.2 342.6 898.2 348.9 899.2 355.3 900.2 361.9 901.2 368.4 902.2 374.9 903.2 381.2 904.3 387.3 905.3 393.1 906.3 398.6 907.3 403.8 908.3 408.4 909.3 412.6 910.3 416.2 911.4 419.2 911.4 424.8"/><path id="cf4" d="M668.1 424.8 668.1 384.3 669.1 384.4 670.1 384.8 671.1 385.3 672.2 386.1 673.2 387 674.2 388.2 675.2 389.5 676.2 391 677.2 392.7 678.2 394.4 679.3 396.3 680.3 398.3 681.3 400.4 682.3 402.4 683.3 404.6 684.3 406.7 685.3 408.8 686.4 410.8 687.4 412.8 688.4 414.7 689.4 416.5 690.4 418.1 691.4 419.6 692.4 420.9 693.4 422.1 694.5 423.1 695.5 423.8 696.5 424.4 697.5 424.7 698.5 424.8 699.5 424.7 700.5 424.4 701.6 423.8 702.6 423.1 703.6 422.1 704.6 420.9 705.6 419.6 706.6 418.1 707.6 416.5 708.6 414.7 709.7 412.8 710.7 410.8 711.7 408.8 712.7 406.7 713.7 404.6 714.7 402.4 715.7 400.4 716.8 398.3 717.8 396.3 718.8 394.4 719.8 392.7 720.8 391 721.8 389.5 722.8 388.2 723.9 387 724.9 386.1 725.9 385.3 726.9 384.8 727.9 384.4 728.9 384.3 729.9 384.4 730.9 384.8 732 385.3 733 386.1 734 387 735 388.2 736 389.5 737 391 738 392.7 739.1 394.4 740.1 396.3 741.1 398.3 742.1 400.4 743.1 402.4 744.1 404.6 745.1 406.7 746.1 408.8 747.2 410.8 748.2 412.8 749.2 414.7 750.2 416.5 751.2 418.1 752.2 419.6 753.2 420.9 754.3 422.1 755.3 423.1 756.3 423.8 757.3 424.4 758.3 424.7 759.3 424.8 760.3 424.7 761.4 424.4 762.4 423.8 763.4 423.1 764.4 422.1 765.4 420.9 766.4 419.6 767.4 418.1 768.4 416.5 769.5 414.7 770.5 412.8 771.5 410.8 772.5 408.8 773.5 406.7 774.5 404.6 775.5 402.4 776.6 400.4 777.6 398.3 778.6 396.3 779.6 394.4 780.6 392.7 781.6 391 782.6 389.5 783.6 388.2 784.7 387 785.7 386.1 786.7 385.3 787.7 384.8 788.7 384.4 789.7 384.3 790.7 384.4 791.8 384.8 792.8 385.3 793.8 386.1 794.8 387 795.8 388.2 796.8 389.5 797.8 391 798.9 392.7 799.9 394.4 800.9 396.3 801.9 398.3 802.9 400.4 803.9 402.4 804.9 404.6 805.9 406.7 807 408.8 808 410.8 809 412.8 810 414.7 811 416.5 812 418.1 813 419.6 814.1 420.9 815.1 422.1 816.1 423.1 817.1 423.8 818.1 424.4 819.1 424.7 820.1 424.8 821.1 424.7 822.2 424.4 823.2 423.8 824.2 423.1 825.2 422.1 826.2 420.9 827.2 419.6 828.2 418.1 829.3 416.5 830.3 414.7 831.3 412.8 832.3 410.8 833.3 408.8 834.3 406.7 835.3 404.6 836.4 402.4 837.4 400.4 838.4 398.3 839.4 396.3 840.4 394.4 841.4 392.7 842.4 391 843.4 389.5 844.5 388.2 845.5 387 846.5 386.1 847.5 385.3 848.5 384.8 849.5 384.4 850.5 384.3 851.6 384.4 852.6 384.8 853.6 385.3 854.6 386.1 855.6 387 856.6 388.2 857.6 389.5 858.6 391 859.7 392.7 860.7 394.4 861.7 396.3 862.7 398.3 863.7 400.4 864.7 402.4 865.7 404.6 866.8 406.7 867.8 408.8 868.8 410.8 869.8 412.8 870.8 414.7 871.8 416.5 872.8 418.1 873.9 419.6 874.9 420.9 875.9 422.1 876.9 423.1 877.9 423.8 878.9 424.4 879.9 424.7 880.9 424.8 882 424.7 883 424.4 884 423.8 885 423.1 886 422.1 887 420.9 888 419.6 889.1 418.1 890.1 416.5 891.1 414.7 892.1 412.8 893.1 410.8 894.1 408.8 895.1 406.7 896.1 404.6 897.2 402.4 898.2 400.4 899.2 398.3 900.2 396.3 901.2 394.4 902.2 392.7 903.2 391 904.3 389.5 905.3 388.2 906.3 387 907.3 386.1 908.3 385.3 909.3 384.8 910.3 384.4 911.4 384.3 911.4 424.8"/><path id="cf5" d="M668.1 424.8 668.1 423.9 669.1 424.4 670.1 424.7 671.1 424.8 672.2 424.7 673.2 424.3 674.2 423.7 675.2 422.9 676.2 422 677.2 420.8 678.2 419.4 679.3 417.9 680.3 416.3 681.3 414.5 682.3 412.6 683.3 410.6 684.3 408.5 685.3 406.4 686.4 404.3 687.4 402.2 688.4 400.1 689.4 398.1 690.4 396.1 691.4 394.2 692.4 392.5 693.4 390.8 694.5 389.4 695.5 388 696.5 386.9 697.5 386 698.5 385.2 699.5 384.7 700.5 384.4 701.6 384.3 702.6 384.5 703.6 384.8 704.6 385.4 705.6 386.2 706.6 387.2 707.6 388.3 708.6 389.7 709.7 391.2 710.7 392.9 711.7 394.7 712.7 396.6 713.7 398.6 714.7 400.6 715.7 402.7 716.8 404.8 717.8 406.9 718.8 409 719.8 411.1 720.8 413 721.8 414.9 722.8 416.7 723.9 418.3 724.9 419.8 725.9 421.1 726.9 422.2 727.9 423.2 728.9 423.9 729.9 424.4 730.9 424.7 732 424.8 733 424.7 734 424.3 735 423.7 736 422.9 737 422 738 420.8 739.1 419.4 740.1 417.9 741.1 416.3 742.1 414.5 743.1 412.6 744.1 410.6 745.1 408.5 746.1 406.4 747.2 404.3 748.2 402.2 749.2 400.1 750.2 398.1 751.2 396.1 752.2 394.2 753.2 392.5 754.3 390.8 755.3 389.4 756.3 388 757.3 386.9 758.3 386 759.3 385.2 760.3 384.7 761.4 384.4 762.4 384.3 763.4 384.5 764.4 384.8 765.4 385.4 766.4 386.2 767.4 387.2 768.4 388.3 769.5 389.7 770.5 391.2 771.5 392.9 772.5 394.7 773.5 396.6 774.5 398.6 775.5 400.6 776.6 402.7 777.6 404.8 778.6 406.9 779.6 409 780.6 411.1 781.6 413 782.6 414.9 783.6 416.7 784.7 418.3 785.7 419.8 786.7 421.1 787.7 422.2 788.7 423.2 789.7 423.9 790.7 424.4 791.8 424.7 792.8 424.8 793.8 424.7 794.8 424.3 795.8 423.7 796.8 422.9 797.8 422 798.9 420.8 799.9 419.4 800.9 417.9 801.9 416.3 802.9 414.5 803.9 412.6 804.9 410.6 805.9 408.5 807 406.4 808 404.3 809 402.2 810 400.1 811 398.1 812 396.1 813 394.2 814.1 392.5 815.1 390.8 816.1 389.4 817.1 388 818.1 386.9 819.1 386 820.1 385.2 821.1 384.7 822.2 384.4 823.2 384.3 824.2 384.5 825.2 384.8 826.2 385.4 827.2 386.2 828.2 387.2 829.3 388.3 830.3 389.7 831.3 391.2 832.3 392.9 833.3 394.7 834.3 396.6 835.3 398.6 836.4 400.6 837.4 402.7 838.4 404.8 839.4 406.9 840.4 409 841.4 411.1 842.4 413 843.4 414.9 844.5 416.7 845.5 418.3 846.5 419.8 847.5 421.1 848.5 422.2 849.5 423.2 850.5 423.9 851.6 424.4 852.6 424.7 853.6 424.8 854.6 424.7 855.6 424.3 856.6 423.7 857.6 422.9 858.6 422 859.7 420.8 860.7 419.4 861.7 417.9 862.7 416.3 863.7 414.5 864.7 412.6 865.7 410.6 866.8 408.5 867.8 406.4 868.8 404.3 869.8 402.2 870.8 400.1 871.8 398.1 872.8 396.1 873.9 394.2 874.9 392.5 875.9 390.8 876.9 389.4 877.9 388 878.9 386.9 879.9 386 880.9 385.2 882 384.7 883 384.4 884 384.3 885 384.5 886 384.8 887 385.4 888 386.2 889.1 387.2 890.1 388.3 891.1 389.7 892.1 391.2 893.1 392.9 894.1 394.7 895.1 396.6 896.1 398.6 897.2 400.6 898.2 402.7 899.2 404.8 900.2 406.9 901.2 409 902.2 411.1 903.2 413 904.3 414.9 905.3 416.7 906.3 418.3 907.3 419.8 908.3 421.1 909.3 422.2 910.3 423.2 911.4 423.9 911.4 424.8"/><path id="cf6" d="M668.1 424.8 668.1 424.8 669.1 424.7 670.1 424.4 671.1 423.8 672.2 423.1 673.2 422.1 674.2 420.9 675.2 419.6 676.2 418.1 677.2 416.5 678.2 414.7 679.3 412.8 680.3 410.8 681.3 408.8 682.3 406.7 683.3 404.6 684.3 402.4 685.3 400.4 686.4 398.3 687.4 396.3 688.4 394.4 689.4 392.7 690.4 391 691.4 389.5 692.4 388.2 693.4 387 694.5 386.1 695.5 385.3 696.5 384.8 697.5 384.4 698.5 384.3 699.5 384.4 700.5 384.8 701.6 385.3 702.6 386.1 703.6 387 704.6 388.2 705.6 389.5 706.6 391 707.6 392.7 708.6 394.4 709.7 396.3 710.7 398.3 711.7 400.4 712.7 402.4 713.7 404.6 714.7 406.7 715.7 408.8 716.8 410.8 717.8 412.8 718.8 414.7 719.8 416.5 720.8 418.1 721.8 419.6 722.8 420.9 723.9 422.1 724.9 423.1 725.9 423.8 726.9 424.4 727.9 424.7 728.9 424.8 729.9 424.7 730.9 424.4 732 423.8 733 423.1 734 422.1 735 420.9 736 419.6 737 418.1 738 416.5 739.1 414.7 740.1 412.8 741.1 410.8 742.1 408.8 743.1 406.7 744.1 404.6 745.1 402.4 746.1 400.4 747.2 398.3 748.2 396.3 749.2 394.4 750.2 392.7 751.2 391 752.2 389.5 753.2 388.2 754.3 387 755.3 386.1 756.3 385.3 757.3 384.8 758.3 384.4 759.3 384.3 760.3 384.4 761.4 384.8 762.4 385.3 763.4 386.1 764.4 387 765.4 388.2 766.4 389.5 767.4 391 768.4 392.7 769.5 394.4 770.5 396.3 771.5 398.3 772.5 400.4 773.5 402.4 774.5 404.6 775.5 406.7 776.6 408.8 777.6 410.8 778.6 412.8 779.6 414.7 780.6 416.5 781.6 418.1 782.6 419.6 783.6 420.9 784.7 422.1 785.7 423.1 786.7 423.8 787.7 424.4 788.7 424.7 789.7 424.8 790.7 424.7 791.8 424.4 792.8 423.8 793.8 423.1 794.8 422.1 795.8 420.9 796.8 419.6 797.8 418.1 798.9 416.5 799.9 414.7 800.9 412.8 801.9 410.8 802.9 408.8 803.9 406.7 804.9 404.6 805.9 402.4 807 400.4 808 398.3 809 396.3 810 394.4 811 392.7 812 391 813 389.5 814.1 388.2 815.1 387 816.1 386.1 817.1 385.3 818.1 384.8 819.1 384.4 820.1 384.3 821.1 384.4 822.2 384.8 823.2 385.3 824.2 386.1 825.2 387 826.2 388.2 827.2 389.5 828.2 391 829.3 392.7 830.3 394.4 831.3 396.3 832.3 398.3 833.3 400.4 834.3 402.4 835.3 404.6 836.4 406.7 837.4 408.8 838.4 410.8 839.4 412.8 840.4 414.7 841.4 416.5 842.4 418.1 843.4 419.6 844.5 420.9 845.5 422.1 846.5 423.1 847.5 423.8 848.5 424.4 849.5 424.7 850.5 424.8 851.6 424.7 852.6 424.4 853.6 423.8 854.6 423.1 855.6 422.1 856.6 420.9 857.6 419.6 858.6 418.1 859.7 416.5 860.7 414.7 861.7 412.8 862.7 410.8 863.7 408.8 864.7 406.7 865.7 404.6 866.8 402.4 867.8 400.4 868.8 398.3 869.8 396.3 870.8 394.4 871.8 392.7 872.8 391 873.9 389.5 874.9 388.2 875.9 387 876.9 386.1 877.9 385.3 878.9 384.8 879.9 384.4 880.9 384.3 882 384.4 883 384.8 884 385.3 885 386.1 886 387 887 388.2 888 389.5 889.1 391 890.1 392.7 891.1 394.4 892.1 396.3 893.1 398.3 894.1 400.4 895.1 402.4 896.1 404.6 897.2 406.7 898.2 408.8 899.2 410.8 900.2 412.8 901.2 414.7 902.2 416.5 903.2 418.1 904.3 419.6 905.3 420.9 906.3 422.1 907.3 423.1 908.3 423.8 909.3 424.4 910.3 424.7 911.4 424.8 911.4 424.8"/><path id="cf7" d="M668.1 424.8 668.1 424 669.1 423.3 670.1 422.5 671.1 421.4 672.2 420.1 673.2 418.7 674.2 417.1 675.2 415.3 676.2 413.5 677.2 411.5 678.2 409.5 679.3 407.4 680.3 405.3 681.3 403.2 682.3 401.1 683.3 399 684.3 397 685.3 395.1 686.4 393.3 687.4 391.6 688.4 390 689.4 388.7 690.4 387.4 691.4 386.4 692.4 385.6 693.4 384.9 694.5 384.5 695.5 384.3 696.5 384.4 697.5 384.6 698.5 385.1 699.5 385.8 700.5 386.7 701.6 387.8 702.6 389 703.6 390.5 704.6 392.1 705.6 393.8 706.6 395.6 707.6 397.6 708.6 399.6 709.7 401.7 710.7 403.8 711.7 405.9 712.7 408 713.7 410.1 714.7 412.1 715.7 414 716.8 415.8 717.8 417.5 718.8 419.1 719.8 420.5 720.8 421.7 721.8 422.7 722.8 423.6 723.9 424.2 724.9 424.6 725.9 424.8 726.9 424.8 727.9 424.5 728.9 424 729.9 423.3 730.9 422.5 732 421.4 733 420.1 734 418.7 735 417.1 736 415.3 737 413.5 738 411.5 739.1 409.5 740.1 407.4 741.1 405.3 742.1 403.2 743.1 401.1 744.1 399 745.1 397 746.1 395.1 747.2 393.3 748.2 391.6 749.2 390 750.2 388.7 751.2 387.4 752.2 386.4 753.2 385.6 754.3 384.9 755.3 384.5 756.3 384.3 757.3 384.4 758.3 384.6 759.3 385.1 760.3 385.8 761.4 386.7 762.4 387.8 763.4 389 764.4 390.5 765.4 392.1 766.4 393.8 767.4 395.6 768.4 397.6 769.5 399.6 770.5 401.7 771.5 403.8 772.5 405.9 773.5 408 774.5 410.1 775.5 412.1 776.6 414 777.6 415.8 778.6 417.5 779.6 419.1 780.6 420.5 781.6 421.7 782.6 422.7 783.6 423.6 784.7 424.2 785.7 424.6 786.7 424.8 787.7 424.8 788.7 424.5 789.7 424 790.7 423.3 791.8 422.5 792.8 421.4 793.8 420.1 794.8 418.7 795.8 417.1 796.8 415.3 797.8 413.5 798.9 411.5 799.9 409.5 800.9 407.4 801.9 405.3 802.9 403.2 803.9 401.1 804.9 399 805.9 397 807 395.1 808 393.3 809 391.6 810 390 811 388.7 812 387.4 813 386.4 814.1 385.6 815.1 384.9 816.1 384.5 817.1 384.3 818.1 384.4 819.1 384.6 820.1 385.1 821.1 385.8 822.2 386.7 823.2 387.8 824.2 389 825.2 390.5 826.2 392.1 827.2 393.8 828.2 395.6 829.3 397.6 830.3 399.6 831.3 401.7 832.3 403.8 833.3 405.9 834.3 408 835.3 410.1 836.4 412.1 837.4 414 838.4 415.8 839.4 417.5 840.4 419.1 841.4 420.5 842.4 421.7 843.4 422.7 844.5 423.6 845.5 424.2 846.5 424.6 847.5 424.8 848.5 424.8 849.5 424.5 850.5 424 851.6 423.3 852.6 422.5 853.6 421.4 854.6 420.1 855.6 418.7 856.6 417.1 857.6 415.3 858.6 413.5 859.7 411.5 860.7 409.5 861.7 407.4 862.7 405.3 863.7 403.2 864.7 401.1 865.7 399 866.8 397 867.8 395.1 868.8 393.3 869.8 391.6 870.8 390 871.8 388.7 872.8 387.4 873.9 386.4 874.9 385.6 875.9 384.9 876.9 384.5 877.9 384.3 878.9 384.4 879.9 384.6 880.9 385.1 882 385.8 883 386.7 884 387.8 885 389 886 390.5 887 392.1 888 393.8 889.1 395.6 890.1 397.6 891.1 399.6 892.1 401.7 893.1 403.8 894.1 405.9 895.1 408 896.1 410.1 897.2 412.1 898.2 414 899.2 415.8 900.2 417.5 901.2 419.1 902.2 420.5 903.2 421.7 904.3 422.7 905.3 423.6 906.3 424.2 907.3 424.6 908.3 424.8 909.3 424.8 910.3 424.5 911.4 424 911.4 424.8"/><path id="cf8" d="M668.1 424.8 668.1 422.5 669.1 421.5 670.1 420.2 671.1 418.8 672.2 417.2 673.2 415.5 674.2 413.6 675.2 411.7 676.2 409.7 677.2 407.6 678.2 405.5 679.3 403.4 680.3 401.3 681.3 399.2 682.3 397.2 683.3 395.3 684.3 393.4 685.3 391.7 686.4 390.2 687.4 388.8 688.4 387.5 689.4 386.5 690.4 385.6 691.4 385 692.4 384.6 693.4 384.4 694.5 384.4 695.5 384.6 696.5 385.1 697.5 385.7 698.5 386.6 699.5 387.7 700.5 388.9 701.6 390.3 702.6 391.9 703.6 393.7 704.6 395.5 705.6 397.4 706.6 399.5 707.6 401.5 708.6 403.6 709.7 405.8 710.7 407.9 711.7 409.9 712.7 411.9 713.7 413.9 714.7 415.7 715.7 417.4 716.8 419 717.8 420.4 718.8 421.6 719.8 422.7 720.8 423.5 721.8 424.1 722.8 424.6 723.9 424.8 724.9 424.8 725.9 424.5 726.9 424.1 727.9 423.4 728.9 422.5 729.9 421.5 730.9 420.2 732 418.8 733 417.2 734 415.5 735 413.6 736 411.7 737 409.7 738 407.6 739.1 405.5 740.1 403.4 741.1 401.3 742.1 399.2 743.1 397.2 744.1 395.3 745.1 393.4 746.1 391.7 747.2 390.2 748.2 388.8 749.2 387.5 750.2 386.5 751.2 385.6 752.2 385 753.2 384.6 754.3 384.4 755.3 384.4 756.3 384.6 757.3 385.1 758.3 385.7 759.3 386.6 760.3 387.7 761.4 388.9 762.4 390.3 763.4 391.9 764.4 393.7 765.4 395.5 766.4 397.4 767.4 399.5 768.4 401.5 769.5 403.6 770.5 405.8 771.5 407.9 772.5 409.9 773.5 411.9 774.5 413.9 775.5 415.7 776.6 417.4 777.6 419 778.6 420.4 779.6 421.6 780.6 422.7 781.6 423.5 782.6 424.1 783.6 424.6 784.7 424.8 785.7 424.8 786.7 424.5 787.7 424.1 788.7 423.4 789.7 422.5 790.7 421.5 791.8 420.2 792.8 418.8 793.8 417.2 794.8 415.5 795.8 413.6 796.8 411.7 797.8 409.7 798.9 407.6 799.9 405.5 800.9 403.4 801.9 401.3 802.9 399.2 803.9 397.2 804.9 395.3 805.9 393.4 807 391.7 808 390.2 809 388.8 810 387.5 811 386.5 812 385.6 813 385 814.1 384.6 815.1 384.4 816.1 384.4 817.1 384.6 818.1 385.1 819.1 385.7 820.1 386.6 821.1 387.7 822.2 388.9 823.2 390.3 824.2 391.9 825.2 393.7 826.2 395.5 827.2 397.4 828.2 399.5 829.3 401.5 830.3 403.6 831.3 405.8 832.3 407.9 833.3 409.9 834.3 411.9 835.3 413.9 836.4 415.7 837.4 417.4 838.4 419 839.4 420.4 840.4 421.6 841.4 422.7 842.4 423.5 843.4 424.1 844.5 424.6 845.5 424.8 846.5 424.8 847.5 424.5 848.5 424.1 849.5 423.4 850.5 422.5 851.6 421.5 852.6 420.2 853.6 418.8 854.6 417.2 855.6 415.5 856.6 413.6 857.6 411.7 858.6 409.7 859.7 407.6 860.7 405.5 861.7 403.4 862.7 401.3 863.7 399.2 864.7 397.2 865.7 395.3 866.8 393.4 867.8 391.7 868.8 390.2 869.8 388.8 870.8 387.5 871.8 386.5 872.8 385.6 873.9 385 874.9 384.6 875.9 384.4 876.9 384.4 877.9 384.6 878.9 385.1 879.9 385.7 880.9 386.6 882 387.7 883 388.9 884 390.3 885 391.9 886 393.7 887 395.5 888 397.4 889.1 399.5 890.1 401.5 891.1 403.6 892.1 405.8 893.1 407.9 894.1 409.9 895.1 411.9 896.1 413.9 897.2 415.7 898.2 417.4 899.2 419 900.2 420.4 901.2 421.6 902.2 422.7 903.2 423.5 904.3 424.1 905.3 424.6 906.3 424.8 907.3 424.8 908.3 424.5 909.3 424.1 910.3 423.4 911.4 422.5 911.4 424.8"/></defs>
<use href="#cf0" fill="#5E81B5" fill-opacity="0.2" stroke="none"/>
<use href="#cf1" fill="#E19C24" fill-opacity="0.2" stroke="none"/>
<use href="#cf2" fill="#8FB032" fill-opacity="0.2" stroke="none"/>
<use href="#cf3" fill="#EB6235" fill-opacity="0.2" stroke="none"/>
<use href="#cf4" fill="#8778B3" fill-opacity="0.2" stroke="none"/>
<use href="#cf5" fill="#C56E1A" fill-opacity="0.2" stroke="none"/>
<use href="#cf6" fill="#5D9EC7" fill-opacity="0.2" stroke="none"/>
<use href="#cf7" fill="#FFBF00" fill-opacity="0.2" stroke="none"/>
<use href="#cf8" fill="#A5609D" fill-opacity="0.2" stroke="none"/>
<use href="#cf0" fill="none" stroke="#5E81B5" stroke-width="2.1" stroke-dasharray="10 6.3"/>
<use href="#cf1" fill="none" stroke="#E19C24" stroke-width="1.4"/>
<use href="#cf2" fill="none" stroke="#8FB032" stroke-width="2.1" stroke-dasharray="10 6.3"/>
<use href="#cf3" fill="none" stroke="#EB6235" stroke-width="1.4"/>
<use href="#cf4" fill="none" stroke="#8778B3" stroke-width="2.1" stroke-dasharray="10 6.3"/>
<use href="#cf5" fill="none" stroke="#C56E1A" stroke-width="1.4"/>
<use href="#cf6" fill="none" stroke="#5D9EC7" stroke-width="2.1" stroke-dasharray="10 6.3"/>
<use href="#cf7" fill="none" stroke="#FFBF00" stroke-width="1.4"/>
<use href="#cf8" fill="none" stroke="#A5609D" stroke-width="1.4"/>
</g></g>
<path d="M494.4 432.5 v-2.0 M494.4 261.1 v2.0 M503.4 432.5 v-2.0 M503.4 261.1 v2.0 M512.4 432.5 v-3.0 M512.4 261.1 v3.0 M521.4 432.5 v-2.0 M521.4 261.1 v2.0 M530.4 432.5 v-2.0 M530.4 261.1 v2.0 M539.4 432.5 v-2.0 M539.4 261.1 v2.0 M548.4 432.5 v-3.0 M548.4 261.1 v3.0 M557.4 432.5 v-2.0 M557.4 261.1 v2.0 M566.4 432.5 v-2.0 M566.4 261.1 v2.0 M575.4 432.5 v-2.0 M575.4 261.1 v2.0 M584.4 432.5 v-3.0 M584.4 261.1 v3.0 M593.4 432.5 v-2.0 M593.4 261.1 v2.0 M602.4 432.5 v-2.0 M602.4 261.1 v2.0 M611.4 432.5 v-2.0 M611.4 261.1 v2.0 M620.4 432.5 v-3.0 M620.4 261.1 v3.0 M629.4 432.5 v-2.0 M629.4 261.1 v2.0 M638.4 432.5 v-2.0 M638.4 261.1 v2.0 M647.4 432.5 v-2.0 M647.4 261.1 v2.0 M656.4 432.5 v-3.0 M656.4 261.1 v3.0 M665.4 432.5 v-2.0 M665.4 261.1 v2.0 M674.4 432.5 v-2.0 M674.4 261.1 v2.0 M491.3 424.8 h3.0 M677.8 424.8 h-3.0 M491.3 416.3 h2.0 M677.8 416.3 h-2.0 M491.3 407.8 h2.0 M677.8 407.8 h-2.0 M491.3 399.2 h2.0 M677.8 399.2 h-2.0 M491.3 390.7 h2.0 M677.8 390.7 h-2.0 M491.3 382.2 h3.0 M677.8 382.2 h-3.0 M491.3 373.7 h2.0 M677.8 373.7 h-2.0 M491.3 365.2 h2.0 M677.8 365.2 h-2.0 M491.3 356.6 h2.0 M677.8 356.6 h-2.0 M491.3 348.1 h2.0 M677.8 348.1 h-2.0 M491.3 339.6 h3.0 M677.8 339.6 h-3.0 M491.3 331.1 h2.0 M677.8 331.1 h-2.0 M491.3 322.6 h2.0 M677.8 322.6 h-2.0 M491.3 314.0 h2.0 M677.8 314.0 h-2.0 M491.3 305.5 h2.0 M677.8 305.5 h-2.0 M491.3 297.0 h3.0 M677.8 297.0 h-3.0 M491.3 288.5 h2.0 M677.8 288.5 h-2.0 M491.3 280.0 h2.0 M677.8 280.0 h-2.0 M491.3 271.4 h2.0 M677.8 271.4 h-2.0 M491.3 262.9 h2.0 M677.8 262.9 h-2.0" stroke="#000" stroke-width="0.9" fill="none"/>
<rect x="491.3" y="261.1" width="186.5" height="171.4" fill="none" stroke="#000" stroke-width="2.1"/>
<text transform="translate(488.8 429.3) scale(0.78 1)" text-anchor="end" class="tk">0</text>
<text transform="translate(488.8 386.7) scale(0.78 1)" text-anchor="end" class="tk">10</text>
<text transform="translate(488.8 344.1) scale(0.78 1)" text-anchor="end" class="tk">20</text>
<text transform="translate(488.8 301.5) scale(0.78 1)" text-anchor="end" class="tk">30</text>
<text transform="translate(511.2 448.0) scale(0.78 1)" text-anchor="middle" class="tk">−4</text>
<text transform="translate(547.2 448.0) scale(0.78 1)" text-anchor="middle" class="tk">−2</text>
<text transform="translate(584.4 448.0) scale(0.78 1)" text-anchor="middle" class="tk">0</text>
<text transform="translate(620.4 448.0) scale(0.78 1)" text-anchor="middle" class="tk">2</text>
<text transform="translate(656.4 448.0) scale(0.78 1)" text-anchor="middle" class="tk">4</text>
<text transform="translate(477.5 347.0) rotate(-90) scale(1 0.74)" text-anchor="middle" class="yl"><tspan font-style="italic">U</tspan><tspan font-size="5.5" dy="1.6">3</tspan><tspan dy="-1.6">(x,t)</tspan></text>
<text transform="translate(584.0 471.0) scale(0.74 1)" text-anchor="middle" class="xl">x</text>
<text x="60.7" y="235.6" class="cap" textLength="19.4" lengthAdjust="spacingAndGlyphs">(a)</text>
<text x="87.6" y="235.6" class="cap" textLength="9.6" lengthAdjust="spacingAndGlyphs" font-style="italic">β</text>
<text x="102.2" y="236.4" class="cap" textLength="12.6" lengthAdjust="spacingAndGlyphs">=</text>
<text x="120.0" y="235.6" class="cap" textLength="24.3" lengthAdjust="spacingAndGlyphs">0.9.</text>
<text x="325.7" y="235.6" class="cap" textLength="20.9" lengthAdjust="spacingAndGlyphs">(b)</text>
<text x="354.1" y="235.6" class="cap" textLength="9.6" lengthAdjust="spacingAndGlyphs" font-style="italic">β</text>
<text x="368.7" y="236.4" class="cap" textLength="12.6" lengthAdjust="spacingAndGlyphs">=</text>
<text x="386.5" y="235.6" class="cap" textLength="11.8" lengthAdjust="spacingAndGlyphs">1.</text>
<text x="541.3" y="235.6" class="cap" textLength="18.7" lengthAdjust="spacingAndGlyphs">(c)</text>
<text x="567.5" y="235.6" class="cap" textLength="9.6" lengthAdjust="spacingAndGlyphs" font-style="italic">β</text>
<text x="582.1" y="236.4" class="cap" textLength="12.6" lengthAdjust="spacingAndGlyphs">=</text>
<text x="599.9" y="235.6" class="cap" textLength="33.2" lengthAdjust="spacingAndGlyphs">0.13.</text>
<text x="77.3" y="497.5" class="cap" textLength="20.9" lengthAdjust="spacingAndGlyphs">(d)</text>
<text x="105.7" y="497.5" class="cap" textLength="9.6" lengthAdjust="spacingAndGlyphs" font-style="italic">β</text>
<text x="120.3" y="498.3" class="cap" textLength="12.6" lengthAdjust="spacingAndGlyphs">=</text>
<text x="138.1" y="497.5" class="cap" textLength="24.3" lengthAdjust="spacingAndGlyphs">0.9.</text>
<text x="309.7" y="497.5" class="cap" textLength="18.7" lengthAdjust="spacingAndGlyphs">(e)</text>
<text x="335.9" y="497.5" class="cap" textLength="9.6" lengthAdjust="spacingAndGlyphs" font-style="italic">β</text>
<text x="350.5" y="498.3" class="cap" textLength="12.6" lengthAdjust="spacingAndGlyphs">=</text>
<text x="368.3" y="497.5" class="cap" textLength="11.8" lengthAdjust="spacingAndGlyphs">1.</text>
<text x="524.7" y="497.5" class="cap" textLength="17.9" lengthAdjust="spacingAndGlyphs">(f)</text>
<text x="550.1" y="497.5" class="cap" textLength="9.6" lengthAdjust="spacingAndGlyphs" font-style="italic">β</text>
<text x="564.7" y="498.3" class="cap" textLength="12.6" lengthAdjust="spacingAndGlyphs">=</text>
<text x="582.5" y="497.5" class="cap" textLength="33.2" lengthAdjust="spacingAndGlyphs">0.13.</text>
</svg>
</body></html>
